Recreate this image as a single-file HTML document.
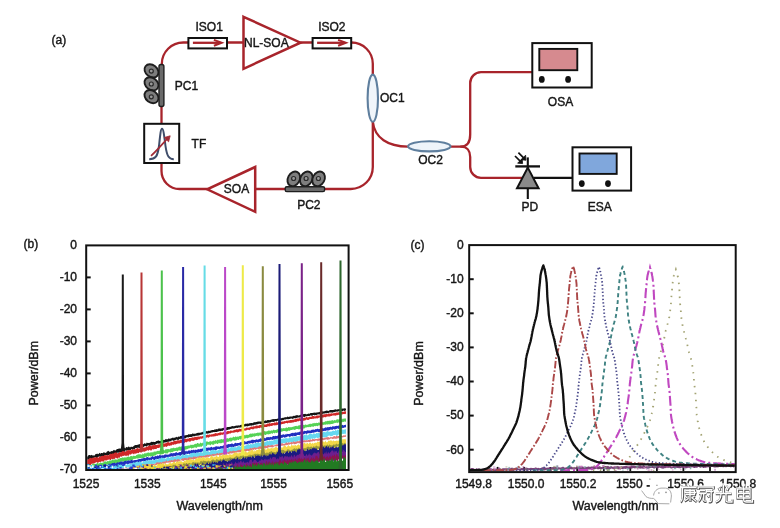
<!DOCTYPE html>
<html><head><meta charset="utf-8"><style>
html,body{margin:0;padding:0;background:#fff;width:780px;height:528px;overflow:hidden}
svg{display:block;will-change:transform}
text{font-family:"Liberation Sans",sans-serif}
</style></head><body>
<svg width="780" height="528" viewBox="0 0 780 528">
<rect width="780" height="528" fill="#fff"/>
<g fill="none" stroke="#a8242b" stroke-width="2.3" stroke-linecap="round">
<path d="M161.8,66 L161.8,64 A21.5,21.5 0 0 1 183.3,42.5 L189,42.5"/>
<path d="M227,42.5 L244,42.5"/>
<path d="M301,42.5 L313,42.5"/>
<path d="M351.5,42.5 A21.3,21.3 0 0 1 372.8,63.8 L372.8,75"/>
<path d="M372.8,121.5 L372.8,167 A22,22 0 0 1 350.8,189 L325,189"/>
<path d="M284.6,189 L255.4,189"/>
<path d="M207,189 L179.5,189 A18,18 0 0 1 161.5,171 L161.5,163"/>
<path d="M161.5,123.6 L161.5,106"/>
<path d="M372.8,121.5 C374.5,138 388,146.6 408,146.6"/>
<path d="M450.6,146.6 L461,146.6 C467,146.6 470.2,142 470.2,134.6 L470.2,83 A10.8,10.8 0 0 1 481,72.2 L531.4,72.2"/>
<path d="M461,146.6 C467,146.6 470.2,151 470.2,157 L470.2,167 A10.8,10.8 0 0 0 481,177.8 L522,177.8"/>
</g>
<rect x="188.4" y="38" width="38.6" height="10.4" fill="#fff" stroke="#111" stroke-width="2"/>
<path d="M192.9,42.8 L220.4,42.8" stroke="#a8242b" stroke-width="2.3"/>
<path d="M213.9,39.9 L221.7,42.8 L213.9,45.7" fill="none" stroke="#a8242b" stroke-width="2" stroke-linejoin="miter"/>
<rect x="312.6" y="38" width="38.6" height="10.4" fill="#fff" stroke="#111" stroke-width="2"/>
<path d="M317.1,42.8 L344.6,42.8" stroke="#a8242b" stroke-width="2.3"/>
<path d="M338.1,39.9 L345.9,42.8 L338.1,45.7" fill="none" stroke="#a8242b" stroke-width="2" stroke-linejoin="miter"/>
<text x="195.5" y="30.8" font-size="12" text-anchor="start" fill="#161616" stroke="#161616" stroke-width="0.4" >ISO1</text>
<text x="318.2" y="30.8" font-size="12" text-anchor="start" fill="#161616" stroke="#161616" stroke-width="0.4" >ISO2</text>
<path d="M243.5,16.8 L300.5,42.7 L243.5,68.8 Z" fill="#fff" stroke="#a8242b" stroke-width="2.5" stroke-linejoin="miter"/>
<text x="244" y="46.8" font-size="12" text-anchor="start" fill="#161616" stroke="#161616" stroke-width="0.4" >NL-SOA</text>
<path d="M255.2,167 L207.2,189.3 L255.2,211.8 Z" fill="#fff" stroke="#a8242b" stroke-width="2.5"/>
<text x="223.8" y="192.8" font-size="12" text-anchor="start" fill="#161616" stroke="#161616" stroke-width="0.4" >SOA</text>
<ellipse cx="151.5" cy="70.9" rx="7.6" ry="5.9" transform="rotate(38 151.5 70.9)" fill="#7e7e7e" stroke="#1e1e1e" stroke-width="1.9"/>
<circle cx="151.3" cy="71.1" r="2.0" fill="#9a9a9a" stroke="#2a2a2a" stroke-width="1.2"/>
<ellipse cx="151.5" cy="83.8" rx="7.6" ry="5.9" transform="rotate(38 151.5 83.8)" fill="#7e7e7e" stroke="#1e1e1e" stroke-width="1.9"/>
<circle cx="151.3" cy="84" r="2.0" fill="#9a9a9a" stroke="#2a2a2a" stroke-width="1.2"/>
<ellipse cx="151.5" cy="96.6" rx="7.6" ry="5.9" transform="rotate(38 151.5 96.6)" fill="#7e7e7e" stroke="#1e1e1e" stroke-width="1.9"/>
<circle cx="151.3" cy="96.8" r="2.0" fill="#9a9a9a" stroke="#2a2a2a" stroke-width="1.2"/>
<rect x="159" y="64.5" width="4.9" height="42" rx="2" fill="#6a6a6a" stroke="#1e1e1e" stroke-width="1.4"/>
<text x="174.8" y="90.4" font-size="12" text-anchor="start" fill="#161616" stroke="#161616" stroke-width="0.4" >PC1</text>
<ellipse cx="293.8" cy="178.9" rx="7.7" ry="5.9" transform="rotate(-62 293.8 178.9)" fill="#7e7e7e" stroke="#1e1e1e" stroke-width="1.9"/>
<circle cx="293.6" cy="178.5" r="2.0" fill="#9a9a9a" stroke="#2a2a2a" stroke-width="1.2"/>
<ellipse cx="306.3" cy="178.9" rx="7.7" ry="5.9" transform="rotate(-62 306.3 178.9)" fill="#7e7e7e" stroke="#1e1e1e" stroke-width="1.9"/>
<circle cx="306.1" cy="178.5" r="2.0" fill="#9a9a9a" stroke="#2a2a2a" stroke-width="1.2"/>
<ellipse cx="318.6" cy="178.9" rx="7.7" ry="5.9" transform="rotate(-62 318.6 178.9)" fill="#7e7e7e" stroke="#1e1e1e" stroke-width="1.9"/>
<circle cx="318.4" cy="178.5" r="2.0" fill="#9a9a9a" stroke="#2a2a2a" stroke-width="1.2"/>
<rect x="285.2" y="186.7" width="39.4" height="4.9" rx="1.6" fill="#6a6a6a" stroke="#1e1e1e" stroke-width="1.4"/>
<text x="297.2" y="208.6" font-size="12" text-anchor="start" fill="#161616" stroke="#161616" stroke-width="0.4" >PC2</text>
<rect x="144.2" y="123.8" width="35" height="39.2" fill="#fff" stroke="#111" stroke-width="2"/>
<path d="M149.2,159.2 C155.5,159.2 157.5,157 159,146 C160.3,134 160.8,128.8 162,128.8 C163.3,128.8 164,134 165.5,146 C167,156.5 169,159.2 173.8,159.2" fill="none" stroke="#3f4d6a" stroke-width="2"/>
<path d="M151,155.8 C156,151.5 161,145.5 167.5,138.5" fill="none" stroke="#a02a35" stroke-width="1.7"/>
<path d="M164.2,137.6 L170.2,135.8 L168.6,141.8 Z" fill="#a02a35" stroke="#a02a35" stroke-width="0.8"/>
<text x="191.6" y="147.6" font-size="12" text-anchor="start" fill="#161616" stroke="#161616" stroke-width="0.4" >TF</text>
<ellipse cx="372.8" cy="98.2" rx="5.2" ry="23.6" fill="#f0f5fa" stroke="#5f7f9e" stroke-width="2.1"/>
<text x="380" y="102.2" font-size="12" text-anchor="start" fill="#161616" stroke="#161616" stroke-width="0.4" >OC1</text>
<ellipse cx="429.3" cy="146.3" rx="21.2" ry="5.1" fill="#eef4fa" stroke="#5f7f9e" stroke-width="2.1"/>
<text x="418.2" y="164.2" font-size="12" text-anchor="start" fill="#161616" stroke="#161616" stroke-width="0.4" >OC2</text>
<rect x="532.3" y="43.1" width="59.4" height="44.4" fill="#fff" stroke="#111" stroke-width="2"/>
<rect x="539.3" y="48.9" width="38" height="21.3" fill="#d68a8f" stroke="#111" stroke-width="1.9"/>
<ellipse cx="541.8" cy="79.4" rx="2.9" ry="3.4" fill="#111"/>
<ellipse cx="568.1" cy="79.4" rx="2.9" ry="3.4" fill="#111"/>
<text x="547.8" y="105.6" font-size="12" text-anchor="start" fill="#161616" stroke="#161616" stroke-width="0.4" >OSA</text>
<rect x="572.5" y="147.3" width="58.6" height="43.3" fill="#fff" stroke="#111" stroke-width="2"/>
<rect x="579.5" y="153.5" width="37.2" height="20.4" fill="#80a7dc" stroke="#111" stroke-width="1.9"/>
<ellipse cx="581.8" cy="183.6" rx="2.9" ry="3.4" fill="#111"/>
<ellipse cx="608" cy="183.6" rx="2.9" ry="3.4" fill="#111"/>
<text x="587.8" y="210.8" font-size="12" text-anchor="start" fill="#161616" stroke="#161616" stroke-width="0.4" >ESA</text>
<path d="M534,177.9 L572.5,177.9" stroke="#111" stroke-width="2.1"/>
<path d="M527.8,157.4 L527.8,199" stroke="#111" stroke-width="2.1"/>
<path d="M515.3,166.4 L540,166.4" stroke="#111" stroke-width="2.3"/>
<path d="M527.8,167.6 L538.6,188.3 L517,188.3 Z" fill="#8a8a8a" stroke="#111" stroke-width="2" stroke-linejoin="miter"/>
<path d="M515.0,156.0 L521.2,162.2 M518.4,152.6 L524.6,158.8" stroke="#111" stroke-width="1.7"/>
<path d="M517.6,163.2 L522.6,163.6 L522.2,158.6 Z M521.0,159.8 L526.0,160.2 L525.6,155.2 Z" fill="#111" stroke="#111" stroke-width="0.8" stroke-linejoin="miter"/>
<text x="521.6" y="210.8" font-size="12" text-anchor="start" fill="#161616" stroke="#161616" stroke-width="0.4" >PD</text>
<text x="51.6" y="44.2" font-size="12" text-anchor="start" fill="#161616" stroke="#161616" stroke-width="0.4" >(a)</text>
<defs><clipPath id="cb"><rect x="87.2" y="246.4" width="260.4" height="222.6"/></clipPath><clipPath id="cc"><rect x="470" y="246" width="264.7" height="225"/></clipPath></defs>
<g clip-path="url(#cb)">
<path d="M86,456.4 L86.8,456.8 L87.6,456.4 L88.4,455.3 L89.2,455.1 L90,455 L90.8,455.4 L91.6,454.7 L92.4,455.4 L93.2,455.2 L94,455.7 L94.8,455.3 L95.6,453.9 L96.4,454 L97.2,453.6 L98,454.2 L98.8,453.8 L99.6,452.8 L100.4,453.7 L101.2,452.9 L102,452.9 L102.8,453.3 L103.6,452.2 L104.4,452.5 L105.2,452.7 L106,452.9 L106.8,451.8 L107.6,451.2 L108.4,450.8 L109.2,451.8 L110,451.8 L110.8,451.4 L111.6,451 L112.4,451.2 L113.2,450.5 L114,449.7 L114.8,450.4 L115.6,450.5 L116.4,449.6 L117.2,448.9 L118,448.9 L118.8,448.6 L119.6,448.5 L120.4,448.8 L121.2,448.1 L122,448.6 L122.8,448.9 L123.6,447.9 L124.4,447.8 L125.2,448.5 L126,447.2 L126.8,447.1 L127.6,447.5 L128.4,446.5 L129.2,446.8 L130,447.5 L130.8,446.7 L131.6,446.7 L132.4,446.9 L133.2,446.6 L134,445.8 L134.8,445.3 L135.6,445 L136.4,445.1 L137.2,445.1 L138,444.4 L138.8,444.4 L139.6,444.1 L140.4,444.7 L141.2,444.1 L142,444.1 L142.8,444.5 L143.6,443.9 L144.4,443.2 L145.2,443.4 L146,443.8 L146.8,442.6 L147.6,443.1 L148.4,442.9 L149.2,442.8 L150,443 L150.8,442.1 L151.6,441.8 L152.4,442.1 L153.2,441.7 L154,442.1 L154.8,442 L155.6,441.8 L156.4,440.9 L157.2,440.9 L158,440.4 L158.8,440.5 L159.6,441.1 L160.4,440.9 L161.2,440.7 L162,439.8 L162.8,439.6 L163.6,439.9 L164.4,439.9 L165.2,439.6 L166,438.8 L166.8,439.5 L167.6,439.2 L168.4,438.4 L169.2,438.4 L170,438.9 L170.8,438.2 L171.6,438.3 L172.4,437.6 L173.2,438.2 L174,437.3 L174.8,437.9 L175.6,437.2 L176.4,436.8 L177.2,437.4 L178,436.8 L178.8,436.6 L179.6,436.8 L180.4,436.1 L181.2,435.9 L182,435.8 L182.8,435.5 L183.6,435.6 L184.4,435.6 L185.2,435.3 L186,435.2 L186.8,435.1 L187.6,434.9 L188.4,434.3 L189.2,434.3 L190,434.6 L190.8,434.1 L191.6,434.2 L192.4,433.6 L193.2,433.6 L194,433.9 L194.8,433.6 L195.6,433.7 L196.4,433.3 L197.2,433 L198,432.8 L198.8,432.7 L199.6,432.7 L200.4,432.8 L201.2,432.3 L202,432.4 L202.8,431.7 L203.6,431.5 L204.4,431.4 L205.2,431.7 L206,431.1 L206.8,431.3 L207.6,431.3 L208.4,430.7 L209.2,430.7 L210,430.9 L210.8,430.2 L211.6,430.3 L212.4,429.9 L213.2,430.1 L214,429.9 L214.8,429.3 L215.6,429.6 L216.4,429.1 L217.2,429.4 L218,428.8 L218.8,428.6 L219.6,428.6 L220.4,428.6 L221.2,428.7 L222,428.1 L222.8,428.2 L223.6,427.8 L224.4,428 L225.2,427.5 L226,427.7 L226.8,427.2 L227.6,427 L228.4,427.1 L229.2,427.1 L230,426.7 L230.8,426.7 L231.6,426.3 L232.4,426.1 L233.2,426.2 L234,426.3 L234.8,426 L235.6,425.8 L236.4,425.5 L237.2,425.7 L238,425.2 L238.8,425.6 L239.6,425.4 L240.4,425 L241.2,424.8 L242,424.8 L242.8,424.5 L243.6,424.6 L244.4,424.2 L245.2,423.8 L246,423.7 L246.8,423.7 L247.6,423.4 L248.4,423.8 L249.2,423.3 L250,423.2 L250.8,422.9 L251.6,422.9 L252.4,423.2 L253.2,422.6 L254,422.5 L254.8,422.1 L255.6,422.3 L256.4,422 L257.2,421.7 L258,421.6 L258.8,421.4 L259.6,421.5 L260.4,421.6 L261.2,421.5 L262,421.4 L262.8,421 L263.6,421.3 L264.4,421 L265.2,420.3 L266,420.8 L266.8,420.6 L267.6,420 L268.4,420.1 L269.2,420.2 L270,419.9 L270.8,419.8 L271.6,419.4 L272.4,419.2 L273.2,419 L274,419.2 L274.8,419.1 L275.6,418.9 L276.4,419 L277.2,418.7 L278,418.6 L278.8,418.6 L279.6,418 L280.4,418.3 L281.2,418.2 L282,417.9 L282.8,417.7 L283.6,417.8 L284.4,417.6 L285.2,417.1 L286,417.4 L286.8,417.1 L287.6,416.6 L288.4,416.9 L289.2,416.8 L290,416.6 L290.8,416.4 L291.6,416.6 L292.4,416.5 L293.2,415.7 L294,416.1 L294.8,415.7 L295.6,415.4 L296.4,415.3 L297.2,415.1 L298,415.6 L298.8,415.4 L299.6,415.3 L300.4,414.7 L301.2,414.8 L302,414.3 L302.8,414.5 L303.6,414.1 L304.4,414.1 L305.2,413.8 L306,414.2 L306.8,414.2 L307.6,414 L308.4,413.5 L309.2,413.9 L310,413.3 L310.8,413.1 L311.6,412.9 L312.4,412.9 L313.2,412.7 L314,412.8 L314.8,412.6 L315.6,412.8 L316.4,412.5 L317.2,412.6 L318,412.3 L318.8,412.2 L319.6,412.1 L320.4,411.6 L321.2,412 L322,411.5 L322.8,411.3 L323.6,411.6 L324.4,411.3 L325.2,411.1 L326,410.7 L326.8,410.6 L327.6,410.7 L328.4,410.9 L329.2,410.4 L330,410.1 L330.8,410.1 L331.6,409.9 L332.4,410.1 L333.2,410.1 L334,409.7 L334.8,409.6 L335.6,409.2 L336.4,409.7 L337.2,409.3 L338,409.4 L338.8,408.9 L339.6,408.9 L340.4,409.2 L341.2,409 L342,408.3 L342.8,408.8 L343.6,408.4 L344.4,408.2 L345.2,408.4 L346,408.4 L346,410.3 L345.2,410.8 L344.4,411 L343.6,410.4 L342.8,410.9 L342,411.2 L341.2,410.8 L340.4,411.5 L339.6,411.3 L338.8,411.3 L338,411.4 L337.2,411.8 L336.4,411.6 L335.6,411.8 L334.8,411.9 L334,412.2 L333.2,412.2 L332.4,412.7 L331.6,412.4 L330.8,412.4 L330,412.5 L329.2,412.6 L328.4,413.3 L327.6,412.9 L326.8,413.5 L326,413.1 L325.2,413.4 L324.4,413.5 L323.6,413.5 L322.8,414 L322,413.8 L321.2,413.8 L320.4,413.9 L319.6,414.4 L318.8,414.4 L318,414.2 L317.2,414.7 L316.4,415.1 L315.6,415.1 L314.8,415.4 L314,415 L313.2,415.1 L312.4,415.7 L311.6,415.8 L310.8,415.3 L310,415.7 L309.2,416 L308.4,416 L307.6,416 L306.8,416.4 L306,416.1 L305.2,416.7 L304.4,416.9 L303.6,416.7 L302.8,416.8 L302,417 L301.2,416.8 L300.4,417.6 L299.6,417.6 L298.8,417.5 L298,417.4 L297.2,417.8 L296.4,418 L295.6,418.4 L294.8,418 L294,418.6 L293.2,418.4 L292.4,418.9 L291.6,418.5 L290.8,418.6 L290,418.9 L289.2,418.9 L288.4,419.3 L287.6,419.2 L286.8,419.1 L286,419.5 L285.2,419.6 L284.4,419.6 L283.6,420.1 L282.8,420.3 L282,420.2 L281.2,420.7 L280.4,420.3 L279.6,420.5 L278.8,420.6 L278,420.6 L277.2,421.1 L276.4,421.4 L275.6,421 L274.8,421.6 L274,421.7 L273.2,422 L272.4,421.8 L271.6,421.7 L270.8,422.3 L270,422.5 L269.2,422.6 L268.4,422.8 L267.6,422.7 L266.8,423 L266,423 L265.2,423.3 L264.4,423.3 L263.6,423.1 L262.8,423.4 L262,423.9 L261.2,423.9 L260.4,423.9 L259.6,423.8 L258.8,423.8 L258,424.2 L257.2,424.3 L256.4,424.6 L255.6,424.7 L254.8,424.8 L254,424.9 L253.2,425.5 L252.4,425.3 L251.6,425.7 L250.8,425.5 L250,425.7 L249.2,425.7 L248.4,426.1 L247.6,426.4 L246.8,426 L246,426.6 L245.2,426.3 L244.4,426.6 L243.6,426.9 L242.8,427.2 L242,427.4 L241.2,427.3 L240.4,427.6 L239.6,427.5 L238.8,427.4 L238,427.8 L237.2,428 L236.4,427.8 L235.6,427.9 L234.8,428.2 L234,428.4 L233.2,428.6 L232.4,428.6 L231.6,428.7 L230.8,428.9 L230,429 L229.2,429.7 L228.4,429.5 L227.6,430 L226.8,430.1 L226,430.2 L225.2,430.5 L224.4,430.2 L223.6,430.1 L222.8,430.7 L222,431 L221.2,430.7 L220.4,431.3 L219.6,430.9 L218.8,431.5 L218,431.3 L217.2,432 L216.4,432.1 L215.6,431.9 L214.8,432 L214,432.2 L213.2,432.1 L212.4,432.4 L211.6,432.6 L210.8,432.8 L210,433.2 L209.2,433.1 L208.4,433.6 L207.6,433.8 L206.8,433.3 L206,433.9 L205.2,434.2 L204.4,434.2 L203.6,434 L202.8,434.4 L202,434.3 L201.2,435 L200.4,434.7 L199.6,435.3 L198.8,435.5 L198,435.4 L197.2,435.7 L196.4,435.7 L195.6,435.8 L194.8,436.2 L194,436.2 L193.2,436.2 L192.4,436.6 L191.6,436.9 L190.8,436.9 L190,437.1 L189.2,437.1 L188.4,437.6 L187.6,437.2 L186.8,437.2 L186,437.9 L185.2,438.4 L184.4,438.5 L183.6,438.3 L182.8,438.9 L182,438.6 L181.2,438.9 L180.4,438.8 L179.6,438.9 L178.8,439.7 L178,439.9 L177.2,439.8 L176.4,439.4 L175.6,440.1 L174.8,440.3 L174,440.7 L173.2,440.8 L172.4,440.3 L171.6,440.5 L170.8,441.5 L170,441.1 L169.2,441.7 L168.4,441.8 L167.6,441.7 L166.8,442.2 L166,442.2 L165.2,442.5 L164.4,442.4 L163.6,443 L162.8,442.4 L162,442.6 L161.2,442.9 L160.4,443.8 L159.6,443.4 L158.8,443.8 L158,443.5 L157.2,443.4 L156.4,444.1 L155.6,444.6 L154.8,444.8 L154,445.2 L153.2,444.5 L152.4,445.3 L151.6,445.5 L150.8,445.2 L150,445.8 L149.2,446.3 L148.4,445.3 L147.6,445.6 L146.8,446.8 L146,446 L145.2,446.3 L144.4,446.3 L143.6,446.9 L142.8,447.7 L142,446.8 L141.2,447.3 L140.4,447.2 L139.6,448.3 L138.8,447.8 L138,447.7 L137.2,447.8 L136.4,448.1 L135.6,448.1 L134.8,449.1 L134,448.9 L133.2,449.7 L132.4,449.8 L131.6,449 L130.8,450 L130,450.3 L129.2,450.3 L128.4,450.2 L127.6,450.2 L126.8,450.7 L126,450.5 L125.2,450.6 L124.4,451.8 L123.6,451.3 L122.8,452.2 L122,452.4 L121.2,451.9 L120.4,452.7 L119.6,452 L118.8,452.9 L118,452.2 L117.2,452.9 L116.4,453.4 L115.6,453 L114.8,454.2 L114,454 L113.2,454.1 L112.4,454.7 L111.6,454.1 L110.8,454.5 L110,454.3 L109.2,454.9 L108.4,455.2 L107.6,455.1 L106.8,455.7 L106,454.9 L105.2,455.4 L104.4,456.5 L103.6,456.2 L102.8,456.6 L102,456.1 L101.2,456.8 L100.4,456.7 L99.6,456.5 L98.8,456.5 L98,457.2 L97.2,457.7 L96.4,458.3 L95.6,457.3 L94.8,457.8 L94,457.6 L93.2,458.4 L92.4,459.5 L91.6,458.5 L90.8,459.7 L90,458.6 L89.2,459.4 L88.4,459.7 L87.6,459.7 L86.8,459.3 L86,459.7Z" fill="#141414"/>
<path d="M120.6,451.5 L121.5,443 L121.8,274.4 L123.8,274.4 L124.1,443 L125,451.5 Z" fill="#1a1a1a"/>
<path d="M86,458.8 L86.8,459.4 L87.6,460.1 L88.4,459.3 L89.2,458.8 L90,457.8 L90.8,458 L91.6,458.6 L92.4,457.4 L93.2,458.2 L94,457.1 L94.8,457.7 L95.6,457.2 L96.4,457.5 L97.2,456.7 L98,457.8 L98.8,457.5 L99.6,456.1 L100.4,457.2 L101.2,455.9 L102,456 L102.8,455.7 L103.6,456 L104.4,455 L105.2,455.1 L106,455.5 L106.8,455.5 L107.6,454.8 L108.4,455.5 L109.2,455 L110,453.8 L110.8,453.8 L111.6,454 L112.4,453.3 L113.2,453.9 L114,452.8 L114.8,452.8 L115.6,452.5 L116.4,452.2 L117.2,453.4 L118,453 L118.8,453.1 L119.6,451.7 L120.4,452.5 L121.2,452.2 L122,451.5 L122.8,451 L123.6,451.1 L124.4,452 L125.2,451.8 L126,450.7 L126.8,451.3 L127.6,449.9 L128.4,450.2 L129.2,449.8 L130,450.7 L130.8,449.8 L131.6,450.1 L132.4,448.9 L133.2,450 L134,449.6 L134.8,448.8 L135.6,449.6 L136.4,448.4 L137.2,448.3 L138,447.7 L138.8,448.9 L139.6,448.7 L140.4,447.5 L141.2,448.4 L142,447.4 L142.8,447.3 L143.6,447.9 L144.4,447.5 L145.2,447.4 L146,446.9 L146.8,446.4 L147.6,446.8 L148.4,445.9 L149.2,445.8 L150,445.3 L150.8,445.6 L151.6,446.2 L152.4,445.2 L153.2,444.8 L154,445.4 L154.8,444.7 L155.6,445 L156.4,445 L157.2,444.7 L158,444.8 L158.8,444.3 L159.6,444.4 L160.4,443.6 L161.2,443.3 L162,443.7 L162.8,443.3 L163.6,443.3 L164.4,443.5 L165.2,443.5 L166,442.8 L166.8,443 L167.6,441.9 L168.4,441.9 L169.2,442.7 L170,442.5 L170.8,442.3 L171.6,441.4 L172.4,442 L173.2,441.5 L174,440.9 L174.8,440.7 L175.6,440.7 L176.4,440.9 L177.2,440.1 L178,440.7 L178.8,440.1 L179.6,440.5 L180.4,439.5 L181.2,439.7 L182,439.8 L182.8,439.2 L183.6,439.3 L184.4,439 L185.2,438.9 L186,438.8 L186.8,439.1 L187.6,438.5 L188.4,438.7 L189.2,437.9 L190,438.1 L190.8,437.9 L191.6,437.8 L192.4,437.3 L193.2,437.7 L194,437.1 L194.8,437.2 L195.6,436.8 L196.4,437 L197.2,436.5 L198,437 L198.8,436.3 L199.6,436.8 L200.4,436.2 L201.2,436.5 L202,436.3 L202.8,436.1 L203.6,435.9 L204.4,435.4 L205.2,435.6 L206,435 L206.8,435.1 L207.6,434.6 L208.4,435 L209.2,434.3 L210,434.7 L210.8,434.6 L211.6,434.3 L212.4,434.2 L213.2,433.9 L214,433.7 L214.8,433.6 L215.6,433.1 L216.4,433.3 L217.2,433.4 L218,433 L218.8,432.9 L219.6,432.5 L220.4,432.3 L221.2,432.5 L222,432.5 L222.8,432.4 L223.6,432 L224.4,431.9 L225.2,432.1 L226,431.9 L226.8,431.6 L227.6,431 L228.4,431.1 L229.2,431.3 L230,431.1 L230.8,430.3 L231.6,430.7 L232.4,430.7 L233.2,430.5 L234,430.1 L234.8,429.7 L235.6,429.8 L236.4,429.2 L237.2,429.2 L238,429.5 L238.8,428.9 L239.6,428.7 L240.4,429 L241.2,429 L242,428.6 L242.8,428.1 L243.6,428.4 L244.4,428.4 L245.2,428.4 L246,427.7 L246.8,427.6 L247.6,427.7 L248.4,427.7 L249.2,427.4 L250,427.2 L250.8,426.8 L251.6,426.4 L252.4,426.8 L253.2,426.5 L254,426.1 L254.8,426.4 L255.6,425.7 L256.4,425.6 L257.2,425.6 L258,425.7 L258.8,425.6 L259.6,425.1 L260.4,425 L261.2,424.8 L262,425.2 L262.8,424.7 L263.6,424.3 L264.4,424.6 L265.2,424.5 L266,424.6 L266.8,423.9 L267.6,423.6 L268.4,423.7 L269.2,423.3 L270,423.1 L270.8,423.7 L271.6,423 L272.4,423.1 L273.2,423.2 L274,422.7 L274.8,422.3 L275.6,422.8 L276.4,422 L277.2,422.5 L278,422.3 L278.8,421.8 L279.6,421.7 L280.4,421.6 L281.2,421.7 L282,421.6 L282.8,421.4 L283.6,421.4 L284.4,420.9 L285.2,421.3 L286,421.1 L286.8,420.4 L287.6,420.7 L288.4,420.6 L289.2,420.5 L290,419.9 L290.8,420.1 L291.6,420 L292.4,419.7 L293.2,419.7 L294,419.4 L294.8,419.3 L295.6,418.9 L296.4,418.7 L297.2,418.6 L298,418.4 L298.8,418.5 L299.6,418.1 L300.4,418.5 L301.2,418.4 L302,417.8 L302.8,417.9 L303.6,418.1 L304.4,417.4 L305.2,417.9 L306,417.1 L306.8,417 L307.6,417.5 L308.4,417.2 L309.2,417 L310,416.5 L310.8,416.9 L311.6,416.4 L312.4,416 L313.2,416.1 L314,416 L314.8,416.4 L315.6,416.2 L316.4,415.4 L317.2,415.6 L318,415.4 L318.8,415.4 L319.6,415.5 L320.4,415.4 L321.2,414.6 L322,415.1 L322.8,414.4 L323.6,414.6 L324.4,414.3 L325.2,414.3 L326,414.1 L326.8,414 L327.6,414.2 L328.4,413.6 L329.2,413.4 L330,413.8 L330.8,413.6 L331.6,413.3 L332.4,413.6 L333.2,413.4 L334,412.8 L334.8,413.2 L335.6,412.7 L336.4,412.4 L337.2,412.6 L338,412.6 L338.8,412.2 L339.6,411.9 L340.4,412.2 L341.2,411.7 L342,412 L342.8,411.4 L343.6,411.9 L344.4,411.2 L345.2,411.5 L346,411 L346,413.6 L345.2,414.2 L344.4,413.9 L343.6,414 L342.8,414.3 L342,414.5 L341.2,414.5 L340.4,414.8 L339.6,415 L338.8,414.7 L338,415.1 L337.2,415.3 L336.4,415.2 L335.6,415.7 L334.8,415.5 L334,415.4 L333.2,415.4 L332.4,415.5 L331.6,415.9 L330.8,416 L330,416.5 L329.2,416.6 L328.4,416.6 L327.6,416.6 L326.8,416.5 L326,417.2 L325.2,417.2 L324.4,417.1 L323.6,417.5 L322.8,417.3 L322,417.9 L321.2,417.4 L320.4,417.5 L319.6,417.5 L318.8,417.8 L318,418.3 L317.2,418.5 L316.4,418.3 L315.6,418.6 L314.8,418.6 L314,418.6 L313.2,419.1 L312.4,418.8 L311.6,419.1 L310.8,419 L310,419.1 L309.2,419.4 L308.4,419.9 L307.6,420 L306.8,419.5 L306,419.8 L305.2,420.5 L304.4,420.6 L303.6,420.7 L302.8,420.8 L302,420.8 L301.2,421 L300.4,421.1 L299.6,420.7 L298.8,420.9 L298,421.7 L297.2,421.1 L296.4,422 L295.6,421.9 L294.8,421.7 L294,422.2 L293.2,422.4 L292.4,422.6 L291.6,422.8 L290.8,422.7 L290,423 L289.2,422.7 L288.4,422.8 L287.6,423.5 L286.8,423 L286,423 L285.2,423.3 L284.4,423.8 L283.6,423.8 L282.8,423.9 L282,423.9 L281.2,424.5 L280.4,424.5 L279.6,424.1 L278.8,424.3 L278,424.7 L277.2,424.9 L276.4,425.3 L275.6,425.3 L274.8,425.6 L274,425.3 L273.2,425.3 L272.4,425.8 L271.6,425.9 L270.8,425.7 L270,426.2 L269.2,426.5 L268.4,426.2 L267.6,426.6 L266.8,427 L266,427 L265.2,426.9 L264.4,427 L263.6,427.4 L262.8,427.2 L262,427.8 L261.2,427.8 L260.4,427.6 L259.6,428.3 L258.8,428.1 L258,428 L257.2,428.5 L256.4,428.4 L255.6,428.6 L254.8,428.5 L254,428.8 L253.2,429.4 L252.4,429.2 L251.6,429.1 L250.8,429.2 L250,429.8 L249.2,430.2 L248.4,429.8 L247.6,429.8 L246.8,430 L246,430.7 L245.2,430.6 L244.4,430.5 L243.6,430.8 L242.8,431.4 L242,431.5 L241.2,431.4 L240.4,431.4 L239.6,431.6 L238.8,432 L238,432.2 L237.2,432.4 L236.4,432 L235.6,432.2 L234.8,432.3 L234,433 L233.2,432.5 L232.4,432.8 L231.6,432.8 L230.8,433.2 L230,433.8 L229.2,433.3 L228.4,434.1 L227.6,434.3 L226.8,434.3 L226,434.6 L225.2,434 L224.4,434.4 L223.6,434.3 L222.8,435 L222,434.6 L221.2,434.7 L220.4,435.2 L219.6,435.3 L218.8,435.2 L218,435.4 L217.2,436 L216.4,435.7 L215.6,436.2 L214.8,436.2 L214,436.5 L213.2,436.6 L212.4,436.5 L211.6,436.8 L210.8,436.6 L210,436.7 L209.2,437.3 L208.4,437.7 L207.6,437.3 L206.8,437.6 L206,437.7 L205.2,437.7 L204.4,438.4 L203.6,438.1 L202.8,438.2 L202,438.8 L201.2,438.7 L200.4,438.6 L199.6,439.6 L198.8,439 L198,439.9 L197.2,439.7 L196.4,440.2 L195.6,439.8 L194.8,440.2 L194,440.5 L193.2,440.9 L192.4,440.8 L191.6,440.6 L190.8,441.4 L190,441.5 L189.2,441.8 L188.4,441.3 L187.6,441.5 L186.8,442.4 L186,442 L185.2,442.3 L184.4,442.9 L183.6,442.4 L182.8,443 L182,442.5 L181.2,443.2 L180.4,442.9 L179.6,443.6 L178.8,443.4 L178,443.5 L177.2,443.8 L176.4,443.9 L175.6,444.5 L174.8,444.2 L174,444.6 L173.2,445 L172.4,444.6 L171.6,445.6 L170.8,445.4 L170,445.5 L169.2,445.9 L168.4,445.6 L167.6,445.9 L166.8,446.8 L166,446.9 L165.2,446.2 L164.4,447.1 L163.6,446.7 L162.8,447.8 L162,447.2 L161.2,448.1 L160.4,447.5 L159.6,447.6 L158.8,448 L158,448.1 L157.2,448 L156.4,449.1 L155.6,449.1 L154.8,448.9 L154,449.2 L153.2,449.4 L152.4,449.1 L151.6,450.4 L150.8,450.6 L150,450.2 L149.2,449.7 L148.4,450.9 L147.6,450.1 L146.8,450.7 L146,450.8 L145.2,451.6 L144.4,451.8 L143.6,451.2 L142.8,451.8 L142,451.6 L141.2,452.9 L140.4,452.3 L139.6,451.9 L138.8,453 L138,453.3 L137.2,452.8 L136.4,453.6 L135.6,453.7 L134.8,453.3 L134,454.5 L133.2,453.7 L132.4,453.6 L131.6,453.7 L130.8,455.1 L130,454.1 L129.2,454.8 L128.4,455.9 L127.6,455.4 L126.8,455.5 L126,456.3 L125.2,455.5 L124.4,455.5 L123.6,456.1 L122.8,455.7 L122,456.5 L121.2,456.7 L120.4,456.3 L119.6,458 L118.8,457.2 L118,458.5 L117.2,458.5 L116.4,457.9 L115.6,457.5 L114.8,459.3 L114,458.5 L113.2,459.6 L112.4,458.9 L111.6,458.7 L110.8,460.2 L110,460.1 L109.2,459.3 L108.4,459.7 L107.6,459.7 L106.8,460.8 L106,460.1 L105.2,460.7 L104.4,460.2 L103.6,462 L102.8,460.9 L102,461.9 L101.2,460.9 L100.4,462.4 L99.6,461.7 L98.8,462.3 L98,462.8 L97.2,462.7 L96.4,462 L95.6,462.6 L94.8,463.5 L94,462.7 L93.2,464.2 L92.4,463.5 L91.6,463.8 L90.8,465.2 L90,465.1 L89.2,464.9 L88.4,465.5 L87.6,465.6 L86.8,465.7 L86,464.9Z" fill="#d02828"/>
<path d="M139.3,451.4 L140.2,442.9 L140.5,272.6 L142.5,272.6 L142.8,442.9 L143.7,451.4 Z" fill="#b83636"/>
<path d="M86,465.3 L86.8,465.7 L87.6,465.1 L88.4,466.1 L89.2,464.4 L90,464.2 L90.8,465.6 L91.6,465 L92.4,463.9 L93.2,463.5 L94,463.9 L94.8,463.7 L95.6,464.1 L96.4,463.8 L97.2,462.7 L98,463 L98.8,463.7 L99.6,463 L100.4,462.6 L101.2,462.9 L102,462.8 L102.8,462.8 L103.6,462.3 L104.4,461.5 L105.2,461 L106,462 L106.8,461.6 L107.6,461 L108.4,461.2 L109.2,461.1 L110,460.1 L110.8,461 L111.6,460.3 L112.4,459.4 L113.2,459.4 L114,460.6 L114.8,459 L115.6,459.6 L116.4,459.4 L117.2,459.7 L118,458.9 L118.8,458.4 L119.6,458.5 L120.4,457.9 L121.2,458.1 L122,457.8 L122.8,457.2 L123.6,457.7 L124.4,457.4 L125.2,457.1 L126,458.1 L126.8,456.7 L127.6,456.9 L128.4,456.3 L129.2,457.2 L130,456.5 L130.8,455.9 L131.6,456 L132.4,456.6 L133.2,455.8 L134,455.8 L134.8,456.1 L135.6,456 L136.4,455.1 L137.2,455 L138,454.1 L138.8,454.4 L139.6,454.3 L140.4,454.3 L141.2,454.5 L142,454.8 L142.8,453.3 L143.6,454.5 L144.4,453.1 L145.2,453.7 L146,452.6 L146.8,453.4 L147.6,452.4 L148.4,452.5 L149.2,452.5 L150,453.2 L150.8,451.9 L151.6,452.4 L152.4,452.3 L153.2,452.4 L154,451.3 L154.8,451.7 L155.6,451.4 L156.4,451.4 L157.2,450.8 L158,451 L158.8,450.8 L159.6,450.7 L160.4,450.6 L161.2,449.6 L162,450.2 L162.8,450.3 L163.6,449.7 L164.4,450.5 L165.2,449.8 L166,448.8 L166.8,449.6 L167.6,448.9 L168.4,449 L169.2,449.4 L170,449 L170.8,448.3 L171.6,448.2 L172.4,448.3 L173.2,447.7 L174,447.8 L174.8,448.3 L175.6,448.1 L176.4,447.5 L177.2,447.4 L178,447.4 L178.8,446.8 L179.6,446.6 L180.4,447 L181.2,446 L182,447 L182.8,445.7 L183.6,445.5 L184.4,446.6 L185.2,446.1 L186,446.3 L186.8,445.7 L187.6,445.7 L188.4,445.5 L189.2,445.4 L190,445.4 L190.8,444.4 L191.6,445.1 L192.4,444.8 L193.2,444.9 L194,444.4 L194.8,443.9 L195.6,443.7 L196.4,444 L197.2,443.1 L198,442.9 L198.8,443.8 L199.6,443.8 L200.4,442.5 L201.2,443.1 L202,443.5 L202.8,442.6 L203.6,442.7 L204.4,441.9 L205.2,441.6 L206,441.6 L206.8,441.4 L207.6,441.4 L208.4,442 L209.2,441.9 L210,440.8 L210.8,441.6 L211.6,441.4 L212.4,441.2 L213.2,440.8 L214,440.4 L214.8,440.9 L215.6,439.8 L216.4,440.7 L217.2,439.9 L218,439.6 L218.8,439.9 L219.6,439.6 L220.4,439.5 L221.2,439 L222,439.2 L222.8,439.4 L223.6,438.9 L224.4,439.4 L225.2,438.8 L226,438 L226.8,438.7 L227.6,438.1 L228.4,438.7 L229.2,438.1 L230,437.7 L230.8,437.5 L231.6,437.7 L232.4,437.8 L233.2,436.6 L234,437 L234.8,437.3 L235.6,436.2 L236.4,437 L237.2,436.6 L238,436.8 L238.8,436.4 L239.6,435.9 L240.4,436 L241.2,435.4 L242,436.1 L242.8,435.6 L243.6,435.3 L244.4,434.9 L245.2,435.4 L246,434.4 L246.8,435 L247.6,434.7 L248.4,434.9 L249.2,434.3 L250,433.8 L250.8,433.6 L251.6,433.7 L252.4,433.6 L253.2,433.2 L254,434 L254.8,432.8 L255.6,433.5 L256.4,433.1 L257.2,432.9 L258,432.2 L258.8,433 L259.6,432.5 L260.4,432.6 L261.2,432.6 L262,432.4 L262.8,431.6 L263.6,431.4 L264.4,431.1 L265.2,431.5 L266,431.3 L266.8,431.6 L267.6,431.1 L268.4,430.5 L269.2,430.5 L270,430.8 L270.8,430.7 L271.6,430.3 L272.4,430.7 L273.2,429.8 L274,429.7 L274.8,430.2 L275.6,430 L276.4,429.8 L277.2,429.5 L278,428.8 L278.8,429.4 L279.6,429.1 L280.4,428.9 L281.2,428.3 L282,428.3 L282.8,428.4 L283.6,428 L284.4,428.3 L285.2,428.2 L286,427.4 L286.8,427.5 L287.6,428 L288.4,427.1 L289.2,426.9 L290,427.6 L290.8,427 L291.6,427.3 L292.4,426.9 L293.2,426.4 L294,426.8 L294.8,426.1 L295.6,426 L296.4,425.8 L297.2,426.4 L298,425.6 L298.8,425.6 L299.6,425.2 L300.4,425.1 L301.2,425.5 L302,425.2 L302.8,424.9 L303.6,424.8 L304.4,425.3 L305.2,424.3 L306,425 L306.8,424.7 L307.6,424.8 L308.4,424.5 L309.2,423.7 L310,424.3 L310.8,423.5 L311.6,424.1 L312.4,423.6 L313.2,423.1 L314,423.5 L314.8,422.8 L315.6,423.2 L316.4,422.7 L317.2,422.9 L318,423 L318.8,422.3 L319.6,422.7 L320.4,422.5 L321.2,422.5 L322,422.4 L322.8,421.9 L323.6,422.2 L324.4,422 L325.2,421.2 L326,421.3 L326.8,421.2 L327.6,420.7 L328.4,421 L329.2,420.6 L330,421.1 L330.8,420.5 L331.6,420.4 L332.4,420 L333.2,420.8 L334,420.2 L334.8,420.1 L335.6,420.4 L336.4,419.5 L337.2,419.5 L338,419.1 L338.8,419.7 L339.6,418.9 L340.4,419.3 L341.2,419.3 L342,419.4 L342.8,418.4 L343.6,418.8 L344.4,418.4 L345.2,418.5 L346,418.5 L346,422 L345.2,421.4 L344.4,421.5 L343.6,422 L342.8,421.7 L342,422.4 L341.2,421.9 L340.4,422.5 L339.6,422.7 L338.8,422.4 L338,422.4 L337.2,423.2 L336.4,422.6 L335.6,422.9 L334.8,422.8 L334,423.4 L333.2,423.5 L332.4,424 L331.6,424 L330.8,424.1 L330,424.4 L329.2,424.3 L328.4,424.3 L327.6,424.4 L326.8,424.6 L326,424.3 L325.2,425.1 L324.4,424.6 L323.6,425 L322.8,424.6 L322,425.6 L321.2,425.2 L320.4,425.1 L319.6,425.5 L318.8,425.3 L318,426 L317.2,426.2 L316.4,425.8 L315.6,426.2 L314.8,426 L314,426.2 L313.2,426.9 L312.4,426.4 L311.6,426.6 L310.8,426.9 L310,427.2 L309.2,426.8 L308.4,427.2 L307.6,427 L306.8,427.4 L306,427.3 L305.2,427.7 L304.4,428.5 L303.6,428.7 L302.8,428 L302,428.2 L301.2,428.3 L300.4,429.1 L299.6,429.3 L298.8,429.4 L298,429.1 L297.2,429.1 L296.4,429.1 L295.6,429.4 L294.8,430 L294,429.8 L293.2,429.4 L292.4,429.7 L291.6,430.1 L290.8,430.1 L290,430.5 L289.2,431 L288.4,430.6 L287.6,431.2 L286.8,431.4 L286,431.5 L285.2,430.9 L284.4,430.9 L283.6,431.1 L282.8,431.3 L282,431.4 L281.2,431.7 L280.4,432.3 L279.6,432 L278.8,432.8 L278,432.1 L277.2,433.1 L276.4,433 L275.6,432.4 L274.8,433.4 L274,433 L273.2,432.8 L272.4,434 L271.6,433.2 L270.8,433.6 L270,434.3 L269.2,434.1 L268.4,434.6 L267.6,434.2 L266.8,434 L266,435.1 L265.2,435.1 L264.4,434.4 L263.6,434.7 L262.8,434.6 L262,435.8 L261.2,435.7 L260.4,435.5 L259.6,435.5 L258.8,435.8 L258,436.6 L257.2,435.6 L256.4,436.1 L255.6,436.1 L254.8,436.7 L254,436.6 L253.2,436.4 L252.4,437 L251.6,437.2 L250.8,437.5 L250,437.1 L249.2,437.7 L248.4,437.8 L247.6,438.4 L246.8,437.7 L246,438.6 L245.2,438.3 L244.4,438.8 L243.6,438.3 L242.8,439 L242,438.6 L241.2,439.4 L240.4,439.6 L239.6,438.9 L238.8,440 L238,440.1 L237.2,439.6 L236.4,440.4 L235.6,440.5 L234.8,440.8 L234,440.5 L233.2,440.3 L232.4,440.5 L231.6,441.4 L230.8,441.3 L230,441.7 L229.2,441.1 L228.4,441.9 L227.6,441.8 L226.8,442.2 L226,442.6 L225.2,441.9 L224.4,442.6 L223.6,442.8 L222.8,442.5 L222,442.9 L221.2,443.3 L220.4,443.2 L219.6,443.3 L218.8,442.7 L218,443.9 L217.2,443.9 L216.4,443.2 L215.6,444.1 L214.8,443.4 L214,444.7 L213.2,444.8 L212.4,444.7 L211.6,444 L210.8,445.2 L210,445.2 L209.2,444.6 L208.4,444.8 L207.6,444.6 L206.8,445.9 L206,446.2 L205.2,446 L204.4,445.2 L203.6,445.6 L202.8,445.6 L202,446.3 L201.2,447 L200.4,446.4 L199.6,446.7 L198.8,447 L198,446.5 L197.2,447.3 L196.4,447.9 L195.6,447.4 L194.8,447.5 L194,447.4 L193.2,448.3 L192.4,447.9 L191.6,448.8 L190.8,447.7 L190,447.9 L189.2,448.6 L188.4,448.4 L187.6,449.1 L186.8,449.3 L186,449.4 L185.2,449.8 L184.4,449.7 L183.6,449.2 L182.8,449.5 L182,450 L181.2,450.4 L180.4,450.7 L179.6,450.6 L178.8,450.3 L178,451.1 L177.2,451.6 L176.4,450.7 L175.6,451 L174.8,451 L174,451.6 L173.2,451.5 L172.4,452.2 L171.6,451.9 L170.8,452.6 L170,452.4 L169.2,451.7 L168.4,452.5 L167.6,453.4 L166.8,453.5 L166,453.2 L165.2,453.4 L164.4,452.7 L163.6,453.4 L162.8,454.2 L162,453.9 L161.2,454.5 L160.4,454.7 L159.6,454.3 L158.8,453.9 L158,453.9 L157.2,454.2 L156.4,454.5 L155.6,455.6 L154.8,455.6 L154,455.7 L153.2,456 L152.4,456.3 L151.6,456.3 L150.8,456.6 L150,456.6 L149.2,455.8 L148.4,456.9 L147.6,456.1 L146.8,456.4 L146,457.7 L145.2,456.4 L144.4,457.8 L143.6,457.9 L142.8,458.1 L142,458.3 L141.2,457.7 L140.4,458.3 L139.6,458.2 L138.8,458 L138,458.9 L137.2,458.2 L136.4,458.5 L135.6,458.7 L134.8,459 L134,458.8 L133.2,459.2 L132.4,460.2 L131.6,460.1 L130.8,460.8 L130,460.3 L129.2,460.6 L128.4,461 L127.6,460.2 L126.8,461.4 L126,461.1 L125.2,461.6 L124.4,461 L123.6,461.9 L122.8,461.6 L122,461.7 L121.2,461.3 L120.4,463 L119.6,462.8 L118.8,462.8 L118,463.5 L117.2,462.9 L116.4,463.3 L115.6,463.6 L114.8,463.5 L114,463.6 L113.2,464.2 L112.4,464 L111.6,464.9 L110.8,464 L110,464.7 L109.2,465.3 L108.4,464.6 L107.6,464.8 L106.8,464.6 L106,465.6 L105.2,465.3 L104.4,465.8 L103.6,465.7 L102.8,466.2 L102,466.5 L101.2,466.9 L100.4,466 L99.6,467.1 L98.8,466.7 L98,467.4 L97.2,467.3 L96.4,467.3 L95.6,467.5 L94.8,468.2 L94,467 L93.2,467.5 L92.4,468.4 L91.6,468.2 L90.8,469.1 L90,468.5 L89.2,469.7 L88.4,469.5 L87.6,468.7 L86.8,468.8 L86,469.3Z" fill="#55d255"/>
<path d="M159.6,453.6 L160.5,445.1 L160.8,270.4 L162.8,270.4 L163.2,445.1 L164,453.6 Z" fill="#4cc24c"/>
<path d="M86,467.9 L86.8,468.8 L87.6,468.8 L88.4,467.9 L89.2,468.5 L90,467.6 L90.8,468.1 L91.6,467 L92.4,467.2 L93.2,467.7 L94,467.6 L94.8,466.1 L95.6,467.5 L96.4,466.1 L97.2,466.6 L98,466.3 L98.8,466 L99.6,465.1 L100.4,466.6 L101.2,466.4 L102,466 L102.8,466 L103.6,465.5 L104.4,465.4 L105.2,465 L106,465 L106.8,464.7 L107.6,465.3 L108.4,464 L109.2,463.5 L110,464.8 L110.8,463.5 L111.6,463.8 L112.4,463 L113.2,463.1 L114,463 L114.8,462.5 L115.6,463.6 L116.4,463 L117.2,462.2 L118,462.5 L118.8,462.6 L119.6,462 L120.4,461.7 L121.2,461.8 L122,461.1 L122.8,462.3 L123.6,461.7 L124.4,461.1 L125.2,461 L126,460.6 L126.8,461.6 L127.6,460.2 L128.4,460.7 L129.2,460 L130,461.2 L130.8,459.8 L131.6,460 L132.4,460.2 L133.2,460.4 L134,460.2 L134.8,460.1 L135.6,460 L136.4,460 L137.2,459.8 L138,459.5 L138.8,459 L139.6,458.9 L140.4,459.1 L141.2,458.7 L142,458.3 L142.8,458.6 L143.6,458 L144.4,457.8 L145.2,458.3 L146,457.7 L146.8,457.1 L147.6,456.9 L148.4,457.4 L149.2,457.8 L150,457.6 L150.8,457.6 L151.6,456.7 L152.4,455.9 L153.2,456.6 L154,457 L154.8,456.3 L155.6,456.1 L156.4,456.3 L157.2,455.6 L158,455.5 L158.8,455.9 L159.6,454.8 L160.4,455.2 L161.2,455.3 L162,455.8 L162.8,454.8 L163.6,455.5 L164.4,454.7 L165.2,454 L166,455.1 L166.8,454.3 L167.6,454.7 L168.4,454.5 L169.2,454.5 L170,453.3 L170.8,453.6 L171.6,453 L172.4,453.6 L173.2,453 L174,453.3 L174.8,452.9 L175.6,452.6 L176.4,452 L177.2,453.1 L178,452.7 L178.8,452.4 L179.6,451.9 L180.4,452.1 L181.2,452.1 L182,451.3 L182.8,452.1 L183.6,451 L184.4,451.5 L185.2,451.5 L186,450.6 L186.8,451.5 L187.6,451.3 L188.4,450.4 L189.2,450.2 L190,450.7 L190.8,450.4 L191.6,449.7 L192.4,450.3 L193.2,450 L194,449.6 L194.8,450.5 L195.6,449.5 L196.4,450.1 L197.2,449.6 L198,449.4 L198.8,448.9 L199.6,449.4 L200.4,448.8 L201.2,448.9 L202,448.4 L202.8,448.5 L203.6,449.2 L204.4,448.5 L205.2,448.3 L206,448.1 L206.8,447.6 L207.6,447.7 L208.4,447.4 L209.2,447.4 L210,447.8 L210.8,447 L211.6,446.8 L212.4,447.7 L213.2,447 L214,447.4 L214.8,446.7 L215.6,446.6 L216.4,446.3 L217.2,446.5 L218,446.4 L218.8,446.6 L219.6,446.7 L220.4,445.9 L221.2,446.1 L222,446.3 L222.8,445.7 L223.6,445.2 L224.4,445.2 L225.2,445.3 L226,444.9 L226.8,444.5 L227.6,444.6 L228.4,444.1 L229.2,444.3 L230,444.1 L230.8,443.9 L231.6,443.6 L232.4,443.6 L233.2,444.2 L234,444 L234.8,443 L235.6,442.7 L236.4,443.3 L237.2,442.9 L238,443 L238.8,443.1 L239.6,442.7 L240.4,441.9 L241.2,442.5 L242,441.5 L242.8,441.5 L243.6,441.5 L244.4,441.1 L245.2,441.6 L246,441.7 L246.8,441.4 L247.6,441 L248.4,440.7 L249.2,441.1 L250,440.3 L250.8,440.8 L251.6,439.8 L252.4,439.7 L253.2,439.7 L254,440.1 L254.8,439.9 L255.6,439.8 L256.4,439.2 L257.2,439.8 L258,439.6 L258.8,439.3 L259.6,439 L260.4,438.2 L261.2,438.5 L262,438.9 L262.8,438.6 L263.6,438.3 L264.4,437.7 L265.2,438.4 L266,437.7 L266.8,437.1 L267.6,437.3 L268.4,437.1 L269.2,437.4 L270,436.7 L270.8,436.9 L271.6,437.2 L272.4,436.4 L273.2,436.1 L274,436.1 L274.8,436.2 L275.6,435.7 L276.4,436 L277.2,436 L278,435.2 L278.8,435.3 L279.6,434.9 L280.4,434.9 L281.2,435 L282,434.7 L282.8,434.6 L283.6,434.2 L284.4,435 L285.2,433.9 L286,434.7 L286.8,433.7 L287.6,433.9 L288.4,433.9 L289.2,434.1 L290,433.7 L290.8,433.6 L291.6,433 L292.4,432.7 L293.2,433.3 L294,432.5 L294.8,433.1 L295.6,432.3 L296.4,432.8 L297.2,432.2 L298,432.5 L298.8,431.9 L299.6,431.8 L300.4,431.5 L301.2,431.7 L302,431.9 L302.8,431.8 L303.6,431.3 L304.4,430.8 L305.2,431.1 L306,431.1 L306.8,430.7 L307.6,430.2 L308.4,430.4 L309.2,430.6 L310,430.6 L310.8,430.4 L311.6,429.7 L312.4,429.8 L313.2,429.5 L314,429.7 L314.8,429.8 L315.6,429.1 L316.4,429.3 L317.2,428.8 L318,428.8 L318.8,429.3 L319.6,429 L320.4,429 L321.2,428.7 L322,428.5 L322.8,428 L323.6,428.5 L324.4,428.1 L325.2,427.6 L326,427.2 L326.8,427.7 L327.6,427 L328.4,427.2 L329.2,427.1 L330,427.1 L330.8,426.5 L331.6,427.2 L332.4,426.3 L333.2,426.3 L334,426.5 L334.8,426.3 L335.6,425.9 L336.4,425.7 L337.2,426 L338,425.7 L338.8,425.6 L339.6,425.6 L340.4,425.7 L341.2,425.8 L342,424.8 L342.8,425 L343.6,425.4 L344.4,425.1 L345.2,425 L346,424.4 L346,427.5 L345.2,427.3 L344.4,427.5 L343.6,428 L342.8,427.8 L342,428.5 L341.2,428.5 L340.4,428.1 L339.6,428.8 L338.8,429 L338,428.4 L337.2,428.5 L336.4,429.1 L335.6,429.2 L334.8,429.4 L334,429.2 L333.2,429.1 L332.4,430 L331.6,429.8 L330.8,429.6 L330,429.9 L329.2,430.2 L328.4,430.4 L327.6,430.6 L326.8,430.5 L326,430.4 L325.2,431.2 L324.4,430.7 L323.6,431 L322.8,431.2 L322,431.4 L321.2,431 L320.4,431.7 L319.6,432.2 L318.8,432.2 L318,431.9 L317.2,431.6 L316.4,432 L315.6,432.3 L314.8,432.1 L314,432.9 L313.2,432.6 L312.4,432.8 L311.6,433.1 L310.8,433 L310,433.6 L309.2,432.9 L308.4,433.2 L307.6,433.2 L306.8,434.2 L306,433.5 L305.2,433.6 L304.4,433.9 L303.6,434.3 L302.8,434.8 L302,434.7 L301.2,434.8 L300.4,434.3 L299.6,435.3 L298.8,435.1 L298,435 L297.2,435 L296.4,435.7 L295.6,435.9 L294.8,436.2 L294,436 L293.2,435.8 L292.4,436.4 L291.6,435.9 L290.8,436.2 L290,437 L289.2,436.8 L288.4,436.3 L287.6,436.6 L286.8,437.1 L286,437.3 L285.2,437.6 L284.4,437.7 L283.6,437.1 L282.8,437.4 L282,437.9 L281.2,437.7 L280.4,438.4 L279.6,438.1 L278.8,438.2 L278,438.4 L277.2,439.1 L276.4,438.8 L275.6,439.2 L274.8,439.4 L274,439.6 L273.2,439.5 L272.4,440 L271.6,439.6 L270.8,439.8 L270,439.7 L269.2,440.3 L268.4,439.9 L267.6,440.1 L266.8,440.4 L266,440.4 L265.2,441 L264.4,441.1 L263.6,441.5 L262.8,440.8 L262,441 L261.2,441.6 L260.4,441.9 L259.6,441.8 L258.8,442.4 L258,442.4 L257.2,442.2 L256.4,442 L255.6,443 L254.8,442.6 L254,442.4 L253.2,443.5 L252.4,443.5 L251.6,443 L250.8,443.6 L250,443.1 L249.2,444.1 L248.4,443.3 L247.6,444.3 L246.8,443.9 L246,444.4 L245.2,444.1 L244.4,444.4 L243.6,444.7 L242.8,444.6 L242,444.6 L241.2,445.5 L240.4,445.9 L239.6,445.2 L238.8,445.5 L238,445.6 L237.2,446.2 L236.4,446 L235.6,446.5 L234.8,446.2 L234,447 L233.2,447.1 L232.4,446.8 L231.6,447.3 L230.8,446.9 L230,446.8 L229.2,447.5 L228.4,447.8 L227.6,448 L226.8,448.4 L226,447.6 L225.2,448.1 L224.4,448.6 L223.6,448.9 L222.8,448.8 L222,448.4 L221.2,448.7 L220.4,448.8 L219.6,449.4 L218.8,449.1 L218,449 L217.2,449.3 L216.4,450.3 L215.6,450.4 L214.8,450.2 L214,449.6 L213.2,450.6 L212.4,449.8 L211.6,450.1 L210.8,450.8 L210,450.5 L209.2,450.2 L208.4,450.6 L207.6,450.7 L206.8,451.6 L206,450.7 L205.2,451.2 L204.4,451 L203.6,451.3 L202.8,451.3 L202,451.4 L201.2,452.4 L200.4,452.6 L199.6,451.9 L198.8,452.2 L198,453.1 L197.2,453.2 L196.4,452.4 L195.6,453.4 L194.8,453.4 L194,452.5 L193.2,453.4 L192.4,454 L191.6,454 L190.8,453.4 L190,453.5 L189.2,454.4 L188.4,453.6 L187.6,453.9 L186.8,454 L186,453.6 L185.2,454.9 L184.4,455 L183.6,454.2 L182.8,454.3 L182,454.5 L181.2,455 L180.4,455.9 L179.6,455.5 L178.8,455.5 L178,455.2 L177.2,455.8 L176.4,455.6 L175.6,456.2 L174.8,456.5 L174,455.6 L173.2,457.1 L172.4,456.6 L171.6,456.2 L170.8,456.8 L170,456.6 L169.2,456.9 L168.4,457.9 L167.6,457.5 L166.8,456.8 L166,458 L165.2,457.4 L164.4,458.3 L163.6,457.7 L162.8,458.2 L162,458.2 L161.2,458.9 L160.4,458.5 L159.6,458.4 L158.8,458.8 L158,459.5 L157.2,459.1 L156.4,458.9 L155.6,459.3 L154.8,460.1 L154,459.9 L153.2,459.6 L152.4,459.1 L151.6,460.5 L150.8,459.6 L150,460.7 L149.2,460 L148.4,459.8 L147.6,460.7 L146.8,460.4 L146,460.8 L145.2,461.5 L144.4,460.9 L143.6,461.4 L142.8,461.1 L142,461.5 L141.2,461.5 L140.4,462.4 L139.6,461.8 L138.8,462.8 L138,462.4 L137.2,461.6 L136.4,461.9 L135.6,463 L134.8,462.8 L134,463.3 L133.2,463.1 L132.4,463.8 L131.6,463.6 L130.8,463.2 L130,464 L129.2,463.3 L128.4,464.3 L127.6,463.9 L126.8,464.1 L126,463.6 L125.2,464.9 L124.4,465.4 L123.6,464.8 L122.8,464.5 L122,464.8 L121.2,465.3 L120.4,465.4 L119.6,465.1 L118.8,465.6 L118,465.9 L117.2,466.3 L116.4,466.3 L115.6,466.4 L114.8,466.4 L114,466.1 L113.2,466.5 L112.4,466.2 L111.6,466.3 L110.8,467 L110,467.2 L109.2,467.5 L108.4,467.8 L107.6,467.3 L106.8,467.7 L106,467.5 L105.2,468.8 L104.4,467.9 L103.6,468 L102.8,467.7 L102,469.4 L101.2,469.1 L100.4,469.5 L99.6,468.5 L98.8,469.3 L98,468.7 L97.2,469.3 L96.4,469.6 L95.6,470.7 L94.8,470.1 L94,470.8 L93.2,471.1 L92.4,471.3 L91.6,470.3 L90.8,470.5 L90,471.7 L89.2,471.1 L88.4,471.1 L87.6,472.2 L86.8,470.9 L86,471.8Z" fill="#2030c0"/>
<path d="M180.9,454.7 L181.8,446.2 L182.1,266.9 L184.1,266.9 L184.4,446.2 L185.3,454.7 Z" fill="#2a2aa6"/>
<path d="M86,470.4 L86.8,470.7 L87.6,471.8 L88.4,472 L89.2,471.9 L90,471.8 L90.8,469.9 L91.6,470.1 L92.4,470.8 L93.2,469.3 L94,470.6 L94.8,470.5 L95.6,470 L96.4,469.8 L97.2,468.6 L98,469.8 L98.8,468.5 L99.6,469.8 L100.4,468 L101.2,467.8 L102,467.9 L102.8,468 L103.6,468 L104.4,469.1 L105.2,468.5 L106,468.9 L106.8,467.4 L107.6,467.6 L108.4,468.2 L109.2,466.6 L110,467.6 L110.8,467 L111.6,467.7 L112.4,467.6 L113.2,465.6 L114,465.8 L114.8,466.5 L115.6,465.4 L116.4,466 L117.2,465.6 L118,464.6 L118.8,465.2 L119.6,465.4 L120.4,464.3 L121.2,465.6 L122,464.5 L122.8,464.4 L123.6,464.8 L124.4,465.7 L125.2,464.6 L126,465.2 L126.8,464.5 L127.6,463.8 L128.4,464.6 L129.2,464.8 L130,463.2 L130.8,464.1 L131.6,463.7 L132.4,463.4 L133.2,462.2 L134,462.6 L134.8,462.8 L135.6,462.2 L136.4,462.3 L137.2,461.4 L138,462.2 L138.8,462.3 L139.6,461.3 L140.4,461.5 L141.2,462.3 L142,462.6 L142.8,462.4 L143.6,460.5 L144.4,461.4 L145.2,460.8 L146,460.8 L146.8,459.9 L147.6,461.6 L148.4,460.1 L149.2,459.7 L150,460.8 L150.8,460 L151.6,460.3 L152.4,460.2 L153.2,460.3 L154,459.9 L154.8,460.2 L155.6,459.1 L156.4,458.6 L157.2,459.9 L158,459.9 L158.8,458.5 L159.6,459.1 L160.4,459 L161.2,457.6 L162,457.4 L162.8,457.9 L163.6,458.3 L164.4,457.9 L165.2,458.7 L166,458.7 L166.8,457.8 L167.6,457.1 L168.4,456.6 L169.2,457.8 L170,457.7 L170.8,457 L171.6,456.9 L172.4,456.9 L173.2,457.1 L174,456.9 L174.8,456.9 L175.6,456.8 L176.4,456 L177.2,456 L178,455.1 L178.8,455.7 L179.6,456.1 L180.4,456.5 L181.2,455.9 L182,454.3 L182.8,454.2 L183.6,455.1 L184.4,455.7 L185.2,454 L186,455.1 L186.8,453.8 L187.6,454.9 L188.4,455.2 L189.2,454.4 L190,454.6 L190.8,453.5 L191.6,453 L192.4,452.8 L193.2,453.3 L194,452.5 L194.8,453.1 L195.6,454 L196.4,452.5 L197.2,452.5 L198,452.3 L198.8,453.2 L199.6,452.2 L200.4,451.9 L201.2,451.7 L202,452.9 L202.8,452.6 L203.6,451.6 L204.4,451.8 L205.2,451.1 L206,451.8 L206.8,451.7 L207.6,450.8 L208.4,451 L209.2,451.9 L210,451.7 L210.8,450.5 L211.6,450.1 L212.4,449.8 L213.2,449.9 L214,449.7 L214.8,450.7 L215.6,449.9 L216.4,450.5 L217.2,450.9 L218,449.4 L218.8,450.1 L219.6,449.7 L220.4,449.4 L221.2,448.6 L222,449 L222.8,448.5 L223.6,448.4 L224.4,448.3 L225.2,448.1 L226,448.6 L226.8,448.2 L227.6,449.1 L228.4,447.6 L229.2,448.7 L230,447.4 L230.8,447.3 L231.6,446.7 L232.4,447.3 L233.2,447 L234,447.5 L234.8,447.1 L235.6,447.2 L236.4,447.4 L237.2,446.4 L238,446.3 L238.8,446.1 L239.6,445.9 L240.4,446.9 L241.2,446 L242,445.2 L242.8,445.3 L243.6,444.9 L244.4,445.9 L245.2,445.8 L246,445.3 L246.8,445.1 L247.6,444.4 L248.4,443.7 L249.2,445 L250,444.4 L250.8,443.6 L251.6,444.4 L252.4,444.2 L253.2,443.7 L254,443.8 L254.8,443.6 L255.6,442.8 L256.4,442.7 L257.2,442.9 L258,442.9 L258.8,442.2 L259.6,443.3 L260.4,442.5 L261.2,442.8 L262,441.6 L262.8,441.9 L263.6,442.4 L264.4,442.4 L265.2,441.4 L266,442 L266.8,440.7 L267.6,440.5 L268.4,441.6 L269.2,440.8 L270,440.6 L270.8,441 L271.6,440.5 L272.4,440.8 L273.2,440.5 L274,440.1 L274.8,439.7 L275.6,439.6 L276.4,439.2 L277.2,438.8 L278,439.8 L278.8,439 L279.6,439.7 L280.4,439.2 L281.2,438.4 L282,439.2 L282.8,438.4 L283.6,438.4 L284.4,438.7 L285.2,438.1 L286,438.6 L286.8,437.8 L287.6,438.5 L288.4,438.5 L289.2,437.4 L290,437.2 L290.8,437.7 L291.6,437.2 L292.4,437.7 L293.2,436.2 L294,436.7 L294.8,437.2 L295.6,436.5 L296.4,436.3 L297.2,436.3 L298,436.4 L298.8,435.9 L299.6,436.2 L300.4,436.2 L301.2,435 L302,434.8 L302.8,434.7 L303.6,435.7 L304.4,434.4 L305.2,435.3 L306,434.2 L306.8,434.6 L307.6,435.4 L308.4,435.1 L309.2,434.1 L310,433.4 L310.8,433.8 L311.6,433.7 L312.4,434.4 L313.2,433.8 L314,432.9 L314.8,434.1 L315.6,433.9 L316.4,432.8 L317.2,433.2 L318,432.9 L318.8,433 L319.6,433.2 L320.4,433.3 L321.2,431.8 L322,432.4 L322.8,432.4 L323.6,431.8 L324.4,431.7 L325.2,432.4 L326,431.7 L326.8,431.6 L327.6,430.8 L328.4,431.6 L329.2,431.9 L330,431.3 L330.8,431.7 L331.6,431.4 L332.4,431.1 L333.2,430.4 L334,431.1 L334.8,431.1 L335.6,429.7 L336.4,430.7 L337.2,430 L338,429.6 L338.8,430.2 L339.6,429 L340.4,428.9 L341.2,429.2 L342,429.5 L342.8,429.4 L343.6,429.8 L344.4,429.6 L345.2,429.4 L346,428.7 L346,433.1 L345.2,434.7 L344.4,433.5 L343.6,433.9 L342.8,433.7 L342,434.1 L341.2,434.1 L340.4,435.2 L339.6,435.1 L338.8,434.3 L338,435.6 L337.2,435.4 L336.4,435.9 L335.6,434.7 L334.8,435 L334,435 L333.2,435.2 L332.4,436.1 L331.6,435.9 L330.8,436.2 L330,435.7 L329.2,435.6 L328.4,435.7 L327.6,436.4 L326.8,437.3 L326,437.5 L325.2,437 L324.4,437.4 L323.6,437.6 L322.8,437 L322,437.2 L321.2,437.2 L320.4,437.7 L319.6,437.3 L318.8,437.7 L318,438 L317.2,437.9 L316.4,437.5 L315.6,438 L314.8,439 L314,438.3 L313.2,438.6 L312.4,439 L311.6,438.6 L310.8,438.7 L310,440 L309.2,439.4 L308.4,438.9 L307.6,440.1 L306.8,439.9 L306,440.2 L305.2,440 L304.4,440.4 L303.6,440.4 L302.8,439.7 L302,441 L301.2,440.2 L300.4,441.2 L299.6,441 L298.8,440.3 L298,441.5 L297.2,441.8 L296.4,441.4 L295.6,442.2 L294.8,441.5 L294,441.7 L293.2,442.1 L292.4,442.5 L291.6,442.2 L290.8,442.1 L290,441.8 L289.2,442.8 L288.4,443 L287.6,442.3 L286.8,443.1 L286,442.9 L285.2,443.5 L284.4,443 L283.6,443.3 L282.8,442.9 L282,443.9 L281.2,443.7 L280.4,444.6 L279.6,443.5 L278.8,443.8 L278,444 L277.2,444 L276.4,444.8 L275.6,444 L274.8,444.7 L274,444.6 L273.2,445 L272.4,444.7 L271.6,445.9 L270.8,445.5 L270,446.5 L269.2,445.2 L268.4,446 L267.6,445.9 L266.8,445.8 L266,445.7 L265.2,447.1 L264.4,445.9 L263.6,447.4 L262.8,447.2 L262,447.6 L261.2,446.7 L260.4,447.4 L259.6,447.5 L258.8,447 L258,447.7 L257.2,448.2 L256.4,448.7 L255.6,448.3 L254.8,448.4 L254,448.1 L253.2,448.7 L252.4,448.5 L251.6,448.6 L250.8,449.2 L250,450 L249.2,449.3 L248.4,449.8 L247.6,450.3 L246.8,449.7 L246,449.5 L245.2,449.1 L244.4,450.6 L243.6,449.5 L242.8,449.9 L242,450.7 L241.2,451.4 L240.4,449.9 L239.6,450.3 L238.8,450.9 L238,452.1 L237.2,451 L236.4,451.9 L235.6,452.5 L234.8,451.9 L234,452.2 L233.2,451.2 L232.4,452.3 L231.6,452.4 L230.8,451.7 L230,452 L229.2,453.2 L228.4,453.8 L227.6,452.8 L226.8,453.2 L226,452.6 L225.2,453.9 L224.4,454 L223.6,453.7 L222.8,453.9 L222,454.8 L221.2,455.1 L220.4,453.6 L219.6,453.9 L218.8,453.7 L218,455.2 L217.2,453.9 L216.4,455.6 L215.6,455.8 L214.8,454.3 L214,454.6 L213.2,455.7 L212.4,456.2 L211.6,456.4 L210.8,454.7 L210,456.7 L209.2,455.3 L208.4,456.5 L207.6,456.8 L206.8,456.9 L206,456.2 L205.2,456.8 L204.4,457.3 L203.6,456.3 L202.8,457.4 L202,456.4 L201.2,457.7 L200.4,457.2 L199.6,458.2 L198.8,457.6 L198,456.9 L197.2,457.4 L196.4,457.2 L195.6,458 L194.8,458.7 L194,458.2 L193.2,458.9 L192.4,458.6 L191.6,458.8 L190.8,459.3 L190,458.5 L189.2,458.4 L188.4,458.8 L187.6,458.5 L186.8,458.1 L186,460 L185.2,458.7 L184.4,459.2 L183.6,458.9 L182.8,459.7 L182,459.1 L181.2,459.1 L180.4,459.5 L179.6,459.9 L178.8,460.6 L178,459.4 L177.2,461.4 L176.4,460.2 L175.6,461.7 L174.8,460.5 L174,461.6 L173.2,460.6 L172.4,460.9 L171.6,461.7 L170.8,461.7 L170,461.5 L169.2,460.9 L168.4,461.1 L167.6,461.2 L166.8,462.6 L166,461.3 L165.2,462.5 L164.4,461.5 L163.6,462.1 L162.8,462.7 L162,463.1 L161.2,462.8 L160.4,462.8 L159.6,463 L158.8,463.9 L158,462.9 L157.2,463.9 L156.4,463.8 L155.6,463.1 L154.8,464.8 L154,463.2 L153.2,465.2 L152.4,463.7 L151.6,465.3 L150.8,464 L150,464.2 L149.2,464.4 L148.4,464 L147.6,464.7 L146.8,465.3 L146,466.2 L145.2,466.1 L144.4,466.7 L143.6,465.1 L142.8,466.1 L142,465.7 L141.2,466.3 L140.4,465.9 L139.6,465.5 L138.8,466.2 L138,466.6 L137.2,467.7 L136.4,466.2 L135.6,466.5 L134.8,467 L134,468.5 L133.2,467.2 L132.4,467.4 L131.6,467.5 L130.8,467.9 L130,468.6 L129.2,468.6 L128.4,469.2 L127.6,468 L126.8,468.9 L126,469.3 L125.2,469.5 L124.4,468 L123.6,470.2 L122.8,469.4 L122,469.4 L121.2,469 L120.4,468.9 L119.6,470.9 L118.8,468.9 L118,470.3 L117.2,469.9 L116.4,470.5 L115.6,470.2 L114.8,469.6 L114,471.7 L113.2,470.5 L112.4,471.3 L111.6,470.9 L110.8,470.5 L110,471.2 L109.2,472.3 L108.4,470.7 L107.6,472.8 L106.8,471.2 L106,471 L105.2,473 L104.4,472.5 L103.6,471.8 L102.8,473.2 L102,473 L101.2,473.7 L100.4,472 L99.6,473.5 L98.8,473.3 L98,473 L97.2,474.7 L96.4,474.6 L95.6,473.1 L94.8,473.1 L94,475.4 L93.2,474.2 L92.4,475.4 L91.6,475.4 L90.8,475.5 L90,475.9 L89.2,475.3 L88.4,475.6 L87.6,475.3 L86.8,475.1 L86,476Z" fill="#66d8f0"/>
<path d="M202.4,455.7 L203.2,447.2 L203.6,265.5 L205.6,265.5 L205.9,447.2 L206.8,455.7 Z" fill="#66dce6"/>
<path d="M86,474.8 L86.8,474.4 L87.6,474 L88.4,475 L89.2,474.8 L90,474.9 L90.8,474.9 L91.6,474.8 L92.4,473.5 L93.2,474.2 L94,474.3 L94.8,473.4 L95.6,473.5 L96.4,472.4 L97.2,472.6 L98,473.4 L98.8,473.4 L99.6,472.7 L100.4,472.1 L101.2,472.5 L102,471.8 L102.8,471.5 L103.6,471.3 L104.4,471.3 L105.2,471.6 L106,471.5 L106.8,471.4 L107.6,470.3 L108.4,470.3 L109.2,470.2 L110,470.4 L110.8,470.8 L111.6,469.8 L112.4,470 L113.2,470.7 L114,469.4 L114.8,470.5 L115.6,469.7 L116.4,468.9 L117.2,468.8 L118,469.3 L118.8,468.6 L119.6,468.5 L120.4,468.4 L121.2,468.7 L122,467.8 L122.8,468.4 L123.6,468.4 L124.4,467.7 L125.2,467.4 L126,467.1 L126.8,467.8 L127.6,468.2 L128.4,467.6 L129.2,467.5 L130,467.5 L130.8,466.6 L131.6,467.7 L132.4,467 L133.2,467.1 L134,467 L134.8,467 L135.6,466.9 L136.4,465.9 L137.2,465.5 L138,466.1 L138.8,465.4 L139.6,465.1 L140.4,465.1 L141.2,466.1 L142,465.1 L142.8,465.4 L143.6,465.3 L144.4,464.3 L145.2,465.1 L146,463.8 L146.8,464.1 L147.6,464.9 L148.4,464.5 L149.2,464.5 L150,464.4 L150.8,464.2 L151.6,463.7 L152.4,463.9 L153.2,463.9 L154,463.9 L154.8,463.7 L155.6,463.6 L156.4,462.4 L157.2,462.2 L158,462.4 L158.8,462.4 L159.6,462.5 L160.4,462 L161.2,462.4 L162,462.5 L162.8,461.6 L163.6,461.8 L164.4,461.2 L165.2,461.8 L166,460.5 L166.8,460.4 L167.6,461.4 L168.4,461 L169.2,460.5 L170,460.4 L170.8,460.6 L171.6,459.7 L172.4,460.5 L173.2,460.3 L174,459.4 L174.8,459.2 L175.6,459.3 L176.4,460.2 L177.2,459.1 L178,459.5 L178.8,459.1 L179.6,459.7 L180.4,459.7 L181.2,459.3 L182,458.8 L182.8,458.1 L183.6,458.4 L184.4,458 L185.2,457.7 L186,458.6 L186.8,457.8 L187.6,458.4 L188.4,457.2 L189.2,457.5 L190,457.3 L190.8,457.6 L191.6,457.3 L192.4,457.7 L193.2,456.8 L194,456.3 L194.8,457 L195.6,456.6 L196.4,457.1 L197.2,456.8 L198,456.1 L198.8,456.8 L199.6,455.6 L200.4,456.1 L201.2,455.7 L202,455.9 L202.8,455.9 L203.6,455.5 L204.4,456 L205.2,455.6 L206,455 L206.8,455.3 L207.6,454.6 L208.4,454.9 L209.2,455 L210,454.1 L210.8,454.9 L211.6,454.6 L212.4,454 L213.2,453.8 L214,454.6 L214.8,453.5 L215.6,454.3 L216.4,453.4 L217.2,453 L218,453.3 L218.8,453.9 L219.6,452.8 L220.4,453 L221.2,453.1 L222,452.6 L222.8,453 L223.6,452.7 L224.4,452.8 L225.2,452.2 L226,452.2 L226.8,452.2 L227.6,452.3 L228.4,452.2 L229.2,451.5 L230,451.3 L230.8,450.9 L231.6,451.6 L232.4,451.1 L233.2,450.6 L234,451.1 L234.8,450.9 L235.6,451 L236.4,451 L237.2,450.2 L238,450.6 L238.8,449.8 L239.6,450 L240.4,450.1 L241.2,449.3 L242,449.1 L242.8,449.5 L243.6,449.6 L244.4,449.1 L245.2,448.9 L246,449.3 L246.8,448.5 L247.6,449 L248.4,449.1 L249.2,448.8 L250,448.6 L250.8,447.8 L251.6,448.4 L252.4,447.8 L253.2,448 L254,447.5 L254.8,447.3 L255.6,447.7 L256.4,447.7 L257.2,447.5 L258,447.5 L258.8,446.5 L259.6,446.5 L260.4,446.3 L261.2,446.7 L262,446.1 L262.8,446 L263.6,446.5 L264.4,446 L265.2,445.8 L266,445.6 L266.8,446.2 L267.6,445.2 L268.4,445.1 L269.2,445.4 L270,445.5 L270.8,445.3 L271.6,445.1 L272.4,444.7 L273.2,445.4 L274,445.3 L274.8,445.2 L275.6,444.5 L276.4,444.4 L277.2,444.5 L278,444 L278.8,444 L279.6,443.6 L280.4,443.9 L281.2,443.4 L282,443.3 L282.8,443.6 L283.6,443.9 L284.4,443.7 L285.2,443.4 L286,442.6 L286.8,442.4 L287.6,443 L288.4,442.5 L289.2,442.3 L290,443 L290.8,441.9 L291.6,442.1 L292.4,442.4 L293.2,441.6 L294,441.6 L294.8,441.8 L295.6,442.1 L296.4,441.6 L297.2,441.1 L298,441.4 L298.8,441 L299.6,440.7 L300.4,441.2 L301.2,441.4 L302,441 L302.8,441 L303.6,440.2 L304.4,440.2 L305.2,440.3 L306,440.6 L306.8,440.1 L307.6,440.4 L308.4,439.5 L309.2,440 L310,439.7 L310.8,439.3 L311.6,439.9 L312.4,439 L313.2,438.9 L314,439.2 L314.8,439.2 L315.6,438.9 L316.4,439.1 L317.2,438.8 L318,438.8 L318.8,438.3 L319.6,438.7 L320.4,438 L321.2,438.4 L322,437.9 L322.8,437.8 L323.6,438.2 L324.4,438 L325.2,437.3 L326,438.1 L326.8,437.1 L327.6,437.2 L328.4,437 L329.2,437.7 L330,437.5 L330.8,436.7 L331.6,437.2 L332.4,437.3 L333.2,436.4 L334,436.3 L334.8,436.1 L335.6,436.8 L336.4,435.8 L337.2,436.3 L338,436.1 L338.8,436.1 L339.6,435.5 L340.4,435.9 L341.2,435.6 L342,435.9 L342.8,435.8 L343.6,435.3 L344.4,435.4 L345.2,435.1 L346,435.5 L346,437.1 L345.2,436.8 L344.4,437 L343.6,437 L342.8,437.8 L342,437.1 L341.2,437.2 L340.4,437.6 L339.6,437.5 L338.8,438.3 L338,438.2 L337.2,438.5 L336.4,438.7 L335.6,438.8 L334.8,438.8 L334,438.6 L333.2,439 L332.4,439 L331.6,438.5 L330.8,438.5 L330,438.9 L329.2,439.4 L328.4,439.5 L327.6,439.9 L326.8,439.1 L326,439.9 L325.2,439.3 L324.4,440.1 L323.6,440.3 L322.8,439.9 L322,440.6 L321.2,439.8 L320.4,440.8 L319.6,440.4 L318.8,440.7 L318,440.9 L317.2,440.7 L316.4,440.4 L315.6,440.6 L314.8,441.3 L314,441.3 L313.2,441 L312.4,441.5 L311.6,441.4 L310.8,441.4 L310,441.9 L309.2,442.2 L308.4,441.8 L307.6,442.1 L306.8,441.7 L306,442.6 L305.2,441.9 L304.4,442.6 L303.6,442.1 L302.8,443 L302,442.7 L301.2,442.9 L300.4,443.5 L299.6,443.6 L298.8,443 L298,443.4 L297.2,443.1 L296.4,443.9 L295.6,444 L294.8,444.3 L294,444.2 L293.2,443.6 L292.4,444.1 L291.6,444.7 L290.8,444 L290,444.3 L289.2,444.7 L288.4,444.6 L287.6,444.9 L286.8,445.3 L286,444.8 L285.2,445.4 L284.4,445.7 L283.6,445.6 L282.8,445.7 L282,445.4 L281.2,445.9 L280.4,445.8 L279.6,446.2 L278.8,445.9 L278,445.9 L277.2,446.3 L276.4,446.6 L275.6,446.2 L274.8,446.2 L274,446.6 L273.2,447.2 L272.4,447.4 L271.6,447.2 L270.8,447.1 L270,447.6 L269.2,447 L268.4,447.6 L267.6,448 L266.8,447.9 L266,448.3 L265.2,448.4 L264.4,448.3 L263.6,448.1 L262.8,448.1 L262,448.9 L261.2,449 L260.4,448.7 L259.6,448.7 L258.8,449.2 L258,449 L257.2,448.8 L256.4,449.2 L255.6,450.1 L254.8,449.2 L254,449.4 L253.2,450.3 L252.4,449.5 L251.6,450.3 L250.8,450.5 L250,450.8 L249.2,450.9 L248.4,451.1 L247.6,450.8 L246.8,451.1 L246,451.4 L245.2,451.5 L244.4,451.3 L243.6,451.5 L242.8,451.9 L242,451.5 L241.2,451.6 L240.4,452.4 L239.6,452 L238.8,452.6 L238,452.1 L237.2,452.3 L236.4,452.8 L235.6,452.5 L234.8,453 L234,453.5 L233.2,452.8 L232.4,453.5 L231.6,453.5 L230.8,453.5 L230,453.2 L229.2,454.2 L228.4,453.9 L227.6,453.4 L226.8,453.8 L226,453.9 L225.2,454.8 L224.4,454.2 L223.6,454.8 L222.8,454.7 L222,454.4 L221.2,455.3 L220.4,455.5 L219.6,455.7 L218.8,455 L218,455.3 L217.2,455.2 L216.4,455.6 L215.6,455.4 L214.8,455.6 L214,456.6 L213.2,455.9 L212.4,455.6 L211.6,455.9 L210.8,456 L210,456.6 L209.2,456.5 L208.4,457.2 L207.6,456.5 L206.8,457.3 L206,457.7 L205.2,457.5 L204.4,457.6 L203.6,457.4 L202.8,457.3 L202,457.4 L201.2,458.2 L200.4,457.3 L199.6,458.2 L198.8,458.7 L198,457.8 L197.2,457.8 L196.4,458.9 L195.6,459 L194.8,458.9 L194,459.4 L193.2,459.7 L192.4,459.1 L191.6,459.5 L190.8,459.2 L190,459.7 L189.2,460.3 L188.4,459.9 L187.6,460.1 L186.8,460.6 L186,460.1 L185.2,460.3 L184.4,460.1 L183.6,460.9 L182.8,461.2 L182,460 L181.2,460.4 L180.4,460.5 L179.6,461.1 L178.8,461.2 L178,461.9 L177.2,462 L176.4,461.4 L175.6,461.4 L174.8,462.3 L174,462.2 L173.2,462.5 L172.4,462.1 L171.6,462 L170.8,462.2 L170,463.1 L169.2,462.3 L168.4,462.8 L167.6,462.8 L166.8,462.5 L166,463.2 L165.2,463.8 L164.4,463.6 L163.6,464.1 L162.8,463.1 L162,464.3 L161.2,464.3 L160.4,464.5 L159.6,464.6 L158.8,465 L158,464.1 L157.2,464.2 L156.4,465.3 L155.6,465.3 L154.8,464.4 L154,465.2 L153.2,465 L152.4,465.9 L151.6,465.5 L150.8,466.1 L150,466.2 L149.2,466.6 L148.4,465.5 L147.6,466.5 L146.8,465.8 L146,466.8 L145.2,467.1 L144.4,466.9 L143.6,467.1 L142.8,467.7 L142,467.1 L141.2,467.7 L140.4,468.2 L139.6,467.1 L138.8,467.1 L138,467.3 L137.2,468.3 L136.4,467.4 L135.6,468.1 L134.8,467.6 L134,468.4 L133.2,468.4 L132.4,469.1 L131.6,468.2 L130.8,469.2 L130,468.5 L129.2,469.8 L128.4,469 L127.6,468.9 L126.8,469.4 L126,469.7 L125.2,469.6 L124.4,470.6 L123.6,470.6 L122.8,470.9 L122,471.3 L121.2,471.3 L120.4,471.5 L119.6,470.4 L118.8,471 L118,471 L117.2,471.5 L116.4,471.5 L115.6,471.7 L114.8,471.2 L114,471.3 L113.2,472.1 L112.4,472.8 L111.6,473.1 L110.8,472 L110,472.5 L109.2,473 L108.4,473.2 L107.6,473.1 L106.8,473.2 L106,473.9 L105.2,472.8 L104.4,472.9 L103.6,474.3 L102.8,474.4 L102,474 L101.2,473.5 L100.4,475.2 L99.6,475.4 L98.8,473.9 L98,474.4 L97.2,475.7 L96.4,474.5 L95.6,475.4 L94.8,476.1 L94,474.9 L93.2,475.7 L92.4,475.6 L91.6,476.1 L90.8,477.1 L90,475.6 L89.2,475.8 L88.4,476.5 L87.6,476.7 L86.8,477 L86,477.3Z" fill="#e07878"/>
<path d="M222.9,454.8 L223.8,446.3 L224.1,266.9 L226.1,266.9 L226.4,446.3 L227.3,454.8 Z" fill="#bb48c8"/>
<path d="M86,476.6 L86.8,477.5 L87.6,477.7 L88.4,476.2 L89.2,477.2 L90,476.6 L90.8,476.9 L91.6,474.8 L92.4,476.4 L93.2,475.8 L94,475.3 L94.8,475.8 L95.6,475.9 L96.4,476.3 L97.2,475.6 L98,475.3 L98.8,474.5 L99.6,473.7 L100.4,474.2 L101.2,473.6 L102,473.7 L102.8,472.9 L103.6,475.2 L104.4,474.9 L105.2,474.5 L106,474.1 L106.8,472.6 L107.6,471.8 L108.4,474.1 L109.2,472.4 L110,473.5 L110.8,473.4 L111.6,471.4 L112.4,471.8 L113.2,471.8 L114,473.3 L114.8,472 L115.6,471.9 L116.4,471.4 L117.2,472 L118,470.2 L118.8,470.6 L119.6,469.7 L120.4,471.5 L121.2,469.9 L122,471.2 L122.8,471.2 L123.6,469.7 L124.4,469 L125.2,469.3 L126,471.2 L126.8,470.1 L127.6,470 L128.4,469 L129.2,468.3 L130,468.9 L130.8,468.1 L131.6,470.3 L132.4,468.3 L133.2,467.9 L134,468.1 L134.8,469 L135.6,469 L136.4,469.4 L137.2,469 L138,468.9 L138.8,468.8 L139.6,468.2 L140.4,466.3 L141.2,468.5 L142,467.7 L142.8,467.6 L143.6,466.1 L144.4,468.2 L145.2,467.2 L146,465.9 L146.8,465.2 L147.6,465.4 L148.4,465.9 L149.2,465.2 L150,465.4 L150.8,466 L151.6,465.1 L152.4,465.1 L153.2,466.2 L154,464.6 L154.8,464.9 L155.6,465.5 L156.4,466 L157.2,465.3 L158,464 L158.8,464.5 L159.6,464.4 L160.4,463.3 L161.2,464.2 L162,463.4 L162.8,463 L163.6,463.5 L164.4,464.9 L165.2,462.5 L166,464.1 L166.8,464.3 L167.6,464.2 L168.4,464.3 L169.2,462.3 L170,463.8 L170.8,461.7 L171.6,463.7 L172.4,463.1 L173.2,462.3 L174,461.5 L174.8,461.8 L175.6,463.3 L176.4,461.1 L177.2,462.2 L178,460.4 L178.8,462.2 L179.6,460.7 L180.4,461.6 L181.2,460.2 L182,462.2 L182.8,461.9 L183.6,461.9 L184.4,460 L185.2,461.6 L186,459.7 L186.8,460.2 L187.6,459.4 L188.4,460.3 L189.2,459.7 L190,458.6 L190.8,459.1 L191.6,459.7 L192.4,459.5 L193.2,459.7 L194,460.1 L194.8,460.5 L195.6,458.3 L196.4,458.5 L197.2,458.4 L198,457.5 L198.8,457.7 L199.6,457.2 L200.4,457.7 L201.2,458.4 L202,457.2 L202.8,457 L203.6,457 L204.4,457.8 L205.2,458.7 L206,456.9 L206.8,457.7 L207.6,457.1 L208.4,457.6 L209.2,458.3 L210,458.1 L210.8,455.7 L211.6,455.8 L212.4,456.1 L213.2,457.7 L214,456.2 L214.8,457.2 L215.6,456.6 L216.4,455.1 L217.2,456.4 L218,456.7 L218.8,457 L219.6,454.6 L220.4,455.7 L221.2,455.9 L222,454.7 L222.8,455.3 L223.6,454 L224.4,455.3 L225.2,455.3 L226,453.5 L226.8,455.1 L227.6,454.9 L228.4,455.5 L229.2,453.6 L230,455.3 L230.8,453.8 L231.6,454.9 L232.4,454.4 L233.2,454.1 L234,452.6 L234.8,452.7 L235.6,452.2 L236.4,453 L237.2,452 L238,454.1 L238.8,452.5 L239.6,452.6 L240.4,452.6 L241.2,452.9 L242,452.1 L242.8,452.9 L243.6,452.5 L244.4,452.5 L245.2,451.2 L246,451.3 L246.8,452.5 L247.6,452.4 L248.4,451.7 L249.2,450.2 L250,451.8 L250.8,450.1 L251.6,450.2 L252.4,449.7 L253.2,450.2 L254,451.9 L254.8,449.6 L255.6,451.6 L256.4,449.9 L257.2,449.8 L258,450.1 L258.8,448.9 L259.6,449.1 L260.4,450.1 L261.2,449.1 L262,450.1 L262.8,449.4 L263.6,450.4 L264.4,448.1 L265.2,449.6 L266,449.5 L266.8,449.6 L267.6,447.8 L268.4,447.9 L269.2,449.3 L270,447.8 L270.8,448.8 L271.6,447.4 L272.4,448.3 L273.2,448.4 L274,447.3 L274.8,447.9 L275.6,446.6 L276.4,446.9 L277.2,447.8 L278,447.7 L278.8,446.6 L279.6,447.6 L280.4,446.3 L281.2,447.6 L282,447.4 L282.8,447.5 L283.6,446.2 L284.4,445.5 L285.2,445.5 L286,446.4 L286.8,447.3 L287.6,446.1 L288.4,445.1 L289.2,446 L290,446.4 L290.8,446.4 L291.6,444.6 L292.4,445.5 L293.2,445.8 L294,444.9 L294.8,445.7 L295.6,444.8 L296.4,446.1 L297.2,445.2 L298,444.7 L298.8,444.2 L299.6,445.8 L300.4,443.6 L301.2,444.7 L302,443.3 L302.8,444.9 L303.6,443.1 L304.4,443.1 L305.2,442.9 L306,444.5 L306.8,442.8 L307.6,442.8 L308.4,444.3 L309.2,442.7 L310,443.2 L310.8,442.3 L311.6,444.3 L312.4,442.5 L313.2,443.9 L314,442.8 L314.8,443 L315.6,442.6 L316.4,443.1 L317.2,441.7 L318,441.4 L318.8,441.9 L319.6,441.6 L320.4,443.3 L321.2,442.9 L322,441.1 L322.8,441.4 L323.6,441.5 L324.4,442.5 L325.2,440.4 L326,441.7 L326.8,442.4 L327.6,442.1 L328.4,440.6 L329.2,440.8 L330,440.7 L330.8,440.2 L331.6,440.6 L332.4,441.6 L333.2,440 L334,441.3 L334.8,441 L335.6,441.1 L336.4,440.6 L337.2,441 L338,440.2 L338.8,440.8 L339.6,440.7 L340.4,440.7 L341.2,440.8 L342,440 L342.8,438.4 L343.6,439.5 L344.4,438.9 L345.2,439.8 L346,438.3 L346,445.6 L345.2,447 L344.4,446.9 L343.6,446.3 L342.8,447.4 L342,447 L341.2,447.3 L340.4,445.9 L339.6,447.7 L338.8,446.6 L338,446.7 L337.2,446.3 L336.4,447 L335.6,446.8 L334.8,448.1 L334,448.7 L333.2,448.6 L332.4,448.3 L331.6,448.1 L330.8,448.9 L330,447.1 L329.2,447.7 L328.4,447.8 L327.6,449 L326.8,447.9 L326,449.4 L325.2,449.2 L324.4,448.8 L323.6,449.5 L322.8,448.1 L322,449.5 L321.2,448.6 L320.4,448.3 L319.6,449.1 L318.8,448.7 L318,450.1 L317.2,450.6 L316.4,448.7 L315.6,450.2 L314.8,449.3 L314,451 L313.2,450.9 L312.4,450.6 L311.6,449.2 L310.8,449.6 L310,450 L309.2,451.1 L308.4,449.7 L307.6,450.7 L306.8,449.7 L306,450 L305.2,450.4 L304.4,452.1 L303.6,450.9 L302.8,451.1 L302,451.9 L301.2,450.9 L300.4,451.4 L299.6,452.6 L298.8,450.6 L298,452.2 L297.2,451 L296.4,453.1 L295.6,452 L294.8,452.9 L294,452.3 L293.2,451.8 L292.4,451.9 L291.6,452.4 L290.8,451.8 L290,452.9 L289.2,452.6 L288.4,453.1 L287.6,452.4 L286.8,454.2 L286,452.5 L285.2,452.4 L284.4,453.8 L283.6,454.2 L282.8,453.3 L282,454.9 L281.2,454.7 L280.4,453.4 L279.6,453.5 L278.8,453.8 L278,455.3 L277.2,454.9 L276.4,454 L275.6,455.2 L274.8,455.3 L274,454.6 L273.2,454.3 L272.4,454.1 L271.6,454.4 L270.8,455.4 L270,454.3 L269.2,456.1 L268.4,456 L267.6,455.8 L266.8,456.4 L266,455.2 L265.2,455.6 L264.4,455.2 L263.6,456.3 L262.8,455.5 L262,455.9 L261.2,457.1 L260.4,457 L259.6,455.6 L258.8,455.7 L258,456.2 L257.2,456.7 L256.4,457.1 L255.6,456.3 L254.8,458.3 L254,456.2 L253.2,458 L252.4,456.9 L251.6,458.2 L250.8,456.5 L250,457.3 L249.2,458.1 L248.4,457.3 L247.6,459.1 L246.8,458.6 L246,457.8 L245.2,459.2 L244.4,459.8 L243.6,459.1 L242.8,459.7 L242,460.1 L241.2,458.2 L240.4,458 L239.6,458.5 L238.8,459.9 L238,459.7 L237.2,459.8 L236.4,459.5 L235.6,458.9 L234.8,459.3 L234,459.3 L233.2,460.8 L232.4,459.9 L231.6,459.7 L230.8,461.6 L230,459.8 L229.2,460.5 L228.4,461.5 L227.6,460.1 L226.8,461.6 L226,461.1 L225.2,462 L224.4,461.3 L223.6,462.1 L222.8,462 L222,461.4 L221.2,461.2 L220.4,461.1 L219.6,463 L218.8,461.3 L218,463.2 L217.2,462.5 L216.4,461.8 L215.6,462.5 L214.8,463.4 L214,462.8 L213.2,463.8 L212.4,462.4 L211.6,461.8 L210.8,464.2 L210,463 L209.2,462.8 L208.4,464.4 L207.6,464.5 L206.8,463.5 L206,462.9 L205.2,462.7 L204.4,464.2 L203.6,463.1 L202.8,465.4 L202,463.6 L201.2,464.9 L200.4,464.4 L199.6,464.9 L198.8,465.6 L198,464.5 L197.2,465.4 L196.4,464.8 L195.6,466.3 L194.8,465.1 L194,464.6 L193.2,464.7 L192.4,466.9 L191.6,466.9 L190.8,465.7 L190,467.1 L189.2,466.5 L188.4,467.3 L187.6,466.9 L186.8,465.4 L186,465.3 L185.2,465.5 L184.4,466.9 L183.6,466 L182.8,466.6 L182,467.6 L181.2,467.9 L180.4,467.6 L179.6,467.3 L178.8,467.6 L178,467.5 L177.2,467.7 L176.4,466.5 L175.6,467.9 L174.8,467 L174,468.6 L173.2,467.8 L172.4,467.3 L171.6,468.4 L170.8,468 L170,468 L169.2,468 L168.4,469 L167.6,468 L166.8,470.4 L166,469.5 L165.2,468.7 L164.4,469.7 L163.6,469.6 L162.8,468.6 L162,469.7 L161.2,469.1 L160.4,469.1 L159.6,470.8 L158.8,469.3 L158,469.2 L157.2,471.5 L156.4,469.5 L155.6,470.7 L154.8,470.6 L154,470.3 L153.2,470.4 L152.4,471 L151.6,472.2 L150.8,470.5 L150,471.3 L149.2,472.5 L148.4,472.5 L147.6,473.3 L146.8,473.1 L146,471.1 L145.2,472.6 L144.4,472.2 L143.6,471.5 L142.8,471.9 L142,473.1 L141.2,472.1 L140.4,472.3 L139.6,472.6 L138.8,474.2 L138,472.8 L137.2,472.3 L136.4,473.3 L135.6,472.8 L134.8,473.8 L134,473.9 L133.2,473.2 L132.4,475.1 L131.6,475 L130.8,474.6 L130,473.8 L129.2,473.5 L128.4,473.8 L127.6,475.6 L126.8,475.7 L126,475.8 L125.2,474.8 L124.4,476.1 L123.6,475.1 L122.8,476.6 L122,476.5 L121.2,476 L120.4,477.6 L119.6,475.7 L118.8,477.6 L118,475.9 L117.2,478.1 L116.4,478 L115.6,478.2 L114.8,477.6 L114,476.4 L113.2,477.5 L112.4,477.9 L111.6,478.6 L110.8,477.9 L110,479 L109.2,478.8 L108.4,479.4 L107.6,477.6 L106.8,478.2 L106,478 L105.2,480.1 L104.4,479.6 L103.6,479.4 L102.8,479 L102,478.8 L101.2,478.9 L100.4,480.1 L99.6,480.9 L98.8,480.9 L98,480.9 L97.2,478.8 L96.4,481.2 L95.6,481.2 L94.8,481.7 L94,480.9 L93.2,480.6 L92.4,481.2 L91.6,480 L90.8,479.8 L90,482.7 L89.2,480.5 L88.4,481 L87.6,480.6 L86.8,482.8 L86,480.9Z" fill="#f2d848"/>
<path d="M240.6,457.1 L241.5,448.6 L241.8,265.3 L243.8,265.3 L244.2,448.6 L245,457.1 Z" fill="#eeea48"/>
<path d="M86,479.4 L86.8,479.5 L87.6,480.3 L88.4,478.7 L89.2,479.9 L90,479.2 L90.8,479.7 L91.6,478.6 L92.4,479.6 L93.2,479.5 L94,478.2 L94.8,478.5 L95.6,478.4 L96.4,478.1 L97.2,477.8 L98,478.2 L98.8,477.4 L99.6,478.5 L100.4,476.7 L101.2,476.3 L102,477 L102.8,476.9 L103.6,476.9 L104.4,477.3 L105.2,476 L106,477 L106.8,477.1 L107.6,476 L108.4,476.5 L109.2,475.3 L110,475.4 L110.8,475 L111.6,475.5 L112.4,474.6 L113.2,476.2 L114,475.7 L114.8,475.8 L115.6,475.3 L116.4,474.4 L117.2,474 L118,474.4 L118.8,475.1 L119.6,474.2 L120.4,474.1 L121.2,474.1 L122,473.6 L122.8,473.1 L123.6,473.3 L124.4,473.3 L125.2,472.2 L126,473.5 L126.8,472.4 L127.6,472.8 L128.4,472.9 L129.2,472 L130,472.9 L130.8,472.7 L131.6,471.7 L132.4,472.9 L133.2,472.8 L134,470.9 L134.8,472.2 L135.6,470.8 L136.4,471.7 L137.2,470.9 L138,470.6 L138.8,470.3 L139.6,471.1 L140.4,470.1 L141.2,469.8 L142,470.1 L142.8,469.7 L143.6,470.1 L144.4,470.1 L145.2,469.9 L146,470 L146.8,469.1 L147.6,470 L148.4,469.3 L149.2,469.2 L150,469.6 L150.8,468.4 L151.6,469.1 L152.4,469.5 L153.2,468.4 L154,469.4 L154.8,468.3 L155.6,468.5 L156.4,468.7 L157.2,467.4 L158,468.7 L158.8,468 L159.6,467.4 L160.4,467.7 L161.2,466.9 L162,468.2 L162.8,466.3 L163.6,467.1 L164.4,466.7 L165.2,466.6 L166,467.6 L166.8,466.6 L167.6,466.3 L168.4,467 L169.2,466 L170,465.9 L170.8,466.1 L171.6,465.6 L172.4,465.1 L173.2,464.7 L174,464.7 L174.8,464.7 L175.6,464.4 L176.4,465.7 L177.2,465.9 L178,465.1 L178.8,464 L179.6,464.6 L180.4,465.1 L181.2,464.3 L182,465.1 L182.8,464.5 L183.6,463.2 L184.4,463.3 L185.2,464.3 L186,463 L186.8,463.1 L187.6,463.9 L188.4,463.2 L189.2,463.2 L190,462.7 L190.8,464.1 L191.6,463.4 L192.4,462.3 L193.2,462.5 L194,461.8 L194.8,462.9 L195.6,462.3 L196.4,462.5 L197.2,463 L198,461.8 L198.8,462.9 L199.6,462.7 L200.4,461.1 L201.2,461.4 L202,460.6 L202.8,462 L203.6,460.3 L204.4,461 L205.2,461.2 L206,460.8 L206.8,461.8 L207.6,461 L208.4,460.4 L209.2,461.4 L210,461 L210.8,461.3 L211.6,459.9 L212.4,459.7 L213.2,459.3 L214,459.9 L214.8,460.6 L215.6,460.6 L216.4,458.9 L217.2,459.6 L218,459.5 L218.8,460.1 L219.6,459.7 L220.4,458.6 L221.2,459.7 L222,459.3 L222.8,459.2 L223.6,457.8 L224.4,458.9 L225.2,458.7 L226,458 L226.8,459 L227.6,457.9 L228.4,458.5 L229.2,457.7 L230,457.5 L230.8,457.5 L231.6,457.9 L232.4,457.7 L233.2,458.2 L234,457.6 L234.8,457.3 L235.6,456.4 L236.4,455.8 L237.2,455.8 L238,457.3 L238.8,456.3 L239.6,456.7 L240.4,455.9 L241.2,455.5 L242,456.6 L242.8,455.2 L243.6,455.4 L244.4,456.5 L245.2,456.1 L246,456.2 L246.8,456.1 L247.6,456.1 L248.4,455.3 L249.2,455.7 L250,454.1 L250.8,455.4 L251.6,455.1 L252.4,454.5 L253.2,455.3 L254,453.6 L254.8,454.3 L255.6,453.4 L256.4,453.9 L257.2,453.4 L258,453.9 L258.8,453.8 L259.6,454.3 L260.4,454.4 L261.2,452.6 L262,454.2 L262.8,453.2 L263.6,452.1 L264.4,452.2 L265.2,453.1 L266,453.6 L266.8,452.3 L267.6,452.8 L268.4,453.1 L269.2,452 L270,451.8 L270.8,451.6 L271.6,451.1 L272.4,452 L273.2,451.8 L274,452.3 L274.8,451.9 L275.6,452.4 L276.4,451.8 L277.2,450.3 L278,452.1 L278.8,451.2 L279.6,450.8 L280.4,451 L281.2,449.8 L282,450 L282.8,449.7 L283.6,450 L284.4,450.4 L285.2,451.2 L286,450.5 L286.8,450.7 L287.6,449.1 L288.4,449.4 L289.2,449.5 L290,450.5 L290.8,450.5 L291.6,449.7 L292.4,449.8 L293.2,448.9 L294,448.6 L294.8,448.3 L295.6,449.1 L296.4,448.2 L297.2,448.9 L298,448.5 L298.8,447.6 L299.6,448.3 L300.4,448.9 L301.2,448.9 L302,447.3 L302.8,447.8 L303.6,448.5 L304.4,448.2 L305.2,447.7 L306,448.5 L306.8,447 L307.6,446.7 L308.4,446.6 L309.2,447.2 L310,447.2 L310.8,446.6 L311.6,446.6 L312.4,447.8 L313.2,446.7 L314,445.8 L314.8,447.4 L315.6,445.9 L316.4,445.6 L317.2,446.1 L318,446.8 L318.8,446.2 L319.6,446.4 L320.4,446.3 L321.2,446.7 L322,445.3 L322.8,445.1 L323.6,446 L324.4,445.2 L325.2,445.8 L326,445.2 L326.8,445.2 L327.6,444.3 L328.4,446.1 L329.2,444.2 L330,444.9 L330.8,445.2 L331.6,445.4 L332.4,445.5 L333.2,444.5 L334,444.5 L334.8,444.8 L335.6,444.5 L336.4,443.3 L337.2,444.8 L338,443.7 L338.8,444.2 L339.6,443.6 L340.4,443.5 L341.2,443.3 L342,443.5 L342.8,442.7 L343.6,444.1 L344.4,442.6 L345.2,443.6 L346,442.8 L346,446.4 L345.2,445.4 L344.4,447 L343.6,446.6 L342.8,446.9 L342,445.6 L341.2,447.7 L340.4,447.2 L339.6,447.3 L338.8,447.4 L338,446.2 L337.2,446.4 L336.4,447.7 L335.6,448.3 L334.8,447.8 L334,446.8 L333.2,446.9 L332.4,448.3 L331.6,447.3 L330.8,447.8 L330,447.3 L329.2,448 L328.4,449 L327.6,448.3 L326.8,447.6 L326,448.8 L325.2,447.9 L324.4,448.1 L323.6,449.6 L322.8,447.9 L322,448.6 L321.2,447.9 L320.4,448.2 L319.6,449 L318.8,448.5 L318,449.7 L317.2,448.6 L316.4,449.5 L315.6,449.8 L314.8,450 L314,449 L313.2,449.2 L312.4,450.3 L311.6,449.7 L310.8,449.4 L310,451.1 L309.2,449.9 L308.4,450.7 L307.6,450.2 L306.8,449.7 L306,450.9 L305.2,450.8 L304.4,451.5 L303.6,450.4 L302.8,450.7 L302,451.1 L301.2,450.7 L300.4,450.8 L299.6,450.9 L298.8,450.7 L298,451.7 L297.2,451.9 L296.4,451.8 L295.6,452.5 L294.8,451.3 L294,451.4 L293.2,453 L292.4,452.4 L291.6,451.7 L290.8,452.8 L290,453.6 L289.2,453 L288.4,452.1 L287.6,453.4 L286.8,454 L286,452.3 L285.2,453 L284.4,453 L283.6,454.2 L282.8,454.4 L282,454.3 L281.2,453.1 L280.4,454.5 L279.6,454.7 L278.8,453.1 L278,453.8 L277.2,454.1 L276.4,453.3 L275.6,454.8 L274.8,455.4 L274,455 L273.2,454 L272.4,454.3 L271.6,454 L270.8,456 L270,456.1 L269.2,455.5 L268.4,455.7 L267.6,455.6 L266.8,456.5 L266,456.1 L265.2,455.9 L264.4,455.5 L263.6,455.4 L262.8,455.7 L262,456 L261.2,456.5 L260.4,457.4 L259.6,456.3 L258.8,456 L258,457.3 L257.2,456.6 L256.4,457 L255.6,456.4 L254.8,457 L254,457.7 L253.2,458.3 L252.4,458.2 L251.6,457.1 L250.8,458.1 L250,458.7 L249.2,457.9 L248.4,458.1 L247.6,458.7 L246.8,458.5 L246,457.9 L245.2,458 L244.4,458.6 L243.6,458.1 L242.8,458.9 L242,458.2 L241.2,458.4 L240.4,460.1 L239.6,459.8 L238.8,459.4 L238,458.6 L237.2,460.3 L236.4,459.7 L235.6,460.5 L234.8,459.7 L234,459.4 L233.2,460.3 L232.4,459.4 L231.6,459.7 L230.8,459.8 L230,461.6 L229.2,461.5 L228.4,461.4 L227.6,461.2 L226.8,462.1 L226,462.1 L225.2,460.9 L224.4,460.9 L223.6,461.6 L222.8,462 L222,461.4 L221.2,461.8 L220.4,461.3 L219.6,461.4 L218.8,461.4 L218,462.2 L217.2,463.3 L216.4,463.1 L215.6,463.2 L214.8,462 L214,462.5 L213.2,463.7 L212.4,463.3 L211.6,463.7 L210.8,463.7 L210,464.1 L209.2,464.1 L208.4,463.2 L207.6,463.4 L206.8,464.7 L206,464.9 L205.2,464.6 L204.4,464.6 L203.6,464.9 L202.8,464.5 L202,465.2 L201.2,465 L200.4,464.1 L199.6,465 L198.8,465.7 L198,464.9 L197.2,465.4 L196.4,465.2 L195.6,466 L194.8,464.6 L194,465.7 L193.2,466.3 L192.4,465.2 L191.6,465.4 L190.8,467.1 L190,465.7 L189.2,466.1 L188.4,467.4 L187.6,467.5 L186.8,466.9 L186,466.1 L185.2,467.2 L184.4,466.1 L183.6,466.3 L182.8,468.2 L182,467.9 L181.2,466.7 L180.4,468.3 L179.6,467.1 L178.8,468.7 L178,468.8 L177.2,469 L176.4,468.7 L175.6,467.9 L174.8,467.9 L174,469.2 L173.2,468.1 L172.4,469.2 L171.6,469.6 L170.8,468.6 L170,470 L169.2,469.1 L168.4,468.9 L167.6,469.7 L166.8,469.3 L166,470 L165.2,469.9 L164.4,470.8 L163.6,470.1 L162.8,469.9 L162,471 L161.2,469.7 L160.4,470.4 L159.6,471.6 L158.8,471.2 L158,471.6 L157.2,470.8 L156.4,472.1 L155.6,471.7 L154.8,471.1 L154,471.4 L153.2,472 L152.4,472.3 L151.6,471 L150.8,472.8 L150,472 L149.2,472.1 L148.4,472.2 L147.6,473.5 L146.8,471.9 L146,472.1 L145.2,472.4 L144.4,474 L143.6,474.2 L142.8,473.3 L142,473.5 L141.2,473 L140.4,473.2 L139.6,473.5 L138.8,473.8 L138,473.5 L137.2,474.8 L136.4,475.4 L135.6,474.4 L134.8,475 L134,473.9 L133.2,474.8 L132.4,474.1 L131.6,475.8 L130.8,475.7 L130,475.9 L129.2,475.7 L128.4,476.5 L127.6,475.2 L126.8,475.5 L126,476.6 L125.2,475.9 L124.4,475.5 L123.6,476.5 L122.8,476.2 L122,476.9 L121.2,477.5 L120.4,476.3 L119.6,478 L118.8,478.2 L118,478.2 L117.2,476.6 L116.4,478.5 L115.6,478.5 L114.8,478 L114,477.4 L113.2,478.3 L112.4,479.3 L111.6,478.8 L110.8,478.7 L110,479.2 L109.2,478.5 L108.4,479.9 L107.6,478.9 L106.8,480.3 L106,478.9 L105.2,480.1 L104.4,479.4 L103.6,480.5 L102.8,479.2 L102,480.6 L101.2,480.5 L100.4,481.2 L99.6,480.9 L98.8,480.4 L98,480.2 L97.2,481.7 L96.4,481.1 L95.6,481.9 L94.8,480.6 L94,482.3 L93.2,482.1 L92.4,481.7 L91.6,482.2 L90.8,483 L90,482 L89.2,481.8 L88.4,481.7 L87.6,482.1 L86.8,481.9 L86,482.1Z" fill="#9a9a3a"/>
<path d="M260.6,456.1 L261.4,447.6 L261.8,266.2 L263.8,266.2 L264.2,447.6 L265,456.1 Z" fill="#8a8a40"/>
<path d="M86,480.3 L86.8,481.3 L87.6,483.2 L88.4,482.8 L89.2,482.5 L90,482.7 L90.8,482.5 L91.6,479.9 L92.4,480.7 L93.2,480.2 L94,480.8 L94.8,479.7 L95.6,480.2 L96.4,480.6 L97.2,480.1 L98,480.7 L98.8,480.6 L99.6,478.7 L100.4,479.4 L101.2,478.6 L102,479.8 L102.8,478.9 L103.6,478 L104.4,478.3 L105.2,478.2 L106,479.2 L106.8,477.5 L107.6,478.7 L108.4,478.5 L109.2,477.2 L110,477.4 L110.8,479.1 L111.6,478.1 L112.4,478.4 L113.2,476.7 L114,478.1 L114.8,477 L115.6,476.1 L116.4,477.4 L117.2,477.7 L118,476.3 L118.8,475.8 L119.6,475.2 L120.4,475.4 L121.2,477.1 L122,477 L122.8,475.5 L123.6,476.4 L124.4,474.2 L125.2,475.1 L126,475.5 L126.8,473.5 L127.6,474.5 L128.4,474.4 L129.2,474.1 L130,474.9 L130.8,472.9 L131.6,474.6 L132.4,473.2 L133.2,475.3 L134,474.2 L134.8,473.2 L135.6,473.1 L136.4,473.9 L137.2,472.2 L138,472.7 L138.8,472.7 L139.6,471.8 L140.4,472.1 L141.2,472 L142,472.3 L142.8,473.5 L143.6,471.7 L144.4,472.2 L145.2,470.7 L146,471.2 L146.8,472.8 L147.6,472 L148.4,472.6 L149.2,470.8 L150,471.2 L150.8,470 L151.6,470.3 L152.4,469.8 L153.2,470.5 L154,470.8 L154.8,471.3 L155.6,472.1 L156.4,470.5 L157.2,469.9 L158,469.3 L158.8,469.6 L159.6,470.3 L160.4,469.2 L161.2,471.2 L162,468.4 L162.8,469.6 L163.6,468.8 L164.4,468.8 L165.2,470.6 L166,468.7 L166.8,469.4 L167.6,468.6 L168.4,467.8 L169.2,468.4 L170,468 L170.8,466.8 L171.6,469.7 L172.4,468.7 L173.2,467.9 L174,466.8 L174.8,468.4 L175.6,468.1 L176.4,467.9 L177.2,467.4 L178,467.5 L178.8,467.1 L179.6,465.9 L180.4,467.5 L181.2,467.2 L182,467 L182.8,466.4 L183.6,466.7 L184.4,466 L185.2,467.8 L186,466.7 L186.8,466.4 L187.6,467.3 L188.4,466.6 L189.2,466.8 L190,466.7 L190.8,463.9 L191.6,465.2 L192.4,465.9 L193.2,466.3 L194,466.3 L194.8,463.4 L195.6,463.4 L196.4,465.1 L197.2,463.5 L198,463.8 L198.8,465.7 L199.6,465.9 L200.4,465.1 L201.2,465.4 L202,464.7 L202.8,462.6 L203.6,463.9 L204.4,464.8 L205.2,464.2 L206,464.3 L206.8,462.4 L207.6,462.5 L208.4,464.2 L209.2,463.6 L210,462 L210.8,464.2 L211.6,462.7 L212.4,461.1 L213.2,463.3 L214,461.9 L214.8,461.8 L215.6,462.7 L216.4,462.1 L217.2,463.3 L218,461.9 L218.8,460.8 L219.6,461.2 L220.4,460.3 L221.2,461.9 L222,461 L222.8,460.3 L223.6,459.5 L224.4,460.2 L225.2,461 L226,461.1 L226.8,461.5 L227.6,461.7 L228.4,461 L229.2,460.1 L230,461.6 L230.8,458.7 L231.6,459.9 L232.4,458.9 L233.2,459.3 L234,458.5 L234.8,458.4 L235.6,459.4 L236.4,459.2 L237.2,457.5 L238,458 L238.8,459.7 L239.6,458.9 L240.4,459.5 L241.2,459.2 L242,458.6 L242.8,457.9 L243.6,456.8 L244.4,458.6 L245.2,458.1 L246,456.5 L246.8,458.9 L247.6,456.8 L248.4,456.7 L249.2,457.3 L250,456.6 L250.8,456.7 L251.6,457.7 L252.4,456 L253.2,456.2 L254,457.3 L254.8,458.1 L255.6,455 L256.4,456.1 L257.2,455.9 L258,454.7 L258.8,456 L259.6,455.7 L260.4,456.8 L261.2,454.6 L262,456.8 L262.8,456 L263.6,455.2 L264.4,454.4 L265.2,456.3 L266,454.6 L266.8,456.4 L267.6,455.2 L268.4,455.8 L269.2,453.4 L270,455.1 L270.8,453.4 L271.6,454.8 L272.4,452.6 L273.2,453.5 L274,453.4 L274.8,454.4 L275.6,454.6 L276.4,453.8 L277.2,452.3 L278,452 L278.8,451.8 L279.6,452.8 L280.4,452.7 L281.2,452.7 L282,452.9 L282.8,454.3 L283.6,452.5 L284.4,454.1 L285.2,452.9 L286,452 L286.8,451.5 L287.6,450.7 L288.4,453.2 L289.2,451.8 L290,451.1 L290.8,451.8 L291.6,453 L292.4,450.7 L293.2,451.2 L294,451.2 L294.8,450.6 L295.6,451.8 L296.4,452.4 L297.2,450.3 L298,449.3 L298.8,449.5 L299.6,449.1 L300.4,449.6 L301.2,449.1 L302,450.4 L302.8,451.3 L303.6,449.3 L304.4,451.1 L305.2,450.7 L306,451.3 L306.8,450 L307.6,448.4 L308.4,450.2 L309.2,450.1 L310,449.3 L310.8,449 L311.6,449.4 L312.4,448.3 L313.2,447.6 L314,448.8 L314.8,447.5 L315.6,448.7 L316.4,448.2 L317.2,449.7 L318,449.9 L318.8,449.9 L319.6,447.4 L320.4,448.5 L321.2,449.6 L322,448.9 L322.8,446.5 L323.6,446.7 L324.4,448 L325.2,447.4 L326,446.2 L326.8,446.1 L327.6,447.7 L328.4,445.7 L329.2,448.6 L330,446.7 L330.8,447.5 L331.6,447.3 L332.4,446.9 L333.2,445.6 L334,448 L334.8,448 L335.6,447.4 L336.4,447 L337.2,447.6 L338,447.3 L338.8,446.9 L339.6,445.3 L340.4,446.8 L341.2,446.8 L342,444.6 L342.8,445.7 L343.6,444.9 L344.4,444.2 L345.2,444.3 L346,444.5 L346,454.1 L345.2,454.3 L344.4,454 L343.6,452.1 L342.8,452.6 L342,452.5 L341.2,454.3 L340.4,454.9 L339.6,453.5 L338.8,453.9 L338,453.3 L337.2,455.2 L336.4,454.9 L335.6,453.5 L334.8,454.3 L334,455.4 L333.2,456.1 L332.4,454.8 L331.6,454.5 L330.8,455.7 L330,454.6 L329.2,454.7 L328.4,454.2 L327.6,455.9 L326.8,455.3 L326,456 L325.2,456.2 L324.4,454.7 L323.6,455 L322.8,457 L322,456.1 L321.2,456.5 L320.4,455.2 L319.6,457.2 L318.8,457.7 L318,457.6 L317.2,455.8 L316.4,456.3 L315.6,457.4 L314.8,456.8 L314,456 L313.2,457.9 L312.4,457.5 L311.6,456.5 L310.8,456.5 L310,456.3 L309.2,456.7 L308.4,457.8 L307.6,456.2 L306.8,458.9 L306,457.5 L305.2,456.6 L304.4,456.6 L303.6,457.3 L302.8,458 L302,457.2 L301.2,457.4 L300.4,457.2 L299.6,457.5 L298.8,458.6 L298,458.4 L297.2,459.6 L296.4,457.8 L295.6,457.7 L294.8,459.5 L294,460.7 L293.2,457.9 L292.4,459.7 L291.6,460.9 L290.8,459.5 L290,458.7 L289.2,460.8 L288.4,459.1 L287.6,460 L286.8,459 L286,461.2 L285.2,461.5 L284.4,460 L283.6,459.8 L282.8,460.4 L282,460.2 L281.2,459.7 L280.4,461.1 L279.6,460.1 L278.8,462 L278,462.8 L277.2,462.2 L276.4,462.6 L275.6,461 L274.8,461.1 L274,460.7 L273.2,462.3 L272.4,461.9 L271.6,462.7 L270.8,462.7 L270,463.1 L269.2,461.9 L268.4,462.5 L267.6,463.1 L266.8,461.2 L266,464.1 L265.2,461.7 L264.4,463.3 L263.6,463.5 L262.8,463.5 L262,463.1 L261.2,463.2 L260.4,463.6 L259.6,464.6 L258.8,463.7 L258,465.4 L257.2,463.5 L256.4,465.6 L255.6,465.1 L254.8,463.5 L254,465.4 L253.2,463.4 L252.4,463.2 L251.6,463.6 L250.8,465.9 L250,464.9 L249.2,464.4 L248.4,464 L247.6,464.1 L246.8,464.1 L246,466.7 L245.2,466.5 L244.4,464.7 L243.6,466.4 L242.8,466 L242,466.6 L241.2,465.4 L240.4,465.8 L239.6,465.6 L238.8,466.8 L238,465.2 L237.2,468.2 L236.4,468 L235.6,466.9 L234.8,467.1 L234,467.5 L233.2,466.3 L232.4,468.7 L231.6,466.5 L230.8,467.5 L230,466.9 L229.2,468.5 L228.4,469.1 L227.6,469.1 L226.8,467.7 L226,467.2 L225.2,468.9 L224.4,469.7 L223.6,469.7 L222.8,468.7 L222,469.3 L221.2,469.1 L220.4,468.5 L219.6,470.3 L218.8,470.1 L218,470.4 L217.2,469.5 L216.4,468.6 L215.6,469.5 L214.8,470.7 L214,469.1 L213.2,471.3 L212.4,471 L211.6,470.3 L210.8,470 L210,469.6 L209.2,470.3 L208.4,469.9 L207.6,471.6 L206.8,472.4 L206,470.9 L205.2,471 L204.4,470.1 L203.6,471.7 L202.8,472.8 L202,470.7 L201.2,472.6 L200.4,471.1 L199.6,471.7 L198.8,473.1 L198,473.4 L197.2,471.5 L196.4,471.1 L195.6,471 L194.8,472 L194,472.1 L193.2,471.8 L192.4,472.9 L191.6,474 L190.8,474.3 L190,473.2 L189.2,472.2 L188.4,472.6 L187.6,475 L186.8,472.1 L186,472.4 L185.2,474.8 L184.4,473.7 L183.6,474.8 L182.8,475.2 L182,473.3 L181.2,475.2 L180.4,474.6 L179.6,473.9 L178.8,475 L178,473.6 L177.2,474.3 L176.4,473.9 L175.6,473.9 L174.8,474.4 L174,475.8 L173.2,474.5 L172.4,475.5 L171.6,476.2 L170.8,474.9 L170,476.6 L169.2,477 L168.4,477 L167.6,475.9 L166.8,476.8 L166,475.4 L165.2,476.1 L164.4,476.4 L163.6,477.9 L162.8,476.3 L162,477.5 L161.2,476.7 L160.4,475.9 L159.6,477.6 L158.8,476.9 L158,478.8 L157.2,478.9 L156.4,477.8 L155.6,476.9 L154.8,478.1 L154,477.5 L153.2,478.1 L152.4,477.1 L151.6,476.9 L150.8,478.5 L150,480.3 L149.2,479.7 L148.4,477.7 L147.6,478.7 L146.8,480.3 L146,479.7 L145.2,479.1 L144.4,481.1 L143.6,480.6 L142.8,480.8 L142,478.5 L141.2,480.3 L140.4,481.3 L139.6,481.9 L138.8,481.7 L138,480.3 L137.2,479.7 L136.4,480.8 L135.6,481.4 L134.8,479.5 L134,481.4 L133.2,480.4 L132.4,482.5 L131.6,480.9 L130.8,482.2 L130,480.8 L129.2,482.5 L128.4,482.8 L127.6,480.6 L126.8,481.9 L126,481.6 L125.2,482.2 L124.4,483.9 L123.6,482.4 L122.8,481.9 L122,484.3 L121.2,482.6 L120.4,484.6 L119.6,482.3 L118.8,485 L118,483.4 L117.2,484.9 L116.4,485.2 L115.6,484 L114.8,483.7 L114,485 L113.2,483.2 L112.4,483.7 L111.6,486.2 L110.8,484.9 L110,483.4 L109.2,483.6 L108.4,485.8 L107.6,485.9 L106.8,486.3 L106,484.6 L105.2,486.5 L104.4,485.2 L103.6,485.8 L102.8,486.8 L102,487.2 L101.2,486 L100.4,486.1 L99.6,488 L98.8,486.8 L98,487.5 L97.2,486.3 L96.4,486.1 L95.6,487 L94.8,487.4 L94,486.7 L93.2,487.7 L92.4,487.3 L91.6,488 L90.8,488.3 L90,488.7 L89.2,488.6 L88.4,489.4 L87.6,488 L86.8,490 L86,487.4Z" fill="#1a1a80"/>
<path d="M277.3,458.7 L278.1,450.2 L278.5,263.9 L280.5,263.9 L280.9,450.2 L281.7,458.7 Z" fill="#1c1c78"/>
<path d="M86,484.1 L86.8,484.3 L87.6,484.3 L88.4,482.7 L89.2,483.8 L90,485.8 L90.8,483.1 L91.6,482.4 L92.4,484 L93.2,482.7 L94,485.2 L94.8,485.1 L95.6,481.9 L96.4,481.4 L97.2,484.1 L98,483 L98.8,481.4 L99.6,481.7 L100.4,481.3 L101.2,482.5 L102,482.6 L102.8,483.5 L103.6,482.1 L104.4,483.3 L105.2,480.2 L106,482.2 L106.8,481.9 L107.6,482.8 L108.4,480.9 L109.2,481.9 L110,479.4 L110.8,481.8 L111.6,481.2 L112.4,479.1 L113.2,480.3 L114,481.8 L114.8,479.9 L115.6,480.4 L116.4,481.5 L117.2,478.2 L118,477.8 L118.8,479.1 L119.6,479 L120.4,480.2 L121.2,478.1 L122,478.9 L122.8,479.3 L123.6,478 L124.4,480.3 L125.2,477.8 L126,476.8 L126.8,477.9 L127.6,478.8 L128.4,479.1 L129.2,478.1 L130,477.2 L130.8,478 L131.6,477.6 L132.4,477.3 L133.2,475.7 L134,478.1 L134.8,475.5 L135.6,478.1 L136.4,477.6 L137.2,477.9 L138,475.6 L138.8,477.5 L139.6,475.3 L140.4,475.6 L141.2,476.9 L142,475.2 L142.8,477.3 L143.6,477.1 L144.4,477.2 L145.2,475.2 L146,476 L146.8,475.6 L147.6,475.5 L148.4,475.6 L149.2,473 L150,476 L150.8,475.6 L151.6,474.9 L152.4,473.3 L153.2,473.2 L154,474.1 L154.8,473.3 L155.6,475.4 L156.4,475.3 L157.2,473.6 L158,472.9 L158.8,472.2 L159.6,474.2 L160.4,471.4 L161.2,473 L162,471.7 L162.8,472.4 L163.6,474.2 L164.4,471.9 L165.2,471.1 L166,473 L166.8,470.8 L167.6,472.1 L168.4,473.1 L169.2,470.8 L170,472.9 L170.8,469.8 L171.6,472.7 L172.4,472.4 L173.2,471.8 L174,472.9 L174.8,472.3 L175.6,470.3 L176.4,471.5 L177.2,471 L178,469.7 L178.8,469.2 L179.6,471.8 L180.4,471 L181.2,468.8 L182,471 L182.8,468.5 L183.6,470.8 L184.4,470.9 L185.2,468.2 L186,470.9 L186.8,467.9 L187.6,467.8 L188.4,467.7 L189.2,469.7 L190,468.6 L190.8,467.2 L191.6,467.8 L192.4,469.4 L193.2,468.7 L194,467.1 L194.8,467.6 L195.6,469.1 L196.4,467.5 L197.2,469.3 L198,467.8 L198.8,469.3 L199.6,467.5 L200.4,468.9 L201.2,466.6 L202,467.4 L202.8,466 L203.6,468.9 L204.4,466.6 L205.2,468.4 L206,465.5 L206.8,467.6 L207.6,467.2 L208.4,466.6 L209.2,466.3 L210,467.8 L210.8,467.8 L211.6,467.8 L212.4,467.6 L213.2,467.3 L214,467.6 L214.8,467 L215.6,465.2 L216.4,464.5 L217.2,465.3 L218,464.2 L218.8,466.1 L219.6,466.9 L220.4,464.6 L221.2,465.2 L222,466.4 L222.8,464.3 L223.6,463.1 L224.4,464.8 L225.2,466.2 L226,463.8 L226.8,463 L227.6,464.4 L228.4,463.7 L229.2,463.2 L230,463.6 L230.8,463.9 L231.6,462 L232.4,462.9 L233.2,464.8 L234,464.3 L234.8,463.3 L235.6,461.4 L236.4,463.5 L237.2,462.4 L238,463.9 L238.8,461.1 L239.6,463.1 L240.4,460.8 L241.2,460.6 L242,462.7 L242.8,461.9 L243.6,460.9 L244.4,463.1 L245.2,462.6 L246,462.8 L246.8,462.2 L247.6,461.7 L248.4,463.1 L249.2,461.4 L250,459.8 L250.8,460.1 L251.6,459.3 L252.4,462.2 L253.2,461.6 L254,459.7 L254.8,459.9 L255.6,460 L256.4,460.7 L257.2,462.1 L258,462 L258.8,461.5 L259.6,460.2 L260.4,460.9 L261.2,458.8 L262,459.9 L262.8,459.6 L263.6,460.5 L264.4,459.3 L265.2,458.5 L266,460.2 L266.8,459 L267.6,459.7 L268.4,459.1 L269.2,459.7 L270,458.1 L270.8,457.2 L271.6,459.4 L272.4,457.3 L273.2,457 L274,457 L274.8,457.3 L275.6,457.3 L276.4,459.6 L277.2,458.8 L278,458.1 L278.8,459.4 L279.6,455.9 L280.4,456.9 L281.2,457.2 L282,455.7 L282.8,456.6 L283.6,458.6 L284.4,456.1 L285.2,456.5 L286,455.8 L286.8,457.1 L287.6,456 L288.4,457.6 L289.2,456 L290,457.5 L290.8,456.3 L291.6,455 L292.4,456.6 L293.2,457.7 L294,454.4 L294.8,455 L295.6,457.1 L296.4,455.8 L297.2,454.6 L298,455.3 L298.8,454.4 L299.6,453.8 L300.4,454 L301.2,455.4 L302,456.2 L302.8,455.5 L303.6,453.7 L304.4,455.9 L305.2,456.4 L306,454.4 L306.8,454.1 L307.6,456 L308.4,454.7 L309.2,453 L310,455.3 L310.8,454.6 L311.6,455.8 L312.4,455.1 L313.2,453.3 L314,453.6 L314.8,452.2 L315.6,453.3 L316.4,453.6 L317.2,452.9 L318,451.8 L318.8,451.9 L319.6,454 L320.4,455 L321.2,454.8 L322,453.8 L322.8,453.4 L323.6,454.5 L324.4,453.2 L325.2,452 L326,454.2 L326.8,451 L327.6,454.3 L328.4,451.4 L329.2,453.8 L330,452.6 L330.8,451.9 L331.6,450.4 L332.4,450.5 L333.2,450.6 L334,453.1 L334.8,450.2 L335.6,451.7 L336.4,450.4 L337.2,452.7 L338,452.9 L338.8,450.6 L339.6,451.2 L340.4,451.6 L341.2,451.3 L342,452.9 L342.8,449.3 L343.6,450.2 L344.4,450.5 L345.2,452.2 L346,451.9 L346,459.2 L345.2,458.6 L344.4,457.1 L343.6,457.5 L342.8,458.4 L342,458.1 L341.2,459.3 L340.4,460.7 L339.6,459.9 L338.8,458.5 L338,459.2 L337.2,458.3 L336.4,459.7 L335.6,459.7 L334.8,460.5 L334,460.7 L333.2,461.6 L332.4,461.9 L331.6,459.9 L330.8,461.8 L330,459 L329.2,461 L328.4,459.2 L327.6,461.4 L326.8,459.3 L326,459.9 L325.2,459.1 L324.4,462 L323.6,460.7 L322.8,459.3 L322,461.9 L321.2,459.7 L320.4,462.9 L319.6,461.1 L318.8,462.7 L318,461.5 L317.2,461.7 L316.4,462.8 L315.6,462.8 L314.8,463.4 L314,462.8 L313.2,462.7 L312.4,462.9 L311.6,460.7 L310.8,460.8 L310,463.2 L309.2,463.7 L308.4,464.1 L307.6,461.5 L306.8,464.3 L306,464.4 L305.2,462.2 L304.4,462.8 L303.6,462 L302.8,464.4 L302,461.7 L301.2,462.1 L300.4,462.1 L299.6,462.6 L298.8,464.3 L298,465.3 L297.2,464.1 L296.4,464.4 L295.6,463.3 L294.8,464.1 L294,464.8 L293.2,465.5 L292.4,462.8 L291.6,465.7 L290.8,463.8 L290,464.7 L289.2,466.1 L288.4,465.5 L287.6,464.8 L286.8,464.6 L286,464 L285.2,463.6 L284.4,463.7 L283.6,464.4 L282.8,463.5 L282,466.6 L281.2,466.9 L280.4,464.5 L279.6,465 L278.8,467.4 L278,465 L277.2,466.6 L276.4,465.2 L275.6,467.5 L274.8,466.3 L274,464.9 L273.2,467.3 L272.4,467.3 L271.6,466.9 L270.8,466.1 L270,466.2 L269.2,465.8 L268.4,467.3 L267.6,466 L266.8,468 L266,467.7 L265.2,467.9 L264.4,465.6 L263.6,466.5 L262.8,466 L262,468.7 L261.2,468.9 L260.4,467.3 L259.6,467.6 L258.8,466.4 L258,466.5 L257.2,467.9 L256.4,469.6 L255.6,469.5 L254.8,469.4 L254,469.4 L253.2,468.1 L252.4,469.9 L251.6,468.8 L250.8,470.3 L250,468.6 L249.2,469.8 L248.4,470 L247.6,468.4 L246.8,469.2 L246,470.1 L245.2,469.3 L244.4,469.7 L243.6,468.9 L242.8,469.2 L242,469.4 L241.2,471.2 L240.4,470.4 L239.6,469.5 L238.8,470.8 L238,470 L237.2,472.3 L236.4,471.6 L235.6,469.5 L234.8,471.3 L234,471 L233.2,470.4 L232.4,472.5 L231.6,470.3 L230.8,470.6 L230,473.5 L229.2,471.9 L228.4,471.1 L227.6,472.2 L226.8,473.8 L226,472 L225.2,472.1 L224.4,472.3 L223.6,472.7 L222.8,471.3 L222,473.3 L221.2,474.3 L220.4,472.7 L219.6,472.1 L218.8,471.8 L218,474.4 L217.2,473.1 L216.4,474.5 L215.6,474.8 L214.8,474.9 L214,472.1 L213.2,473.6 L212.4,474.6 L211.6,472.8 L210.8,474.2 L210,475.8 L209.2,474.3 L208.4,473.8 L207.6,474 L206.8,476.3 L206,475.4 L205.2,474.5 L204.4,476.3 L203.6,475.1 L202.8,475 L202,476.4 L201.2,474.1 L200.4,474.7 L199.6,475.9 L198.8,477.4 L198,475.5 L197.2,476.5 L196.4,475.3 L195.6,475.2 L194.8,475.5 L194,476 L193.2,477.3 L192.4,477.7 L191.6,477.8 L190.8,476.3 L190,476.8 L189.2,478.4 L188.4,476.3 L187.6,477.9 L186.8,478.3 L186,476.3 L185.2,477.1 L184.4,476.5 L183.6,477.7 L182.8,477.2 L182,477.4 L181.2,479.2 L180.4,478.9 L179.6,477.5 L178.8,479.8 L178,478.8 L177.2,477.9 L176.4,480.1 L175.6,479.6 L174.8,480.6 L174,478.6 L173.2,480.5 L172.4,480.4 L171.6,478.1 L170.8,480.9 L170,478.8 L169.2,481.4 L168.4,481.1 L167.6,478.8 L166.8,481.3 L166,480.6 L165.2,479.7 L164.4,479.3 L163.6,479.1 L162.8,480.9 L162,482.1 L161.2,482.6 L160.4,480.3 L159.6,482.8 L158.8,481.6 L158,482.6 L157.2,481.2 L156.4,480.8 L155.6,482.8 L154.8,482.2 L154,482.4 L153.2,482.9 L152.4,481.9 L151.6,483.5 L150.8,480.8 L150,481 L149.2,482.1 L148.4,484.5 L147.6,483.1 L146.8,483 L146,484.9 L145.2,483.5 L144.4,481.8 L143.6,483.8 L142.8,484 L142,484 L141.2,484.4 L140.4,483.3 L139.6,484.5 L138.8,485.7 L138,486 L137.2,485.2 L136.4,483 L135.6,486.6 L134.8,485.3 L134,485.4 L133.2,486 L132.4,485 L131.6,485 L130.8,484 L130,484.8 L129.2,484 L128.4,486.2 L127.6,487.7 L126.8,487.4 L126,484.7 L125.2,484.7 L124.4,485.5 L123.6,487.1 L122.8,486.8 L122,486.5 L121.2,486.3 L120.4,487.5 L119.6,488.6 L118.8,489.1 L118,487.5 L117.2,487.5 L116.4,486.6 L115.6,486.8 L114.8,489.1 L114,490 L113.2,487.7 L112.4,487.1 L111.6,490 L110.8,487.8 L110,489.3 L109.2,488.3 L108.4,489 L107.6,490.2 L106.8,489.9 L106,491 L105.2,489 L104.4,489.3 L103.6,489.3 L102.8,491.1 L102,490.5 L101.2,491.3 L100.4,491.2 L99.6,490.2 L98.8,490.8 L98,491.9 L97.2,491.6 L96.4,491.8 L95.6,492.5 L94.8,492.7 L94,491 L93.2,490.8 L92.4,491.8 L91.6,492.6 L90.8,490.3 L90,491.2 L89.2,490.5 L88.4,493.7 L87.6,492.1 L86.8,490.9 L86,492Z" fill="#6e1e8e"/>
<path d="M299.6,460.7 L300.4,452.2 L300.8,263.2 L302.8,263.2 L303.2,452.2 L304,460.7 Z" fill="#7a2288"/>
<path d="M86,488.7 L86.8,487 L87.6,486.5 L88.4,487.8 L89.2,486.1 L90,488.3 L90.8,488.7 L91.6,485.8 L92.4,487.6 L93.2,487.1 L94,486.5 L94.8,487.9 L95.6,486.8 L96.4,486.1 L97.2,486.2 L98,485.5 L98.8,485.4 L99.6,485 L100.4,485.1 L101.2,487 L102,483.4 L102.8,484.6 L103.6,485.2 L104.4,483.8 L105.2,486 L106,483.7 L106.8,483.7 L107.6,485.6 L108.4,483.2 L109.2,484.7 L110,483.7 L110.8,482.8 L111.6,484.9 L112.4,482.1 L113.2,485.1 L114,483 L114.8,481.5 L115.6,481.4 L116.4,483.4 L117.2,484.1 L118,483 L118.8,482.7 L119.6,481.4 L120.4,483 L121.2,481.1 L122,482.2 L122.8,481.6 L123.6,480.5 L124.4,480.9 L125.2,483 L126,481.7 L126.8,480.8 L127.6,481.5 L128.4,479.2 L129.2,481 L130,480 L130.8,482 L131.6,479.5 L132.4,479.5 L133.2,478.9 L134,479.8 L134.8,478.7 L135.6,478.5 L136.4,479.1 L137.2,480.5 L138,479.3 L138.8,480.3 L139.6,478.9 L140.4,478.2 L141.2,479 L142,478.4 L142.8,477.4 L143.6,478.1 L144.4,478.3 L145.2,477.3 L146,477.6 L146.8,478.3 L147.6,478.7 L148.4,476.3 L149.2,476.7 L150,477.8 L150.8,476.6 L151.6,476.6 L152.4,478.3 L153.2,477.9 L154,477.6 L154.8,475.3 L155.6,475.9 L156.4,477.9 L157.2,476.3 L158,478.2 L158.8,475.8 L159.6,478 L160.4,477.4 L161.2,476.5 L162,477.3 L162.8,474.3 L163.6,476.7 L164.4,476 L165.2,474.6 L166,473.8 L166.8,473.5 L167.6,474.5 L168.4,474.7 L169.2,473.9 L170,475.2 L170.8,474.7 L171.6,475.9 L172.4,473.2 L173.2,474.3 L174,474.4 L174.8,475.5 L175.6,472.3 L176.4,472.1 L177.2,472.4 L178,474.6 L178.8,472.8 L179.6,474.1 L180.4,474 L181.2,472.8 L182,473.6 L182.8,471.6 L183.6,472.5 L184.4,472.3 L185.2,472.8 L186,473.6 L186.8,471.8 L187.6,473.6 L188.4,473.1 L189.2,473.1 L190,470.6 L190.8,470.4 L191.6,471.1 L192.4,471.8 L193.2,472.3 L194,472.5 L194.8,470.7 L195.6,472.2 L196.4,470.7 L197.2,469.8 L198,470.8 L198.8,470.2 L199.6,470.7 L200.4,472 L201.2,471.2 L202,471.7 L202.8,470.5 L203.6,469.4 L204.4,471.2 L205.2,468.5 L206,471.5 L206.8,470.9 L207.6,469.9 L208.4,469.2 L209.2,468 L210,467.9 L210.8,469.9 L211.6,470.3 L212.4,470.6 L213.2,467.2 L214,469.8 L214.8,468.9 L215.6,467.4 L216.4,470 L217.2,468.1 L218,467.5 L218.8,469.3 L219.6,467.4 L220.4,468 L221.2,467.5 L222,468.5 L222.8,468 L223.6,467.7 L224.4,465.8 L225.2,468.2 L226,468.6 L226.8,466.7 L227.6,468.3 L228.4,468.8 L229.2,465.3 L230,465.3 L230.8,466.1 L231.6,466.5 L232.4,468 L233.2,466.7 L234,465.7 L234.8,465.7 L235.6,467.8 L236.4,467.2 L237.2,464.6 L238,464.5 L238.8,467.5 L239.6,467.3 L240.4,464.6 L241.2,464.7 L242,465.5 L242.8,465.9 L243.6,465.5 L244.4,465.9 L245.2,465.8 L246,464.8 L246.8,463.2 L247.6,465.1 L248.4,465.9 L249.2,465.8 L250,464.4 L250.8,463.5 L251.6,466 L252.4,462.4 L253.2,463.5 L254,462.6 L254.8,463.3 L255.6,463.2 L256.4,462.5 L257.2,463.9 L258,461.9 L258.8,464.3 L259.6,464.9 L260.4,462.8 L261.2,463.3 L262,462.2 L262.8,464.6 L263.6,463.1 L264.4,463.1 L265.2,464.3 L266,461.7 L266.8,460.8 L267.6,464 L268.4,461.9 L269.2,461.3 L270,462.7 L270.8,463.6 L271.6,462.7 L272.4,460.6 L273.2,463.6 L274,461.6 L274.8,463.3 L275.6,461.7 L276.4,461.6 L277.2,462.2 L278,462.5 L278.8,461.4 L279.6,460.1 L280.4,459.3 L281.2,461.2 L282,462.4 L282.8,459.7 L283.6,461 L284.4,458.8 L285.2,461.3 L286,459.6 L286.8,461.7 L287.6,459.1 L288.4,461.1 L289.2,459.6 L290,459.8 L290.8,460.3 L291.6,458.8 L292.4,460.5 L293.2,458.7 L294,461.4 L294.8,458.9 L295.6,458.3 L296.4,460.1 L297.2,460.4 L298,457.8 L298.8,459 L299.6,457.7 L300.4,459.6 L301.2,457.6 L302,459.8 L302.8,458.7 L303.6,459.1 L304.4,457.5 L305.2,458.7 L306,460.2 L306.8,457.8 L307.6,458.8 L308.4,457.3 L309.2,459.9 L310,459.6 L310.8,458.5 L311.6,456.8 L312.4,459.6 L313.2,457.1 L314,458.6 L314.8,459.2 L315.6,455.7 L316.4,455.8 L317.2,455.7 L318,457.8 L318.8,458.5 L319.6,458.8 L320.4,457.5 L321.2,456.2 L322,455.1 L322.8,456.2 L323.6,456.8 L324.4,456 L325.2,457.8 L326,457.6 L326.8,456.6 L327.6,456.2 L328.4,457.9 L329.2,457.1 L330,454.9 L330.8,457.3 L331.6,456.5 L332.4,455.2 L333.2,456 L334,455.3 L334.8,454.2 L335.6,457.2 L336.4,453.9 L337.2,454.2 L338,456.6 L338.8,456.5 L339.6,453.6 L340.4,456.5 L341.2,455.3 L342,456.4 L342.8,454.4 L343.6,456.6 L344.4,455.7 L345.2,454.9 L346,455.5 L346,461.1 L345.2,461.4 L344.4,460.8 L343.6,459.6 L342.8,458.2 L342,458.7 L341.2,459.3 L340.4,461.5 L339.6,458.9 L338.8,459.1 L338,461.5 L337.2,461.4 L336.4,460.3 L335.6,461.8 L334.8,462.5 L334,460.3 L333.2,459.2 L332.4,462.5 L331.6,460.4 L330.8,461.8 L330,459.5 L329.2,462 L328.4,462.9 L327.6,463.2 L326.8,461.2 L326,461.2 L325.2,460.2 L324.4,462.1 L323.6,460.1 L322.8,463.2 L322,461 L321.2,463 L320.4,462.2 L319.6,461.6 L318.8,461.9 L318,461.2 L317.2,462.5 L316.4,462.2 L315.6,461 L314.8,463.2 L314,463.2 L313.2,462.7 L312.4,461.3 L311.6,462.4 L310.8,464.3 L310,462.8 L309.2,462.7 L308.4,463.9 L307.6,464.2 L306.8,462.4 L306,463.7 L305.2,465 L304.4,463.5 L303.6,463.4 L302.8,464.4 L302,463.7 L301.2,464.3 L300.4,463.5 L299.6,465 L298.8,465.7 L298,464.7 L297.2,463.2 L296.4,463.8 L295.6,464.1 L294.8,464.5 L294,464 L293.2,464.5 L292.4,463.4 L291.6,463.4 L290.8,466.7 L290,464.1 L289.2,463.4 L288.4,465.6 L287.6,463.5 L286.8,466.8 L286,466.6 L285.2,464.2 L284.4,464.2 L283.6,465.5 L282.8,465.5 L282,465.7 L281.2,464.7 L280.4,466.2 L279.6,467.4 L278.8,467.5 L278,466 L277.2,467 L276.4,468.2 L275.6,465.8 L274.8,468.2 L274,467.8 L273.2,467.9 L272.4,465.4 L271.6,466.5 L270.8,465.5 L270,465.7 L269.2,468 L268.4,467.6 L267.6,466.6 L266.8,467.2 L266,468.8 L265.2,469.1 L264.4,469.4 L263.6,467.4 L262.8,467.1 L262,466.4 L261.2,469.8 L260.4,470 L259.6,466.9 L258.8,470.2 L258,468.7 L257.2,469.8 L256.4,470.4 L255.6,468.1 L254.8,470.4 L254,470.2 L253.2,469.4 L252.4,468.6 L251.6,467.9 L250.8,470.2 L250,468.3 L249.2,470.7 L248.4,471 L247.6,468.6 L246.8,469.7 L246,469.1 L245.2,469.9 L244.4,470.8 L243.6,469.5 L242.8,470.5 L242,469.7 L241.2,468.9 L240.4,468.9 L239.6,469.7 L238.8,472 L238,470.6 L237.2,470.4 L236.4,469.5 L235.6,472 L234.8,473 L234,471.7 L233.2,471.3 L232.4,472.8 L231.6,470.1 L230.8,470.9 L230,472.1 L229.2,470.6 L228.4,472.6 L227.6,471.7 L226.8,473 L226,471.1 L225.2,472.4 L224.4,474 L223.6,474.3 L222.8,473.8 L222,472.7 L221.2,474.3 L220.4,474.1 L219.6,474 L218.8,473.9 L218,475 L217.2,473.4 L216.4,474.4 L215.6,473.7 L214.8,474.7 L214,472.6 L213.2,473 L212.4,472.4 L211.6,474.8 L210.8,474.8 L210,473.1 L209.2,476 L208.4,474.8 L207.6,474.8 L206.8,474.9 L206,473.2 L205.2,473.9 L204.4,474.4 L203.6,476.6 L202.8,474.8 L202,476.3 L201.2,475.1 L200.4,475.1 L199.6,476.6 L198.8,475.2 L198,477 L197.2,477.2 L196.4,475.6 L195.6,476.9 L194.8,475.1 L194,477.8 L193.2,477.6 L192.4,475.2 L191.6,476.4 L190.8,478.2 L190,476.1 L189.2,477.3 L188.4,477.3 L187.6,478.8 L186.8,479 L186,476 L185.2,477.3 L184.4,477.9 L183.6,476.5 L182.8,476.7 L182,477.4 L181.2,476.9 L180.4,479.3 L179.6,477 L178.8,479.8 L178,477.3 L177.2,479.1 L176.4,478.2 L175.6,480.1 L174.8,478.9 L174,480 L173.2,479.2 L172.4,478.5 L171.6,478.1 L170.8,478.5 L170,480.3 L169.2,478.6 L168.4,481.5 L167.6,478.9 L166.8,480.6 L166,482.1 L165.2,479.6 L164.4,481.2 L163.6,482.4 L162.8,479.7 L162,480.1 L161.2,480.5 L160.4,479.7 L159.6,480.3 L158.8,479.7 L158,482.4 L157.2,480.6 L156.4,482 L155.6,481.9 L154.8,480.7 L154,480.7 L153.2,483.5 L152.4,483.3 L151.6,481.8 L150.8,481.8 L150,482 L149.2,483.9 L148.4,482 L147.6,482.8 L146.8,481.3 L146,483.9 L145.2,482.2 L144.4,483.6 L143.6,484.3 L142.8,485.1 L142,483 L141.2,484.6 L140.4,485.8 L139.6,485.7 L138.8,485.8 L138,484.1 L137.2,484.2 L136.4,484.3 L135.6,483.8 L134.8,483.8 L134,486.5 L133.2,484.3 L132.4,486.3 L131.6,485.7 L130.8,485.6 L130,486.1 L129.2,484.6 L128.4,484.6 L127.6,485.5 L126.8,486.6 L126,484.9 L125.2,485.8 L124.4,488.1 L123.6,487.5 L122.8,487.9 L122,486.3 L121.2,486.5 L120.4,485.8 L119.6,488.8 L118.8,487.1 L118,486.1 L117.2,489.2 L116.4,487.7 L115.6,489.1 L114.8,488.9 L114,486.9 L113.2,489.1 L112.4,488.8 L111.6,489.9 L110.8,489.8 L110,488.4 L109.2,490 L108.4,488.2 L107.6,490.4 L106.8,487.8 L106,489.4 L105.2,491.2 L104.4,488 L103.6,489.4 L102.8,489.8 L102,490.9 L101.2,488.8 L100.4,489.9 L99.6,490.2 L98.8,490.9 L98,490.5 L97.2,489.6 L96.4,492 L95.6,491.5 L94.8,491.9 L94,491.7 L93.2,492.6 L92.4,492.6 L91.6,490.5 L90.8,490.6 L90,493.2 L89.2,491.7 L88.4,493.4 L87.6,492.8 L86.8,493.5 L86,493.8Z" fill="#8a1450"/>
<path d="M319,461 L319.8,452.5 L320.2,262.2 L322.2,262.2 L322.6,452.5 L323.4,461 Z" fill="#6a2a2a"/>
<path d="M86,493.2 L86.8,492.1 L87.6,490 L88.4,492.8 L89.2,490.2 L90,492.5 L90.8,491.1 L91.6,491.2 L92.4,489.5 L93.2,490.6 L94,488.8 L94.8,490.5 L95.6,488.9 L96.4,487.3 L97.2,488.2 L98,486.9 L98.8,489.7 L99.6,487.3 L100.4,489.8 L101.2,487.1 L102,487.6 L102.8,486.4 L103.6,488.4 L104.4,486.2 L105.2,487.6 L106,486.5 L106.8,487.1 L107.6,487.4 L108.4,487.3 L109.2,486.2 L110,488.8 L110.8,484.8 L111.6,485.1 L112.4,484.6 L113.2,486 L114,484.8 L114.8,484.5 L115.6,484.6 L116.4,484.7 L117.2,484.7 L118,483.1 L118.8,486.1 L119.6,482.7 L120.4,486.5 L121.2,483.3 L122,486.2 L122.8,484.3 L123.6,482.5 L124.4,484.6 L125.2,484.5 L126,483.2 L126.8,481.5 L127.6,485.1 L128.4,481.5 L129.2,481.8 L130,481.7 L130.8,484.3 L131.6,482.3 L132.4,481.6 L133.2,483.3 L134,481.8 L134.8,483.5 L135.6,480.5 L136.4,482.6 L137.2,481.9 L138,482.8 L138.8,481.7 L139.6,480.2 L140.4,479.4 L141.2,482.8 L142,479.2 L142.8,481.2 L143.6,478.6 L144.4,480.9 L145.2,478.6 L146,479.1 L146.8,480.3 L147.6,482 L148.4,479.5 L149.2,481.2 L150,480.8 L150.8,480.4 L151.6,481.4 L152.4,480.3 L153.2,479.4 L154,477.8 L154.8,477.6 L155.6,478.6 L156.4,479.4 L157.2,480.6 L158,479.6 L158.8,478.9 L159.6,479.9 L160.4,477.2 L161.2,477.6 L162,476.8 L162.8,477.4 L163.6,475.9 L164.4,476.5 L165.2,477.2 L166,475.3 L166.8,477.1 L167.6,475.7 L168.4,475.8 L169.2,476.4 L170,474.1 L170.8,474.9 L171.6,475.6 L172.4,478 L173.2,476.1 L174,476.3 L174.8,477 L175.6,473.4 L176.4,475.4 L177.2,473.2 L178,474.5 L178.8,473.9 L179.6,474.2 L180.4,476.4 L181.2,473.5 L182,476.5 L182.8,473 L183.6,472.3 L184.4,475.3 L185.2,475.2 L186,475.5 L186.8,475 L187.6,475.2 L188.4,472.3 L189.2,473.2 L190,471.7 L190.8,473.3 L191.6,471.3 L192.4,472.6 L193.2,471.6 L194,473.5 L194.8,472.9 L195.6,474.3 L196.4,470.2 L197.2,470.5 L198,470.3 L198.8,472.1 L199.6,471.5 L200.4,472.5 L201.2,470.6 L202,473.2 L202.8,473.3 L203.6,470.6 L204.4,469.9 L205.2,472.6 L206,470.7 L206.8,472.3 L207.6,468.7 L208.4,470.4 L209.2,468.8 L210,472.2 L210.8,470.5 L211.6,471 L212.4,471.6 L213.2,471.3 L214,467.5 L214.8,467.5 L215.6,471.4 L216.4,470.1 L217.2,469.1 L218,467.2 L218.8,468.6 L219.6,470.1 L220.4,466.9 L221.2,466.5 L222,468.9 L222.8,470.3 L223.6,466.5 L224.4,469.3 L225.2,470.2 L226,466.3 L226.8,466.3 L227.6,468.4 L228.4,465.6 L229.2,469.7 L230,466.5 L230.8,465.8 L231.6,469.2 L232.4,467.8 L233.2,467.8 L234,468.4 L234.8,465.4 L235.6,467.7 L236.4,465.3 L237.2,468.2 L238,466.2 L238.8,467.1 L239.6,467 L240.4,466 L241.2,466.9 L242,467.1 L242.8,466.8 L243.6,466.2 L244.4,464.2 L245.2,465.4 L246,467.5 L246.8,466.6 L247.6,464.9 L248.4,466.1 L249.2,467 L250,465.1 L250.8,467.2 L251.6,467.6 L252.4,463.7 L253.2,463.4 L254,466.2 L254.8,465.1 L255.6,463.8 L256.4,466.5 L257.2,465.5 L258,463.8 L258.8,463 L259.6,465.3 L260.4,465.1 L261.2,464.7 L262,463.8 L262.8,466.6 L263.6,462.4 L264.4,463.2 L265.2,464.5 L266,466.3 L266.8,462.5 L267.6,465.2 L268.4,464.9 L269.2,462.1 L270,465.6 L270.8,462 L271.6,465.7 L272.4,462.4 L273.2,465.7 L274,464.4 L274.8,461.9 L275.6,465 L276.4,462 L277.2,464.4 L278,461.5 L278.8,465.4 L279.6,465 L280.4,463.6 L281.2,462.5 L282,463 L282.8,463.8 L283.6,464.8 L284.4,461.1 L285.2,463.1 L286,462.8 L286.8,463.7 L287.6,464.9 L288.4,464.4 L289.2,461.8 L290,463.5 L290.8,461.5 L291.6,463.4 L292.4,460.9 L293.2,463 L294,461.3 L294.8,461.2 L295.6,461.3 L296.4,462 L297.2,463.3 L298,462.9 L298.8,461.8 L299.6,462 L300.4,462.7 L301.2,460.9 L302,462 L302.8,462.6 L303.6,461.1 L304.4,459.4 L305.2,459.4 L306,463.2 L306.8,459.9 L307.6,460.4 L308.4,461.9 L309.2,462.3 L310,462.6 L310.8,462.2 L311.6,460 L312.4,460.4 L313.2,462.6 L314,460.8 L314.8,462.5 L315.6,460.2 L316.4,460.9 L317.2,459.6 L318,461.4 L318.8,462.5 L319.6,462.6 L320.4,460.5 L321.2,459.8 L322,460.4 L322.8,461.5 L323.6,459.3 L324.4,458.3 L325.2,461.7 L326,462.1 L326.8,459.6 L327.6,460.5 L328.4,461.6 L329.2,459.2 L330,461.1 L330.8,460.5 L331.6,457.9 L332.4,459.1 L333.2,461.8 L334,460.2 L334.8,459.9 L335.6,458 L336.4,461.6 L337.2,460.7 L338,460.4 L338.8,460.8 L339.6,459.9 L340.4,457.9 L341.2,458.5 L342,460.3 L342.8,461.2 L343.6,456.9 L344.4,456.9 L345.2,458 L346,460.1 L346,476.7 L345.2,476.2 L344.4,478.7 L343.6,476.1 L342.8,475.1 L342,476.2 L341.2,478.8 L340.4,476.6 L339.6,478.1 L338.8,478.7 L338,477.6 L337.2,479.4 L336.4,478.9 L335.6,478.7 L334.8,478.7 L334,475.7 L333.2,476.4 L332.4,477.6 L331.6,479.5 L330.8,476 L330,478.5 L329.2,475.8 L328.4,479.7 L327.6,478.1 L326.8,477.8 L326,478.8 L325.2,476.3 L324.4,479.7 L323.6,480.2 L322.8,477.7 L322,480.4 L321.2,476.6 L320.4,476.7 L319.6,477.5 L318.8,480.3 L318,477.9 L317.2,477.5 L316.4,478.7 L315.6,479.6 L314.8,476.9 L314,479.1 L313.2,479.8 L312.4,477.1 L311.6,478.7 L310.8,480.6 L310,479.3 L309.2,478.2 L308.4,479.7 L307.6,480.7 L306.8,480.9 L306,480.1 L305.2,481.7 L304.4,478.9 L303.6,479.8 L302.8,479.6 L302,479.7 L301.2,481.3 L300.4,478.2 L299.6,478.5 L298.8,480.6 L298,480.5 L297.2,478 L296.4,481.7 L295.6,478.3 L294.8,481.4 L294,482.3 L293.2,478.4 L292.4,480.3 L291.6,479.2 L290.8,480.1 L290,480.4 L289.2,481.3 L288.4,480.6 L287.6,480.9 L286.8,479.4 L286,479 L285.2,482.8 L284.4,482.6 L283.6,482.2 L282.8,481.7 L282,479.2 L281.2,479.7 L280.4,479.9 L279.6,479.6 L278.8,481.9 L278,481.7 L277.2,479.4 L276.4,483.2 L275.6,480.9 L274.8,481.5 L274,483.1 L273.2,483.4 L272.4,482.8 L271.6,482.2 L270.8,480.4 L270,482.5 L269.2,481.9 L268.4,482.2 L267.6,482.7 L266.8,480.3 L266,483.6 L265.2,482.4 L264.4,483.1 L263.6,482 L262.8,482.6 L262,482.6 L261.2,482.9 L260.4,484.7 L259.6,484.8 L258.8,483.6 L258,482 L257.2,481.4 L256.4,484 L255.6,482.7 L254.8,484.2 L254,482.7 L253.2,485.1 L252.4,484.1 L251.6,482.5 L250.8,485.5 L250,482.7 L249.2,483.8 L248.4,482.7 L247.6,484 L246.8,483.1 L246,484 L245.2,484.6 L244.4,484.3 L243.6,485.3 L242.8,483.6 L242,483.1 L241.2,486.7 L240.4,484.3 L239.6,486.3 L238.8,483.6 L238,486.9 L237.2,485.1 L236.4,483.9 L235.6,483.2 L234.8,483.9 L234,485.3 L233.2,485.8 L232.4,483.2 L231.6,485.7 L230.8,486.8 L230,487.2 L229.2,484.6 L228.4,483.6 L227.6,487.4 L226.8,486.4 L226,484.7 L225.2,486.5 L224.4,486 L223.6,487.5 L222.8,487.9 L222,488.4 L221.2,485.4 L220.4,484.8 L219.6,487.5 L218.8,486 L218,487.3 L217.2,487.2 L216.4,485.1 L215.6,486.6 L214.8,486.9 L214,485.7 L213.2,486.4 L212.4,486.5 L211.6,487.5 L210.8,486.2 L210,486 L209.2,487.2 L208.4,489.6 L207.6,488.3 L206.8,488.4 L206,490.8 L205.2,487.2 L204.4,490 L203.6,488.8 L202.8,487.3 L202,491.2 L201.2,490.9 L200.4,489.7 L199.6,488.1 L198.8,489.6 L198,490 L197.2,488.9 L196.4,491.8 L195.6,490.7 L194.8,492 L194,490.6 L193.2,492.5 L192.4,489 L191.6,490.8 L190.8,492.6 L190,492.8 L189.2,489.3 L188.4,489.8 L187.6,491.4 L186.8,491.5 L186,491.1 L185.2,490.2 L184.4,492.9 L183.6,491.8 L182.8,493.6 L182,490.7 L181.2,492.5 L180.4,491.4 L179.6,491.8 L178.8,494.7 L178,493.6 L177.2,494.2 L176.4,493.6 L175.6,495.4 L174.8,492.8 L174,494.1 L173.2,495.8 L172.4,493.6 L171.6,493.5 L170.8,493.6 L170,492.7 L169.2,495.7 L168.4,495.6 L167.6,494 L166.8,496.9 L166,492.8 L165.2,494.6 L164.4,495.2 L163.6,495.1 L162.8,493.6 L162,493.9 L161.2,495.9 L160.4,493.8 L159.6,495.8 L158.8,496.1 L158,495.2 L157.2,498.6 L156.4,497.5 L155.6,496.3 L154.8,497.7 L154,498.2 L153.2,496.8 L152.4,496 L151.6,499.4 L150.8,498.1 L150,497.8 L149.2,499.9 L148.4,498.1 L147.6,497.6 L146.8,497.4 L146,498.7 L145.2,499.6 L144.4,499 L143.6,496.9 L142.8,499 L142,497.7 L141.2,499.8 L140.4,498.6 L139.6,497.8 L138.8,498.1 L138,498.4 L137.2,501.4 L136.4,500.5 L135.6,499.1 L134.8,498.8 L134,498.6 L133.2,499.3 L132.4,501 L131.6,502.7 L130.8,502.4 L130,502.6 L129.2,500.5 L128.4,502.5 L127.6,503.3 L126.8,503.1 L126,499.9 L125.2,502.4 L124.4,502.8 L123.6,501.4 L122.8,502.6 L122,500.8 L121.2,504 L120.4,502.6 L119.6,501.7 L118.8,503 L118,504.7 L117.2,502.6 L116.4,503.1 L115.6,502.5 L114.8,501.6 L114,503.4 L113.2,501.9 L112.4,502.1 L111.6,505 L110.8,502.8 L110,505.9 L109.2,502.6 L108.4,506.2 L107.6,505.7 L106.8,507 L106,505.5 L105.2,503.6 L104.4,504.6 L103.6,507.7 L102.8,507.6 L102,505.1 L101.2,506.5 L100.4,506.9 L99.6,507.5 L98.8,507.2 L98,507.8 L97.2,505.3 L96.4,505.4 L95.6,507.6 L94.8,507.8 L94,509.1 L93.2,509.5 L92.4,509 L91.6,507.3 L90.8,508.3 L90,508.3 L89.2,506.9 L88.4,506.7 L87.6,508.1 L86.8,507.8 L86,507.3Z" fill="#227a22"/>
<path d="M338.3,469.8 L339.1,461.3 L339.5,260.6 L341.5,260.6 L341.9,461.3 L342.7,469.8 Z" fill="#2d662d"/>
<rect x="168.3" y="466.4" width="2.6" height="1.8" fill="#6e1e8e"/>
<rect x="172.3" y="467.8" width="1.4" height="1.8" fill="#40c8f0"/>
<rect x="92.1" y="466.2" width="1.1" height="2.4" fill="#2a3fd0"/>
<rect x="97.4" y="468.9" width="3" height="1.8" fill="#2a3fd0"/>
<rect x="208.3" y="466.8" width="2.5" height="1.7" fill="#e8d030"/>
<rect x="134.3" y="466.2" width="2.7" height="1.1" fill="#40c8f0"/>
<rect x="149.1" y="467.9" width="2.8" height="1.3" fill="#e8d030"/>
<rect x="123.9" y="465.9" width="1.4" height="2.4" fill="#ffffff"/>
<rect x="220.3" y="465.2" width="2.1" height="1.4" fill="#e8d030"/>
<rect x="175.1" y="466.3" width="1.6" height="1.7" fill="#1a1a80"/>
<rect x="156.1" y="468" width="1.8" height="1.4" fill="#6e1e8e"/>
<rect x="144" y="465.9" width="1.4" height="2" fill="#e8d030"/>
<rect x="123" y="469" width="2.6" height="2.3" fill="#40c8f0"/>
<rect x="141.2" y="467.9" width="2.5" height="1.1" fill="#e8d030"/>
<rect x="91" y="466.7" width="2.5" height="1.8" fill="#40c8f0"/>
<rect x="187.4" y="468.7" width="2.9" height="1.6" fill="#6e1e8e"/>
<rect x="169.8" y="464.5" width="2.7" height="1.6" fill="#e8d030"/>
<rect x="127.5" y="466.8" width="1" height="2.3" fill="#ffffff"/>
<rect x="90.3" y="468.9" width="2.9" height="2.4" fill="#40c8f0"/>
<rect x="211.9" y="469.2" width="1" height="1.2" fill="#6e1e8e"/>
<rect x="231.3" y="468.8" width="1.5" height="1.5" fill="#e8d030"/>
<rect x="97.4" y="467.2" width="2.1" height="1.4" fill="#1a1a80"/>
<rect x="95.7" y="468.8" width="2.2" height="2.2" fill="#40c8f0"/>
<rect x="203.2" y="467.6" width="2.7" height="1.3" fill="#e8d030"/>
<rect x="171.3" y="467.1" width="1.1" height="1.2" fill="#1a1a80"/>
<rect x="223.3" y="468.2" width="1.8" height="1.8" fill="#40c8f0"/>
<rect x="103.8" y="464.3" width="2.3" height="1" fill="#40c8f0"/>
<rect x="91.8" y="467.9" width="1.7" height="1.8" fill="#2a3fd0"/>
<rect x="120.1" y="469.4" width="2.1" height="1.6" fill="#1a1a80"/>
<rect x="147.8" y="464.2" width="2.8" height="1.1" fill="#e8d030"/>
<rect x="224.4" y="468.3" width="2.9" height="1.1" fill="#6e1e8e"/>
<rect x="174.6" y="467" width="2.5" height="1.2" fill="#40c8f0"/>
<rect x="157.4" y="464.1" width="2.7" height="1.3" fill="#e8d030"/>
<rect x="229.5" y="464.6" width="2.3" height="1.8" fill="#e8d030"/>
<rect x="86.5" y="469.3" width="2.7" height="2.5" fill="#2a3fd0"/>
<rect x="106.2" y="469.2" width="1.4" height="1.6" fill="#2a3fd0"/>
<rect x="91.2" y="467.2" width="1.1" height="1.7" fill="#40c8f0"/>
<rect x="130.2" y="466.6" width="2.4" height="2.4" fill="#2a3fd0"/>
<rect x="116.7" y="467.8" width="1.7" height="1.8" fill="#2a3fd0"/>
<rect x="161" y="467.1" width="1.5" height="2.4" fill="#40c8f0"/>
<rect x="229.9" y="469.2" width="2.1" height="1" fill="#1a1a80"/>
<rect x="144.7" y="467.4" width="1.9" height="1.6" fill="#e8d030"/>
<rect x="197.4" y="467.6" width="2.2" height="1.3" fill="#e8d030"/>
<rect x="231.6" y="465.3" width="1.2" height="2.3" fill="#e8d030"/>
<rect x="92.4" y="468.9" width="1.2" height="1.6" fill="#40c8f0"/>
<rect x="191.3" y="469.1" width="1.1" height="1.5" fill="#e8d030"/>
<rect x="186.3" y="464.6" width="1.9" height="1.6" fill="#6e1e8e"/>
<rect x="178.6" y="464.6" width="2.9" height="2.1" fill="#6e1e8e"/>
<rect x="153.8" y="465.9" width="2.2" height="1.8" fill="#e8d030"/>
<rect x="189.9" y="467.8" width="1.4" height="2.1" fill="#e8d030"/>
<rect x="199.5" y="466.6" width="1.4" height="1.5" fill="#6e1e8e"/>
<rect x="149.2" y="468" width="1.8" height="2.2" fill="#6e1e8e"/>
<rect x="146.6" y="464.1" width="1.4" height="1.7" fill="#6e1e8e"/>
<rect x="181.4" y="466" width="2.5" height="1.3" fill="#6e1e8e"/>
<rect x="124.1" y="468.3" width="2.9" height="1.3" fill="#ffffff"/>
<rect x="90.2" y="465.1" width="2.9" height="1.1" fill="#40c8f0"/>
<rect x="98" y="467.7" width="1.6" height="2" fill="#40c8f0"/>
<rect x="103.1" y="469.5" width="1.5" height="1.9" fill="#40c8f0"/>
<rect x="94.8" y="466.9" width="2.2" height="2.2" fill="#1a1a80"/>
<rect x="138.4" y="467" width="1.4" height="2.2" fill="#e8d030"/>
<rect x="151.4" y="466.3" width="2.4" height="2.2" fill="#e8d030"/>
<rect x="90.1" y="466.3" width="3" height="2.1" fill="#ffffff"/>
<rect x="148.7" y="468.9" width="2.5" height="1.4" fill="#e8d030"/>
<rect x="166.4" y="466.1" width="1.2" height="2.1" fill="#6e1e8e"/>
<rect x="98.9" y="466.6" width="1" height="2.1" fill="#40c8f0"/>
<rect x="184.3" y="467.5" width="1.1" height="2.4" fill="#e8d030"/>
<rect x="104.6" y="464.2" width="1.3" height="2.1" fill="#2a3fd0"/>
<rect x="86.2" y="464.7" width="1.6" height="1.8" fill="#ffffff"/>
<rect x="96.6" y="466.4" width="2" height="2.4" fill="#2a3fd0"/>
<rect x="206.2" y="464.9" width="2.8" height="1.8" fill="#e8d030"/>
<rect x="151.2" y="464.9" width="1.2" height="2.1" fill="#1a1a80"/>
<rect x="122.1" y="464.1" width="2.5" height="1.9" fill="#2a3fd0"/>
<rect x="203.2" y="464.5" width="2" height="1.9" fill="#1a1a80"/>
<rect x="109.3" y="467.8" width="2.2" height="2.4" fill="#2a3fd0"/>
<rect x="112.3" y="465.2" width="1.3" height="2.2" fill="#2a3fd0"/>
<rect x="112.9" y="464.5" width="2" height="1.7" fill="#2a3fd0"/>
<rect x="189.1" y="464.4" width="1.3" height="2.4" fill="#e8d030"/>
<rect x="180.3" y="466.7" width="1.5" height="2.3" fill="#40c8f0"/>
<rect x="126.3" y="468.8" width="2.9" height="1.4" fill="#1a1a80"/>
<rect x="189.8" y="469.3" width="2.4" height="2.4" fill="#e8d030"/>
<rect x="142.2" y="468.2" width="2.8" height="1.9" fill="#e8d030"/>
<rect x="91" y="468.5" width="1.6" height="2.1" fill="#40c8f0"/>
<rect x="209.3" y="468.9" width="2.6" height="1.4" fill="#e8d030"/>
<rect x="87.7" y="467" width="1.9" height="2.4" fill="#40c8f0"/>
<rect x="198.8" y="469.5" width="2.1" height="2.1" fill="#1a1a80"/>
<rect x="175.2" y="466.2" width="2" height="1.8" fill="#6e1e8e"/>
<rect x="226.8" y="466.7" width="2.7" height="2" fill="#40c8f0"/>
<rect x="178.3" y="466.8" width="1.4" height="1.8" fill="#e8d030"/>
<rect x="220" y="465.6" width="1.4" height="1.7" fill="#6e1e8e"/>
<rect x="91.4" y="465.4" width="1.1" height="2.2" fill="#40c8f0"/>
<rect x="197.9" y="468.8" width="2" height="1.7" fill="#1a1a80"/>
<rect x="151.7" y="467.7" width="1.7" height="1" fill="#e8d030"/>
<rect x="92.3" y="468" width="1.2" height="2.2" fill="#2a3fd0"/>
<rect x="110.7" y="469.3" width="2.6" height="2.1" fill="#1a1a80"/>
<rect x="182.3" y="468.6" width="2.5" height="1.1" fill="#e8d030"/>
<rect x="92.1" y="465.3" width="1.5" height="2.3" fill="#ffffff"/>
<rect x="199.1" y="466.4" width="1.3" height="1.4" fill="#40c8f0"/>
<rect x="143" y="464.1" width="1.2" height="2" fill="#e8d030"/>
<rect x="112.8" y="468.1" width="2.5" height="2.2" fill="#ffffff"/>
<rect x="119.5" y="467" width="2.2" height="1.6" fill="#2a3fd0"/>
<rect x="231.3" y="465.4" width="2.3" height="2.3" fill="#1a1a80"/>
<rect x="230.6" y="468.9" width="1.4" height="2.5" fill="#e8d030"/>
<rect x="184.4" y="466.8" width="1.6" height="1.6" fill="#e8d030"/>
<rect x="184.8" y="466" width="1.2" height="2.3" fill="#e8d030"/>
<rect x="158.6" y="469.3" width="1.9" height="1.8" fill="#1a1a80"/>
<rect x="161.3" y="468.9" width="1.6" height="2.3" fill="#1a1a80"/>
<rect x="169.4" y="467" width="2.8" height="1.2" fill="#e8d030"/>
<rect x="125.8" y="469" width="3" height="2.5" fill="#40c8f0"/>
<rect x="117.9" y="464.4" width="1.4" height="2.5" fill="#40c8f0"/>
<rect x="163.3" y="468.6" width="2.4" height="1.2" fill="#e8d030"/>
<rect x="95.9" y="465.8" width="1.3" height="2" fill="#2a3fd0"/>
<rect x="211.4" y="468.9" width="1.1" height="2.2" fill="#e8d030"/>
<rect x="206.2" y="467.6" width="1.2" height="1.6" fill="#1a1a80"/>
<rect x="142.5" y="464.7" width="1.4" height="2.4" fill="#1a1a80"/>
<rect x="189.9" y="464.3" width="1.8" height="2.2" fill="#e8d030"/>
<rect x="189.3" y="465.6" width="1.5" height="1.7" fill="#6e1e8e"/>
<rect x="106" y="468.8" width="2.3" height="2.2" fill="#1a1a80"/>
<rect x="101.3" y="465.8" width="2.6" height="1.8" fill="#40c8f0"/>
<rect x="161.6" y="466.7" width="2.1" height="1.4" fill="#e8d030"/>
<rect x="149.5" y="465.2" width="1.8" height="2" fill="#e8d030"/>
<rect x="201.8" y="464.8" width="2" height="1.9" fill="#e8d030"/>
<rect x="159.8" y="466.5" width="2.9" height="1.7" fill="#e8d030"/>
<rect x="86.2" y="464" width="2.4" height="1.2" fill="#2a3fd0"/>
<rect x="111.9" y="465.7" width="1.4" height="2.4" fill="#ffffff"/>
<rect x="141.3" y="465.3" width="1.7" height="2" fill="#1a1a80"/>
<rect x="221.5" y="464.9" width="2.9" height="1.6" fill="#1a1a80"/>
<rect x="212.5" y="468.4" width="2.4" height="1.7" fill="#1a1a80"/>
<rect x="163.3" y="466.4" width="1.9" height="2.1" fill="#1a1a80"/>
<rect x="215.7" y="469" width="1.4" height="1.6" fill="#1a1a80"/>
<rect x="86.2" y="465.1" width="2.8" height="2" fill="#ffffff"/>
<rect x="145.8" y="467.9" width="1.5" height="1.5" fill="#6e1e8e"/>
<rect x="86.2" y="465.5" width="2.5" height="2.3" fill="#40c8f0"/>
<rect x="116.5" y="465.5" width="1.8" height="1" fill="#1a1a80"/>
<rect x="214.4" y="464.1" width="1.1" height="1.4" fill="#40c8f0"/>
<rect x="135.1" y="469.4" width="2.2" height="2" fill="#40c8f0"/>
<rect x="192.9" y="465.3" width="1.4" height="1.4" fill="#40c8f0"/>
<rect x="88.2" y="467" width="1.4" height="2.3" fill="#2a3fd0"/>
<rect x="88.1" y="469.5" width="1.6" height="2.5" fill="#2a3fd0"/>
<rect x="99.8" y="464.8" width="2.2" height="1.5" fill="#2a3fd0"/>
<rect x="206.6" y="464" width="2.6" height="1.5" fill="#1a1a80"/>
<rect x="88.4" y="464.5" width="1.3" height="2.1" fill="#1a1a80"/>
<rect x="230.2" y="466.1" width="2.6" height="2.1" fill="#40c8f0"/>
<rect x="94.9" y="464.7" width="2.2" height="2.1" fill="#2a3fd0"/>
<rect x="99.7" y="467" width="1" height="1.4" fill="#1a1a80"/>
<rect x="142.9" y="466" width="1" height="2.3" fill="#6e1e8e"/>
<rect x="216.3" y="466" width="1.3" height="1.6" fill="#e8d030"/>
<rect x="232.2" y="468.1" width="2.5" height="1.7" fill="#6e1e8e"/>
<rect x="87.8" y="467" width="1.4" height="2.2" fill="#2a3fd0"/>
<rect x="87.5" y="468.7" width="1.4" height="2" fill="#1a1a80"/>
<rect x="107.5" y="466.8" width="2" height="2.1" fill="#2a3fd0"/>
<rect x="194.8" y="466.1" width="2.8" height="2.1" fill="#40c8f0"/>
<rect x="146.6" y="464.5" width="1.1" height="1.3" fill="#e8d030"/>
<rect x="206.7" y="465.7" width="2.5" height="1.9" fill="#40c8f0"/>
<rect x="189.7" y="464.7" width="2.2" height="1.9" fill="#40c8f0"/>
<rect x="103.3" y="464.5" width="2.6" height="2.2" fill="#1a1a80"/>
<rect x="163" y="469.1" width="2.3" height="2.4" fill="#1a1a80"/>
<rect x="92.5" y="468.3" width="2.9" height="1.5" fill="#2a3fd0"/>
<rect x="217.4" y="465.6" width="2.7" height="1.1" fill="#e8d030"/>
<rect x="148.5" y="468.4" width="2.3" height="2.1" fill="#e8d030"/>
<rect x="154.1" y="466.9" width="1.4" height="2.3" fill="#40c8f0"/>
<rect x="98" y="465.9" width="1.4" height="1.6" fill="#40c8f0"/>
<rect x="186.6" y="468.3" width="1.8" height="1" fill="#e8d030"/>
<rect x="96.8" y="468.4" width="3" height="1.9" fill="#2a3fd0"/>
<rect x="120.6" y="465.3" width="1.2" height="2" fill="#40c8f0"/>
<rect x="132.3" y="464.5" width="2.4" height="2.2" fill="#2a3fd0"/>
<rect x="197.2" y="467.3" width="1.1" height="1.8" fill="#e8d030"/>
<rect x="228.4" y="468.3" width="1.5" height="1.8" fill="#e8d030"/>
<rect x="223.1" y="465.4" width="2.2" height="1.4" fill="#e8d030"/>
<rect x="137.1" y="466.9" width="1.1" height="1.6" fill="#6e1e8e"/>
<rect x="203" y="464.7" width="1.8" height="1.8" fill="#e8d030"/>
<rect x="189.8" y="468.5" width="1.8" height="2.1" fill="#e8d030"/>
<rect x="104.5" y="467.4" width="2.1" height="2.4" fill="#2a3fd0"/>
<rect x="118.6" y="469.1" width="1" height="2.3" fill="#2a3fd0"/>
<rect x="92.7" y="469.2" width="2.9" height="1.1" fill="#40c8f0"/>
<rect x="164.1" y="468.6" width="1.1" height="2.2" fill="#e8d030"/>
<rect x="171.4" y="468.3" width="1" height="1" fill="#40c8f0"/>
<rect x="131.1" y="466.9" width="1.4" height="1.9" fill="#2a3fd0"/>
<rect x="229.9" y="465.4" width="2.9" height="2" fill="#1a1a80"/>
<rect x="137.6" y="466.3" width="2.2" height="1.4" fill="#6e1e8e"/>
<rect x="158.2" y="468.3" width="1.7" height="2.3" fill="#6e1e8e"/>
<rect x="157.1" y="468.9" width="2" height="1" fill="#6e1e8e"/>
<rect x="215.7" y="465.1" width="1.8" height="2.4" fill="#e8d030"/>
<rect x="112.3" y="468" width="3" height="2.5" fill="#40c8f0"/>
<rect x="125.3" y="469.3" width="2.1" height="1.8" fill="#40c8f0"/>
<rect x="104.2" y="468.3" width="1.7" height="2.1" fill="#2a3fd0"/>
<rect x="133.6" y="465.9" width="2.1" height="1.2" fill="#2a3fd0"/>
<rect x="140.5" y="464.3" width="2.9" height="2.4" fill="#40c8f0"/>
<rect x="182.9" y="468.7" width="1.1" height="1.9" fill="#1a1a80"/>
<rect x="108" y="465.2" width="1.6" height="2.2" fill="#1a1a80"/>
<rect x="154.2" y="468.4" width="2" height="1.6" fill="#e8d030"/>
<rect x="86.4" y="465.9" width="2" height="1.3" fill="#40c8f0"/>
<rect x="212.8" y="467.8" width="2.6" height="2.2" fill="#40c8f0"/>
<rect x="145.6" y="466.7" width="1.8" height="2.2" fill="#e8d030"/>
<rect x="176.8" y="464.6" width="2.9" height="1.6" fill="#e8d030"/>
<rect x="146.3" y="464.6" width="2" height="1.3" fill="#1a1a80"/>
<rect x="212.4" y="464.2" width="1.5" height="1.6" fill="#40c8f0"/>
<rect x="101.7" y="468.4" width="1.7" height="2.4" fill="#ffffff"/>
<rect x="86.9" y="465.3" width="2.4" height="1.5" fill="#ffffff"/>
<rect x="104" y="467.1" width="2.6" height="1.1" fill="#40c8f0"/>
<rect x="144.3" y="465.2" width="1.9" height="1.6" fill="#e8d030"/>
<rect x="207" y="467.2" width="1.6" height="1.1" fill="#e8d030"/>
<rect x="221.8" y="468.1" width="1" height="1.2" fill="#6e1e8e"/>
<rect x="138.8" y="467.8" width="1.6" height="1.7" fill="#40c8f0"/>
<rect x="225.5" y="468.7" width="2.1" height="1.5" fill="#40c8f0"/>
<rect x="174.9" y="469.2" width="2.8" height="1.2" fill="#e8d030"/>
<rect x="166.2" y="465" width="2.7" height="2" fill="#e8d030"/>
<rect x="228.1" y="467.2" width="2" height="2.5" fill="#e8d030"/>
<rect x="221" y="465.9" width="2.8" height="1.1" fill="#1a1a80"/>
<rect x="221.2" y="469.1" width="2.2" height="2.1" fill="#e8d030"/>
<rect x="162.5" y="465.2" width="2.1" height="1.4" fill="#e8d030"/>
<rect x="142.1" y="464.1" width="1.5" height="1.4" fill="#e8d030"/>
<rect x="212.3" y="467.4" width="1.9" height="1.7" fill="#e8d030"/>
<rect x="136.4" y="466" width="2.8" height="1.4" fill="#e8d030"/>
<rect x="182.3" y="465.2" width="1.3" height="1.4" fill="#e8d030"/>
<rect x="99.2" y="466.5" width="2.4" height="1.5" fill="#2a3fd0"/>
<rect x="191" y="468.6" width="2" height="1.2" fill="#40c8f0"/>
<rect x="231.8" y="467.6" width="1.3" height="1.8" fill="#e8d030"/>
<rect x="93.7" y="468.2" width="2.4" height="2" fill="#40c8f0"/>
<rect x="131.1" y="468.7" width="1.3" height="2.4" fill="#2a3fd0"/>
<rect x="110.7" y="465.5" width="1.5" height="1.8" fill="#40c8f0"/>
<rect x="86.1" y="464.2" width="2.8" height="1.1" fill="#40c8f0"/>
<rect x="172.7" y="466.8" width="1.5" height="2.2" fill="#e8d030"/>
<rect x="195.8" y="464.8" width="1.2" height="2.2" fill="#6e1e8e"/>
<rect x="120" y="469.1" width="2.5" height="1.6" fill="#1a1a80"/>
<rect x="150.7" y="468.3" width="1.6" height="2.1" fill="#e8d030"/>
<rect x="87.8" y="468.7" width="2.2" height="2.1" fill="#40c8f0"/>
<rect x="128.9" y="467.7" width="1.7" height="1.8" fill="#2a3fd0"/>
<rect x="144.4" y="468.6" width="2.5" height="1.6" fill="#1a1a80"/>
<rect x="166.1" y="466.6" width="3" height="1.8" fill="#1a1a80"/>
<rect x="185.7" y="466.3" width="1.5" height="2" fill="#e8d030"/>
<rect x="201.5" y="465.6" width="2.2" height="1.7" fill="#40c8f0"/>
<rect x="87.5" y="465.4" width="2.9" height="1.2" fill="#ffffff"/>
<rect x="107.9" y="464.7" width="1.6" height="1.5" fill="#40c8f0"/>
<rect x="97.7" y="465.5" width="1.2" height="2" fill="#1a1a80"/>
<rect x="144.4" y="468.2" width="1.7" height="2.3" fill="#6e1e8e"/>
<rect x="108.2" y="467.6" width="2" height="1.2" fill="#2a3fd0"/>
<rect x="161.1" y="468" width="1.2" height="1.7" fill="#1a1a80"/>
<rect x="106.1" y="465.8" width="1.5" height="2.4" fill="#ffffff"/>
<rect x="115.1" y="465.6" width="1.1" height="1.9" fill="#40c8f0"/>
<rect x="99.6" y="466.2" width="1.4" height="1.3" fill="#ffffff"/>
</g>
<rect x="86.2" y="245.4" width="262.4" height="224.6" fill="none" stroke="#111" stroke-width="2"/>
<path d="M86.2,277.4 L90.7,277.4" stroke="#111" stroke-width="2"/>
<path d="M86.2,309.4 L90.7,309.4" stroke="#111" stroke-width="2"/>
<path d="M86.2,341.4 L90.7,341.4" stroke="#111" stroke-width="2"/>
<path d="M86.2,373.4 L90.7,373.4" stroke="#111" stroke-width="2"/>
<path d="M86.2,405.4 L90.7,405.4" stroke="#111" stroke-width="2"/>
<path d="M86.2,437.4 L90.7,437.4" stroke="#111" stroke-width="2"/>
<text x="77" y="249.2" font-size="12" text-anchor="end" fill="#161616" stroke="#161616" stroke-width="0.4" >0</text>
<text x="77" y="281.2" font-size="12" text-anchor="end" fill="#161616" stroke="#161616" stroke-width="0.4" >-10</text>
<text x="77" y="313.2" font-size="12" text-anchor="end" fill="#161616" stroke="#161616" stroke-width="0.4" >-20</text>
<text x="77" y="345.2" font-size="12" text-anchor="end" fill="#161616" stroke="#161616" stroke-width="0.4" >-30</text>
<text x="77" y="377.2" font-size="12" text-anchor="end" fill="#161616" stroke="#161616" stroke-width="0.4" >-40</text>
<text x="77" y="409.2" font-size="12" text-anchor="end" fill="#161616" stroke="#161616" stroke-width="0.4" >-50</text>
<text x="77" y="441.2" font-size="12" text-anchor="end" fill="#161616" stroke="#161616" stroke-width="0.4" >-60</text>
<text x="77" y="473.2" font-size="12" text-anchor="end" fill="#161616" stroke="#161616" stroke-width="0.4" >-70</text>
<text x="86" y="488.2" font-size="12" text-anchor="middle" fill="#161616" stroke="#161616" stroke-width="0.4" >1525</text>
<text x="147.3" y="488.2" font-size="12" text-anchor="middle" fill="#161616" stroke="#161616" stroke-width="0.4" >1535</text>
<text x="213.3" y="488.2" font-size="12" text-anchor="middle" fill="#161616" stroke="#161616" stroke-width="0.4" >1545</text>
<text x="273.5" y="488.2" font-size="12" text-anchor="middle" fill="#161616" stroke="#161616" stroke-width="0.4" >1555</text>
<text x="339.8" y="488.2" font-size="12" text-anchor="middle" fill="#161616" stroke="#161616" stroke-width="0.4" >1565</text>
<text x="219.7" y="510.4" font-size="12.5" text-anchor="middle" fill="#161616" stroke="#161616" stroke-width="0.4" >Wavelength/nm</text>
<text x="0" y="0" font-size="12.5" fill="#161616" stroke="#161616" stroke-width="0.4" text-anchor="middle" transform="translate(38.3 373.2) rotate(-90)">Power/dBm</text>
<text x="23.6" y="248.4" font-size="12" text-anchor="start" fill="#161616" stroke="#161616" stroke-width="0.4" >(b)</text>
<g clip-path="url(#cc)">
<path d="M497.6,472.1 L497.6,466.9" stroke="#111" stroke-width="1.8"/>
<path d="M524.1,472.1 L524.1,466.9" stroke="#111" stroke-width="1.8"/>
<path d="M550.6,472.1 L550.6,466.9" stroke="#111" stroke-width="1.8"/>
<path d="M577.2,472.1 L577.2,466.9" stroke="#111" stroke-width="1.8"/>
<path d="M603.8,472.1 L603.8,466.9" stroke="#111" stroke-width="1.8"/>
<path d="M630.3,472.1 L630.3,466.9" stroke="#111" stroke-width="1.8"/>
<path d="M656.9,472.1 L656.9,466.9" stroke="#111" stroke-width="1.8"/>
<path d="M683.4,472.1 L683.4,466.9" stroke="#111" stroke-width="1.8"/>
<path d="M710,472.1 L710,466.9" stroke="#111" stroke-width="1.8"/>
<path d="M469,468.6 L470,468.9 L471,468.1 L472,468.1 L473,468.1 L474,468.4 L475,469.3 L476,468.5 L477,468.1 L478,469.1 L479,468 L480,469.1 L481,468.9 L482,468.7 L483,468.8 L484,468.2 L485,468.8 L486,468.6 L487,468.2 L488,469.1 L489,468 L490,468.3 L491,468.1 L492,469 L493,468.8 L494,468.2 L495,468.9 L496,468.6 L497,468.8 L498,468.3 L499,467.5 L500,468 L501,468.9 L502,468.8 L503,468 L504,468.4 L505,468.1 L506,468.6 L507,468.1 L508,468.5 L509,468 L510,468.4 L511,467.8 L512,467.8 L513,467.8 L514,468.6 L515,467.8 L516,467.8 L517,467.3 L518,468.5 L519,468.4 L520,468.6 L521,468.2 L522,467.7 L523,468.3 L524,468.1 L525,467.8 L526,467.6 L527,467.7 L528,467.9 L529,468.3 L530,468.1 L531,467.8 L532,468 L533,467.9 L534,468 L535,467.8 L536,467.3 L537,468.2 L538,467.8 L539,468.1 L540,468.2 L541,467.9 L542,467.3 L543,467.3 L544,467.4 L545,466.9 L546,467.9 L547,467.6 L548,467.8 L549,467.2 L550,467 L551,467.9 L552,467.3 L553,466.9 L554,467.1 L555,466.9 L556,467.1 L557,467.6 L558,467.6 L559,467.1 L560,467.7 L561,467.3 L562,467.3 L563,466.5 L564,467.3 L565,467.7 L566,467.3 L567,467.3 L568,467.2 L569,466.6 L570,466.8 L571,466.4 L572,466.7 L573,467.6 L574,466.7 L575,467.2 L576,467.2 L577,466.3 L578,467.3 L579,466.3 L580,466.3 L581,467.2 L582,466.8 L583,466.3 L584,467.4 L585,467.2 L586,466.9 L587,467 L588,466.6 L589,466.5 L590,467 L591,466.5 L592,466.6 L593,466.5 L594,466.2 L595,466.4 L596,467 L597,466.6 L598,466.8 L599,466.2 L600,466.3 L601,467.1 L602,467 L603,466.5 L604,466.5 L605,465.9 L606,466.1 L607,466.2 L608,465.8 L609,466.5 L610,466.7 L611,466.1 L612,466.5 L613,467 L614,466.4 L615,465.8 L616,466.7 L617,465.8 L618,466.3 L619,466.2 L620,466.8 L621,466.3 L622,466.2 L623,466.5 L624,465.9 L625,466.2 L626,465.5 L627,466.1 L628,466.6 L629,466.5 L630,466.3 L631,465.5 L632,465.6 L633,465.7 L634,465.5 L635,466.1 L636,466 L637,466 L638,465.4 L639,465.5 L640,465.5 L641,465.5 L642,466.4 L643,465.3 L644,465.3 L645,466.2 L646,466.4 L647,466.1 L648,466.4 L649,465.7 L650,466.3 L651,465.4 L652,465.3 L653,466.3 L654,465.5 L655,466 L656,465.1 L657,465.4 L658,465.5 L659,465.3 L660,466.2 L661,466 L662,465.3 L663,465.5 L664,465.6 L665,466.1 L666,465.8 L667,465.7 L668,465.8 L669,465.1 L670,464.9 L671,464.9 L672,465.3 L673,465.7 L674,465 L675,465.5 L676,465.9 L677,464.7 L678,465.6 L679,465.7 L680,465.5 L681,464.8 L682,465.5 L683,464.8 L684,465 L685,464.9 L686,465.2 L687,464.9 L688,465.5 L689,465.8 L690,465.5 L691,464.5 L692,465.3 L693,465.3 L694,464.9 L695,465.5 L696,465 L697,465.7 L698,465.2 L699,465.6 L700,464.4 L701,464.5 L702,465.2 L703,465.5 L704,465.1 L705,465.3 L706,465.3 L707,465.1 L708,464.7 L709,464.6 L710,464.8 L711,464.8 L712,465.1 L713,465.4 L714,464.9 L715,464.3 L716,464.8 L717,464.3 L718,465.2 L719,464.3 L720,465.2 L721,464.6 L722,464.5 L723,464.1 L724,464.5 L725,464.5 L726,464 L727,464.9 L728,464.3 L729,464.3 L730,464.9 L731,465 L732,464.6 L733,463.9 L734,463.9 L735,463.8 L736,465.1 L736,466.8 L735,466.5 L734,467.4 L733,467.2 L732,466.5 L731,467.6 L730,467.1 L729,467.1 L728,466.6 L727,466.8 L726,467.5 L725,466.6 L724,466.9 L723,467.5 L722,466.6 L721,467.2 L720,466.7 L719,467 L718,467.4 L717,467.2 L716,467.4 L715,467.4 L714,467.5 L713,466.9 L712,467 L711,466.9 L710,467 L709,467 L708,467.6 L707,467 L706,467.9 L705,467.4 L704,468 L703,468 L702,467.1 L701,467.8 L700,467.7 L699,467 L698,467.1 L697,468 L696,467.6 L695,467.9 L694,468 L693,467.5 L692,467.2 L691,467.4 L690,467.7 L689,468.1 L688,467.8 L687,468.2 L686,468.2 L685,467.8 L684,468.3 L683,468 L682,467.4 L681,468.3 L680,468.2 L679,468.2 L678,468 L677,468.1 L676,467.7 L675,468.3 L674,467.9 L673,467.9 L672,468.5 L671,468.4 L670,468.1 L669,467.6 L668,468.3 L667,467.5 L666,468.3 L665,468 L664,468.6 L663,468.7 L662,468.5 L661,468.3 L660,467.7 L659,467.7 L658,468.7 L657,468.7 L656,468.1 L655,468.2 L654,468.8 L653,468.1 L652,467.9 L651,467.8 L650,468.2 L649,468.4 L648,468.8 L647,468.8 L646,468 L645,468.4 L644,468.6 L643,469 L642,468.3 L641,468.7 L640,468.5 L639,468.4 L638,468 L637,468.3 L636,468 L635,468.5 L634,468.2 L633,468.1 L632,468.8 L631,468.5 L630,469.1 L629,468.9 L628,468.8 L627,468.3 L626,469.1 L625,468.8 L624,468.8 L623,469.1 L622,469.1 L621,468.9 L620,468.6 L619,469.4 L618,469.2 L617,469.1 L616,468.5 L615,469 L614,468.8 L613,469.2 L612,468.5 L611,468.7 L610,469.2 L609,469.3 L608,469.2 L607,469 L606,469.4 L605,468.9 L604,469.6 L603,468.8 L602,469 L601,469.5 L600,469 L599,468.9 L598,469.4 L597,468.8 L596,468.8 L595,469.3 L594,469.2 L593,469.6 L592,469 L591,469.2 L590,469.8 L589,469.2 L588,469.7 L587,469.3 L586,469.4 L585,469.5 L584,469.8 L583,469.3 L582,468.9 L581,469.1 L580,469.9 L579,469.7 L578,469.1 L577,469.6 L576,469.1 L575,469.4 L574,469.4 L573,469.2 L572,469.6 L571,469.2 L570,469.3 L569,470 L568,470 L567,469.6 L566,469.1 L565,470.1 L564,469.6 L563,470.3 L562,470.2 L561,470 L560,469.8 L559,469.3 L558,470.1 L557,469.7 L556,469.6 L555,469.9 L554,470 L553,469.4 L552,470.1 L551,470.1 L550,469.7 L549,470 L548,470.4 L547,469.8 L546,470.1 L545,470.6 L544,470.4 L543,469.9 L542,470 L541,470.5 L540,470 L539,470 L538,470.5 L537,470.2 L536,469.6 L535,470.7 L534,470.2 L533,470.1 L532,470 L531,470.3 L530,470.1 L529,469.9 L528,470.8 L527,470.8 L526,470.3 L525,470.4 L524,470.1 L523,470.8 L522,470 L521,470.7 L520,470.7 L519,470.5 L518,470 L517,470.5 L516,470.6 L515,470.3 L514,470.8 L513,471 L512,470.7 L511,470.9 L510,470.8 L509,470.6 L508,470.6 L507,470.7 L506,470.9 L505,470.2 L504,470.9 L503,471 L502,470.2 L501,470.5 L500,470.2 L499,470.8 L498,470.7 L497,471.3 L496,471.2 L495,471.1 L494,471.2 L493,470.8 L492,470.8 L491,471.1 L490,470.8 L489,471.5 L488,470.8 L487,471.3 L486,470.8 L485,471.5 L484,470.5 L483,471.3 L482,470.5 L481,470.6 L480,471.3 L479,470.7 L478,471.5 L477,471.2 L476,471.3 L475,471.7 L474,471.4 L473,471.1 L472,471 L471,470.7 L470,471.7 L469,471Z" fill="#6a2d6a" opacity="0.9"/>
<rect x="616.5" y="468" width="1.2" height="1.2" fill="#9a9a70" opacity="0.7"/>
<rect x="580.3" y="467" width="1.5" height="0.9" fill="#70a0a0" opacity="0.7"/>
<rect x="679.9" y="464.9" width="1.2" height="2" fill="#c070c0" opacity="0.7"/>
<rect x="567.1" y="468.7" width="1.2" height="1.9" fill="#c070c0" opacity="0.7"/>
<rect x="700.3" y="465.6" width="1.6" height="1.5" fill="#70a0a0" opacity="0.7"/>
<rect x="579.8" y="465.9" width="2.1" height="1.6" fill="#b060a0" opacity="0.7"/>
<rect x="512" y="469.7" width="1.1" height="1.7" fill="#d090c0" opacity="0.7"/>
<rect x="683" y="464.9" width="2.4" height="1.2" fill="#b060a0" opacity="0.7"/>
<rect x="492.8" y="470.8" width="2" height="1.6" fill="#9a9a70" opacity="0.7"/>
<rect x="591" y="468.4" width="2.2" height="1.3" fill="#d090c0" opacity="0.7"/>
<rect x="527.2" y="469" width="1.2" height="1" fill="#9a9a70" opacity="0.7"/>
<rect x="473.6" y="471.5" width="2.3" height="1.4" fill="#b060a0" opacity="0.7"/>
<rect x="650.6" y="469.1" width="1.7" height="1.9" fill="#d090c0" opacity="0.7"/>
<rect x="616.3" y="466.6" width="1.2" height="1" fill="#9a9a70" opacity="0.7"/>
<rect x="647.6" y="469.2" width="2.2" height="2" fill="#d090c0" opacity="0.7"/>
<rect x="575.2" y="471" width="2.1" height="1.1" fill="#9a9a70" opacity="0.7"/>
<rect x="725.1" y="465.9" width="1.5" height="1.1" fill="#b060a0" opacity="0.7"/>
<rect x="647" y="467.5" width="1.6" height="1.3" fill="#70a0a0" opacity="0.7"/>
<rect x="724.2" y="465.4" width="1.1" height="1.8" fill="#b060a0" opacity="0.7"/>
<rect x="493" y="466.5" width="2.4" height="1" fill="#c070c0" opacity="0.7"/>
<rect x="576.9" y="466.4" width="1" height="1.3" fill="#b060a0" opacity="0.7"/>
<rect x="729.5" y="463.5" width="1.9" height="1.1" fill="#9a9a70" opacity="0.7"/>
<rect x="593.4" y="465.8" width="1.9" height="1" fill="#9a9a70" opacity="0.7"/>
<rect x="585.5" y="469.2" width="2.1" height="1.1" fill="#b060a0" opacity="0.7"/>
<rect x="518.3" y="467.1" width="2.4" height="0.9" fill="#70a0a0" opacity="0.7"/>
<rect x="593.8" y="465" width="1.2" height="1.6" fill="#d090c0" opacity="0.7"/>
<rect x="487.3" y="471.9" width="1.1" height="1.5" fill="#b060a0" opacity="0.7"/>
<rect x="521.3" y="470.8" width="1.3" height="1.7" fill="#c070c0" opacity="0.7"/>
<rect x="553.2" y="465.9" width="2.5" height="1.6" fill="#9a9a70" opacity="0.7"/>
<rect x="572.8" y="467.1" width="2" height="1.5" fill="#9a9a70" opacity="0.7"/>
<rect x="512.4" y="468.2" width="2" height="1.9" fill="#70a0a0" opacity="0.7"/>
<rect x="603.9" y="467.3" width="2.2" height="1.7" fill="#70a0a0" opacity="0.7"/>
<rect x="653.1" y="465.6" width="1.3" height="1.1" fill="#70a0a0" opacity="0.7"/>
<rect x="658.1" y="469.2" width="1.6" height="0.9" fill="#d090c0" opacity="0.7"/>
<rect x="537.7" y="470" width="1.7" height="1.3" fill="#c070c0" opacity="0.7"/>
<rect x="718.4" y="462.9" width="1.6" height="1.2" fill="#b060a0" opacity="0.7"/>
<rect x="603.4" y="468" width="1.5" height="1.5" fill="#70a0a0" opacity="0.7"/>
<rect x="484.2" y="471.8" width="1.2" height="1.5" fill="#9a9a70" opacity="0.7"/>
<rect x="606.8" y="469.1" width="2.3" height="1.3" fill="#70a0a0" opacity="0.7"/>
<rect x="646.1" y="467.7" width="1.1" height="2" fill="#c070c0" opacity="0.7"/>
<rect x="718.2" y="462.8" width="1" height="1.7" fill="#9a9a70" opacity="0.7"/>
<rect x="496.7" y="469.8" width="1.9" height="1.1" fill="#9a9a70" opacity="0.7"/>
<rect x="487.8" y="468.8" width="2.1" height="0.9" fill="#9a9a70" opacity="0.7"/>
<rect x="488.2" y="468.6" width="2.2" height="1.3" fill="#70a0a0" opacity="0.7"/>
<rect x="663.2" y="464.3" width="2.2" height="1" fill="#c070c0" opacity="0.7"/>
<rect x="525.7" y="469.9" width="1.5" height="0.9" fill="#9a9a70" opacity="0.7"/>
<rect x="561.3" y="468.6" width="1.6" height="1.2" fill="#b060a0" opacity="0.7"/>
<rect x="652.9" y="469.8" width="1.5" height="1.4" fill="#9a9a70" opacity="0.7"/>
<rect x="608" y="468.9" width="2" height="1.6" fill="#70a0a0" opacity="0.7"/>
<rect x="613.2" y="466.1" width="2.4" height="1.2" fill="#d090c0" opacity="0.7"/>
<rect x="619.6" y="466.4" width="1.8" height="1.9" fill="#d090c0" opacity="0.7"/>
<rect x="687.6" y="466.7" width="1.9" height="1" fill="#c070c0" opacity="0.7"/>
<rect x="550.2" y="470.1" width="1.8" height="1.2" fill="#b060a0" opacity="0.7"/>
<rect x="673.9" y="467.6" width="2.3" height="1.6" fill="#70a0a0" opacity="0.7"/>
<rect x="556.7" y="465.5" width="1.6" height="1.6" fill="#b060a0" opacity="0.7"/>
<rect x="602.2" y="464.9" width="2.3" height="1.8" fill="#b060a0" opacity="0.7"/>
<rect x="636.9" y="466.6" width="1.2" height="1.4" fill="#9a9a70" opacity="0.7"/>
<rect x="584.2" y="468.6" width="1.4" height="1.6" fill="#70a0a0" opacity="0.7"/>
<rect x="578.4" y="465.7" width="1" height="1.8" fill="#70a0a0" opacity="0.7"/>
<rect x="636" y="465.9" width="2.4" height="1.7" fill="#70a0a0" opacity="0.7"/>
<rect x="706.5" y="463.3" width="1.5" height="1.4" fill="#b060a0" opacity="0.7"/>
<rect x="606.2" y="469.1" width="1.4" height="1.1" fill="#70a0a0" opacity="0.7"/>
<rect x="494.7" y="468.2" width="1.2" height="1.1" fill="#d090c0" opacity="0.7"/>
<rect x="689.8" y="467.3" width="1.4" height="2" fill="#70a0a0" opacity="0.7"/>
<rect x="684.8" y="468.1" width="1" height="1.5" fill="#70a0a0" opacity="0.7"/>
<rect x="636.9" y="467.7" width="1.6" height="1.8" fill="#b060a0" opacity="0.7"/>
<rect x="489.9" y="468.4" width="2.2" height="1.5" fill="#c070c0" opacity="0.7"/>
<rect x="690.3" y="467.2" width="1" height="1.3" fill="#70a0a0" opacity="0.7"/>
<rect x="504.6" y="469.3" width="2" height="1.4" fill="#9a9a70" opacity="0.7"/>
<rect x="509.3" y="471.2" width="1.3" height="1.9" fill="#c070c0" opacity="0.7"/>
<rect x="608.4" y="468.9" width="1.2" height="2" fill="#9a9a70" opacity="0.7"/>
<rect x="700.4" y="464.2" width="2.1" height="1.3" fill="#c070c0" opacity="0.7"/>
<rect x="654.3" y="466.3" width="2.4" height="1.3" fill="#70a0a0" opacity="0.7"/>
<rect x="498.3" y="471.2" width="2.1" height="1.2" fill="#d090c0" opacity="0.7"/>
<rect x="508.3" y="466.9" width="1.9" height="1.1" fill="#70a0a0" opacity="0.7"/>
<rect x="499.2" y="470.5" width="2" height="1.7" fill="#c070c0" opacity="0.7"/>
<rect x="505.5" y="466.5" width="1.9" height="0.9" fill="#9a9a70" opacity="0.7"/>
<rect x="614.4" y="470.1" width="2.2" height="1.6" fill="#b060a0" opacity="0.7"/>
<rect x="534.3" y="469.1" width="1.7" height="1.7" fill="#b060a0" opacity="0.7"/>
<rect x="498.9" y="468.4" width="2.5" height="0.9" fill="#9a9a70" opacity="0.7"/>
<rect x="730.2" y="465.2" width="1.2" height="1.4" fill="#70a0a0" opacity="0.7"/>
<rect x="680" y="469" width="1.4" height="1.3" fill="#d090c0" opacity="0.7"/>
<rect x="524.9" y="468.4" width="1.9" height="1.2" fill="#9a9a70" opacity="0.7"/>
<rect x="604.1" y="466.8" width="2.5" height="1.2" fill="#9a9a70" opacity="0.7"/>
<rect x="714.2" y="463.8" width="1" height="1.3" fill="#b060a0" opacity="0.7"/>
<rect x="683.7" y="466.5" width="1.4" height="1.9" fill="#b060a0" opacity="0.7"/>
<rect x="576" y="465.5" width="1.6" height="1.7" fill="#9a9a70" opacity="0.7"/>
<rect x="714.2" y="468.8" width="1.7" height="1.9" fill="#c070c0" opacity="0.7"/>
<rect x="629.7" y="465.8" width="1.2" height="1.4" fill="#b060a0" opacity="0.7"/>
<rect x="587.1" y="470.2" width="1.4" height="1.3" fill="#c070c0" opacity="0.7"/>
<rect x="550.9" y="468.7" width="2" height="1.2" fill="#9a9a70" opacity="0.7"/>
<rect x="581.3" y="470" width="1.8" height="1.7" fill="#b060a0" opacity="0.7"/>
<rect x="622.3" y="469.5" width="1.3" height="1.2" fill="#70a0a0" opacity="0.7"/>
<rect x="555.9" y="465.5" width="2.2" height="1.4" fill="#70a0a0" opacity="0.7"/>
<rect x="522.6" y="466.1" width="1.8" height="1.5" fill="#b060a0" opacity="0.7"/>
<rect x="480.8" y="471.8" width="1.8" height="2" fill="#d090c0" opacity="0.7"/>
<rect x="577.7" y="467.1" width="1.7" height="1.7" fill="#70a0a0" opacity="0.7"/>
<rect x="635.6" y="467.2" width="1" height="1.2" fill="#9a9a70" opacity="0.7"/>
<rect x="665.9" y="466.6" width="1.9" height="1.3" fill="#b060a0" opacity="0.7"/>
<rect x="643.3" y="467.1" width="2.1" height="1.6" fill="#d090c0" opacity="0.7"/>
<rect x="671.1" y="464.9" width="2" height="1.8" fill="#9a9a70" opacity="0.7"/>
<rect x="627.2" y="468.9" width="1" height="1.8" fill="#b060a0" opacity="0.7"/>
<rect x="628.2" y="466.1" width="2.2" height="1" fill="#b060a0" opacity="0.7"/>
<rect x="517" y="466.4" width="1.3" height="1.6" fill="#70a0a0" opacity="0.7"/>
<rect x="493.3" y="468.2" width="2.1" height="1.6" fill="#d090c0" opacity="0.7"/>
<rect x="508.5" y="469.8" width="2" height="1.1" fill="#d090c0" opacity="0.7"/>
<rect x="506.6" y="472" width="1.8" height="1.9" fill="#70a0a0" opacity="0.7"/>
<rect x="526.7" y="470.3" width="1.9" height="1.3" fill="#b060a0" opacity="0.7"/>
<rect x="649.5" y="465.2" width="2.4" height="1.9" fill="#70a0a0" opacity="0.7"/>
<rect x="498.2" y="467.7" width="1.8" height="1.4" fill="#b060a0" opacity="0.7"/>
<rect x="534.4" y="468.7" width="1.2" height="1.1" fill="#c070c0" opacity="0.7"/>
<rect x="583.8" y="466.2" width="2.5" height="1.3" fill="#70a0a0" opacity="0.7"/>
<rect x="596.3" y="466" width="1" height="1.8" fill="#9a9a70" opacity="0.7"/>
<rect x="671.9" y="469.3" width="1.6" height="1.3" fill="#d090c0" opacity="0.7"/>
<rect x="507.1" y="468.7" width="2.3" height="1.8" fill="#70a0a0" opacity="0.7"/>
<rect x="711.5" y="464.3" width="1.1" height="1" fill="#b060a0" opacity="0.7"/>
<rect x="610.1" y="465.9" width="1" height="1.4" fill="#70a0a0" opacity="0.7"/>
<rect x="580.2" y="465.8" width="2.2" height="1" fill="#d090c0" opacity="0.7"/>
<rect x="670.9" y="466.2" width="1.7" height="1" fill="#d090c0" opacity="0.7"/>
<rect x="554.5" y="468.2" width="1" height="0.9" fill="#9a9a70" opacity="0.7"/>
<rect x="578.8" y="465.8" width="1.6" height="1.6" fill="#c070c0" opacity="0.7"/>
<rect x="700.5" y="464" width="1.3" height="1" fill="#b060a0" opacity="0.7"/>
<rect x="593.4" y="465.6" width="1.3" height="1.7" fill="#b060a0" opacity="0.7"/>
<rect x="689.4" y="465.8" width="1.7" height="0.9" fill="#9a9a70" opacity="0.7"/>
<rect x="638.5" y="465.4" width="1.4" height="0.9" fill="#d090c0" opacity="0.7"/>
<rect x="698.4" y="464.2" width="2.1" height="1.1" fill="#b060a0" opacity="0.7"/>
<rect x="475.4" y="469.9" width="1.8" height="1.1" fill="#9a9a70" opacity="0.7"/>
<rect x="681.1" y="464.9" width="1.1" height="1.4" fill="#9a9a70" opacity="0.7"/>
<rect x="580.9" y="465.8" width="1.9" height="1.2" fill="#c070c0" opacity="0.7"/>
<rect x="492" y="470.4" width="1.6" height="1.4" fill="#70a0a0" opacity="0.7"/>
<rect x="712" y="465" width="1.9" height="1.1" fill="#70a0a0" opacity="0.7"/>
<rect x="722" y="463" width="2" height="0.9" fill="#c070c0" opacity="0.7"/>
<rect x="730.3" y="464.9" width="2.3" height="1.7" fill="#70a0a0" opacity="0.7"/>
<rect x="626.6" y="468" width="2.3" height="1.5" fill="#70a0a0" opacity="0.7"/>
<rect x="500.5" y="471.5" width="2.4" height="1.5" fill="#9a9a70" opacity="0.7"/>
<rect x="615.2" y="467.1" width="1.2" height="1.4" fill="#70a0a0" opacity="0.7"/>
<rect x="706" y="466.1" width="2.4" height="1.2" fill="#c070c0" opacity="0.7"/>
<rect x="619.4" y="468.1" width="1.6" height="1.8" fill="#b060a0" opacity="0.7"/>
<rect x="476.7" y="471" width="1.3" height="1.8" fill="#b060a0" opacity="0.7"/>
<rect x="556.4" y="467.3" width="1.8" height="2" fill="#70a0a0" opacity="0.7"/>
<path d="M585.8,470.3 L586.5,470.3 L587.2,470.3 L587.9,470.3 L588.6,470.3 L589.4,470.3 L590.1,470.3 L590.8,470.3 L591.5,470.3 L592.2,470.3 L592.9,470.3 L593.6,470.2 L594.3,470.2 L595,470.2 L595.7,470.2 L596.4,470.2 L597.1,470.2 L597.8,470.2 L598.5,470.2 L599.2,470.2 L599.9,470.2 L600.6,470.2 L601.3,470.2 L602,470.2 L602.7,470.2 L603.4,470.2 L604.1,470.1 L604.8,470.1 L605.5,470.1 L606.2,470.1 L606.9,470.1 L607.6,470.1 L608.3,470.1 L609,470.1 L609.6,470 L610.3,470 L611,470 L611.7,470 L612.4,470 L613.1,470 L613.8,469.9 L614.5,469.8 L615.2,469.7 L615.9,469.5 L616.6,469.4 L617.3,469.2 L618,469 L618.6,468.7 L619.2,468.5 L619.9,468.2 L620.5,467.9 L621,467.5 L621.6,467.1 L622.2,466.6 L622.7,466.1 L623.2,465.7 L623.7,465.2 L624.2,464.7 L624.6,464.1 L625.1,463.6 L625.5,463.1 L626,462.5 L626.4,461.9 L626.8,461.4 L627.2,460.8 L627.6,460.3 L628,459.7 L628.4,459.1 L628.8,458.5 L629.2,457.9 L629.5,457.3 L629.9,456.7 L630.3,456.1 L630.7,455.5 L631,454.9 L631.4,454.3 L631.8,453.8 L632.2,453.2 L632.6,452.6 L632.9,452 L633.3,451.4 L633.7,450.8 L634.1,450.2 L634.5,449.7 L634.9,449.1 L635.2,448.5 L635.6,447.9 L636,447.3 L636.4,446.7 L636.7,446.1 L637.1,445.5 L637.5,444.9 L637.9,444.4 L638.3,443.8 L638.6,443.2 L639,442.6 L639.4,442 L639.8,441.4 L640.1,440.8 L640.5,440.2 L640.8,439.6 L641.2,439 L641.5,438.4 L641.9,437.8 L642.2,437.2 L642.5,436.5 L642.9,435.9 L643.2,435.3 L643.5,434.7 L643.8,434 L644.1,433.4 L644.4,432.8 L644.7,432.2 L645,431.5 L645.3,430.9 L645.7,430.3 L646,429.6 L646.3,429 L646.6,428.4 L646.9,427.8 L647.2,427.1 L647.6,426.5 L647.9,425.9 L648.2,425.2 L648.4,424.6 L648.7,424 L649,423.3 L649.2,422.7 L649.4,422 L649.7,421.3 L649.9,420.7 L650.1,420 L650.3,419.3 L650.5,418.7 L650.6,418 L650.8,417.3 L651,416.6 L651.2,415.9 L651.3,415.3 L651.5,414.6 L651.7,413.9 L651.8,413.2 L652,412.5 L652.1,411.9 L652.3,411.2 L652.4,410.5 L652.6,409.8 L652.7,409.1 L652.8,408.4 L652.9,407.7 L653,407 L653.2,406.3 L653.3,405.7 L653.4,405 L653.4,404.3 L653.5,403.6 L653.6,402.9 L653.7,402.2 L653.8,401.5 L653.9,400.8 L654,400.1 L654.1,399.4 L654.2,398.7 L654.3,398 L654.4,397.3 L654.5,396.6 L654.6,395.9 L654.6,395.2 L654.7,394.6 L654.8,393.9 L654.9,393.2 L655,392.5 L655,391.8 L655.1,391.1 L655.2,390.4 L655.2,389.7 L655.3,389 L655.3,388.3 L655.4,387.6 L655.5,386.9 L655.5,386.2 L655.6,385.5 L655.7,384.8 L655.7,384.1 L655.8,383.4 L655.9,382.7 L656,382 L656,381.3 L656.1,380.6 L656.2,379.9 L656.3,379.2 L656.4,378.5 L656.5,377.8 L656.6,377.2 L656.7,376.5 L656.8,375.8 L656.9,375.1 L657,374.4 L657.1,373.7 L657.2,373 L657.3,372.3 L657.4,371.6 L657.5,370.9 L657.6,370.2 L657.7,369.5 L657.8,368.8 L657.8,368.1 L657.9,367.4 L658,366.7 L658.1,366 L658.1,365.3 L658.2,364.6 L658.2,363.9 L658.3,363.3 L658.4,362.6 L658.4,361.9 L658.5,361.2 L658.6,360.5 L658.7,359.8 L658.9,359.1 L659,358.4 L659.2,357.7 L659.4,357.1 L659.5,356.4 L659.7,355.7 L659.9,355 L660.1,354.4 L660.3,353.7 L660.4,353 L660.6,352.3 L660.8,351.6 L661,351 L661.2,350.3 L661.4,349.6 L661.6,349 L661.8,348.3 L662,347.6 L662.2,346.9 L662.4,346.3 L662.6,345.6 L662.8,344.9 L662.9,344.2 L663.1,343.6 L663.3,342.9 L663.4,342.2 L663.6,341.5 L663.7,340.8 L663.9,340.2 L664,339.5 L664.1,338.8 L664.3,338.1 L664.4,337.4 L664.5,336.7 L664.6,336 L664.8,335.3 L664.9,334.6 L665,334 L665.2,333.3 L665.3,332.6 L665.5,331.9 L665.6,331.2 L665.8,330.5 L666,329.9 L666.1,329.2 L666.3,328.5 L666.5,327.8 L666.7,327.1 L666.8,326.5 L667,325.8 L667.2,325.1 L667.4,324.4 L667.6,323.8 L667.8,323.1 L668,322.4 L668.2,321.7 L668.3,321.1 L668.5,320.4 L668.7,319.7 L668.9,319 L669,318.4 L669.1,317.7 L669.3,317 L669.4,316.3 L669.5,315.6 L669.6,314.9 L669.7,314.2 L669.8,313.5 L669.9,312.8 L670,312.1 L670.1,311.4 L670.2,310.7 L670.2,310 L670.3,309.4 L670.4,308.7 L670.5,308 L670.6,307.3 L670.6,306.6 L670.7,305.9 L670.8,305.2 L670.8,304.5 L670.9,303.8 L671,303.1 L671,302.4 L671.1,301.7 L671.1,301 L671.2,300.3 L671.2,299.6 L671.2,298.9 L671.3,298.2 L671.3,297.5 L671.4,296.8 L671.4,296.1 L671.4,295.4 L671.5,294.7 L671.6,294 L671.6,293.3 L671.7,292.6 L671.8,291.9 L671.8,291.2 L671.9,290.5 L672,289.8 L672.1,289.1 L672.1,288.4 L672.2,287.7 L672.3,287 L672.3,286.3 L672.4,285.6 L672.5,284.9 L672.5,284.2 L672.6,283.5 L672.7,282.9 L672.7,282.2 L672.8,281.5 L672.9,280.8 L673,280.1 L673,279.4 L673.1,278.7 L673.3,278 L673.4,277.3 L673.5,276.6 L673.7,275.9 L673.9,275.3 L674.1,274.6 L674.3,273.9 L674.4,273.2 L674.6,272.6 L674.9,271.9 L675.1,271.2 L675.3,270.6 L675.6,269.9 L675.8,269.4 L676,270.1 L676.3,270.7 L676.5,271.4 L676.7,272 L676.9,272.7 L677.1,273.4 L677.3,274.1 L677.4,274.8 L677.6,275.4 L677.7,276.1 L677.8,276.8 L678,277.5 L678.1,278.2 L678.2,278.9 L678.3,279.6 L678.4,280.3 L678.5,281 L678.6,281.7 L678.7,282.3 L678.8,283 L678.9,283.7 L679,284.4 L679.1,285.1 L679.1,285.8 L679.2,286.5 L679.2,287.2 L679.3,287.9 L679.3,288.6 L679.4,289.3 L679.4,290 L679.4,290.7 L679.5,291.4 L679.5,292.1 L679.5,292.8 L679.5,293.5 L679.6,294.2 L679.6,294.9 L679.6,295.6 L679.7,296.3 L679.7,297 L679.7,297.7 L679.8,298.4 L679.8,299.1 L679.8,299.8 L679.9,300.5 L679.9,301.2 L680,301.9 L680,302.6 L680.1,303.3 L680.1,304 L680.2,304.7 L680.3,305.4 L680.3,306.1 L680.4,306.8 L680.5,307.5 L680.6,308.2 L680.6,308.9 L680.7,309.6 L680.8,310.3 L680.8,311 L680.9,311.7 L680.9,312.4 L681,313.1 L681,313.8 L681.1,314.5 L681.1,315.2 L681.2,315.9 L681.2,316.6 L681.3,317.2 L681.4,317.9 L681.4,318.6 L681.5,319.3 L681.6,320 L681.7,320.7 L681.8,321.4 L681.9,322.1 L682.1,322.8 L682.2,323.5 L682.3,324.2 L682.4,324.9 L682.6,325.5 L682.7,326.2 L682.8,326.9 L683,327.6 L683.1,328.3 L683.3,329 L683.5,329.6 L683.6,330.3 L683.8,331 L684,331.7 L684.2,332.4 L684.3,333 L684.5,333.7 L684.7,334.4 L684.9,335.1 L685,335.8 L685.2,336.4 L685.4,337.1 L685.6,337.8 L685.8,338.5 L686,339.1 L686.1,339.8 L686.3,340.5 L686.5,341.2 L686.7,341.8 L686.8,342.5 L687,343.2 L687.1,343.9 L687.3,344.6 L687.4,345.3 L687.6,345.9 L687.7,346.6 L687.9,347.3 L688,348 L688.2,348.7 L688.3,349.4 L688.4,350.1 L688.6,350.7 L688.8,351.4 L688.9,352.1 L689.1,352.8 L689.3,353.4 L689.5,354.1 L689.7,354.8 L689.9,355.5 L690.1,356.1 L690.4,356.8 L690.6,357.4 L690.8,358.1 L691,358.8 L691.2,359.5 L691.4,360.1 L691.5,360.8 L691.7,361.5 L691.8,362.2 L691.9,362.9 L692,363.6 L692.1,364.3 L692.2,364.9 L692.3,365.6 L692.4,366.3 L692.5,367 L692.6,367.7 L692.7,368.4 L692.8,369.1 L692.9,369.8 L693,370.5 L693.1,371.2 L693.2,371.9 L693.3,372.6 L693.3,373.3 L693.4,374 L693.5,374.7 L693.6,375.4 L693.7,376.1 L693.7,376.8 L693.8,377.5 L693.8,378.2 L693.9,378.8 L693.9,379.5 L694,380.2 L694,380.9 L694.1,381.6 L694.1,382.3 L694.2,383 L694.2,383.7 L694.3,384.4 L694.4,385.1 L694.5,385.8 L694.6,386.5 L694.7,387.2 L694.8,387.9 L694.9,388.6 L694.9,389.3 L695,390 L695.1,390.7 L695.2,391.4 L695.3,392.1 L695.4,392.8 L695.4,393.5 L695.5,394.2 L695.5,394.9 L695.6,395.6 L695.6,396.3 L695.7,397 L695.7,397.7 L695.8,398.4 L695.8,399.1 L695.9,399.7 L695.9,400.4 L696,401.1 L696,401.8 L696.1,402.5 L696.1,403.2 L696.2,403.9 L696.2,404.6 L696.3,405.3 L696.3,406 L696.3,406.7 L696.4,407.4 L696.4,408.1 L696.4,408.8 L696.5,409.5 L696.5,410.2 L696.5,410.9 L696.5,411.6 L696.6,412.3 L696.6,413 L696.6,413.7 L696.7,414.4 L696.7,415.1 L696.8,415.8 L696.9,416.5 L697,417.2 L697.1,417.9 L697.2,418.6 L697.3,419.3 L697.5,420 L697.6,420.7 L697.7,421.3 L697.9,422 L698,422.7 L698.1,423.4 L698.3,424.1 L698.4,424.8 L698.5,425.5 L698.7,426.2 L698.9,426.8 L699,427.5 L699.2,428.2 L699.4,428.9 L699.5,429.5 L699.7,430.2 L699.9,430.9 L700.1,431.6 L700.4,432.2 L700.6,432.9 L700.8,433.6 L701,434.2 L701.3,434.9 L701.5,435.5 L701.8,436.2 L702,436.8 L702.3,437.5 L702.6,438.1 L702.8,438.8 L703.1,439.4 L703.4,440.1 L703.7,440.7 L704,441.3 L704.3,442 L704.7,442.6 L705,443.2 L705.4,443.8 L705.7,444.3 L706.1,444.9 L706.5,445.5 L706.9,446.1 L707.4,446.6 L707.8,447.2 L708.3,447.7 L708.7,448.3 L709.2,448.8 L709.6,449.3 L710.1,449.9 L710.6,450.4 L711,450.9 L711.5,451.4 L712,451.9 L712.5,452.4 L713,452.9 L713.5,453.4 L714,453.9 L714.6,454.3 L715.1,454.8 L715.7,455.3 L716.2,455.7 L716.8,456.1 L717.3,456.5 L717.9,456.9 L718.5,457.3 L719.1,457.6 L719.7,458 L720.3,458.3 L720.9,458.7 L721.5,459 L722.2,459.3 L722.8,459.6 L723.5,459.9 L724.1,460.1 L724.8,460.4 L725.4,460.6 L726.1,460.9 L726.7,461.1 L727.4,461.3 L728.1,461.6 L728.7,461.8 L729.4,462 L730.1,462.2 L730.8,462.3 L731.4,462.5 L732.1,462.6 L732.8,462.7 L733.5,462.7 L734.2,462.8 L734.9,462.9 L735.6,463 L736.3,463 L737,463.1 L737.7,463.2 L738.4,463.2 L739.1,463.3 L739.8,463.3 L740.5,463.4 L741.2,463.4 L741.9,463.5 L742.6,463.5 L743.3,463.5 L744,463.6 L744.7,463.6 L745.4,463.6 L746.1,463.7 L746.8,463.7 L747.5,463.7 L748.2,463.7 L748.9,463.8 L749.6,463.8 L750.3,463.8 L751,463.8 L751.7,463.8 L752.4,463.9 L753.1,463.9 L753.8,463.9 L754.5,463.9 L755.2,463.9 L755.9,464 L756.6,464 L757.3,464 L758,464 L758.7,464 L759.4,464 L760.1,464.1 L760.8,464.1 L761.5,464.1 L762.2,464.1 L762.9,464.1 L763.6,464.1 L764.3,464.2 L765,464.2 L765.7,464.2 L766.4,464.2 L767.1,464.2 L767.8,464.2 L768.5,464.3 L769.2,464.3 L769.9,464.3 L770.6,464.3 L771.3,464.3 L772,464.3 L772.7,464.4 L773.4,464.4 L774.1,464.4 L774.8,464.4 L775.5,464.4 L776.2,464.4 L776.9,464.5 L777.6,464.5 L778.3,464.5 L779,464.5 L779.7,464.5 L780.4,464.5 L781.1,464.5 L781.8,464.6 L782.5,464.6 L783.2,464.6 L783.9,464.6 L784.6,464.6 L785.3,464.6 L786,464.6 L786.7,464.6 L787.4,464.7 L788.1,464.7 L788.8,464.7 L789.5,464.7 L790.2,464.7 L790.9,464.7 L791.6,464.7 L792.3,464.7 L793,464.8 L793.7,464.8 L794.4,464.8 L795.1,464.8 L795.8,464.8 L796.5,464.8 L797.2,464.8 L797.9,464.8 L798.6,464.9 L799.3,464.9 L800,464.9 L800.7,464.9 L801.4,464.9 L802.1,464.9 L802.8,464.9 L803.5,464.9 L804.2,464.9 L804.9,465 L805.6,465 L806.3,465 L807,465 L807.7,465 L808.4,465 L809.1,465 L809.8,465 L810.5,465 L811.2,465 L811.9,465.1 L812.6,465.1 L813.3,465.1 L814,465.1 L814.7,465.1 L815.4,465.1 L816.1,465.1 L816.8,465.1 L817.5,465.1 L818.2,465.1 L818.9,465.2 L819.6,465.2 L820.3,465.2 L821,465.2 L821.7,465.2 L822.4,465.2 L823.1,465.2 L823.8,465.2 L824.5,465.2 L825.2,465.2 L825.9,465.2 L826.6,465.3 L827.3,465.3 L828,465.3 L828.7,465.3 L829.4,465.3 L830.1,465.3 L830.8,465.3 L831.5,465.3 L832.2,465.3 L832.9,465.3 L833.6,465.3 L834.3,465.3 L835,465.4 L835.7,465.4 L836.4,465.4 L837.1,465.4 L837.8,465.4 L838.5,465.4 L839.2,465.4 L839.9,465.4 L840.6,465.4 L841.3,465.4 L842,465.4 L842.7,465.4 L843.4,465.5 L844.1,465.5 L844.8,465.5 L845.5,465.5 L846.2,465.5 L846.9,465.5 L847.6,465.5 L848.3,465.5 L849,465.5 L849.7,465.5 L850.4,465.5 L851.1,465.5 L851.8,465.6 L852.5,465.6 L853.2,465.6 L853.9,465.6 L854.6,465.6 L855.3,465.6 L856,465.6 L856.7,465.6 L857.4,465.6 L858.1,465.6 L858.8,465.6 L859.5,465.6 L860.2,465.6 L860.9,465.7 L861.6,465.7 L862.3,465.7 L863,465.7 L863.7,465.7 L864.4,465.7 L865.1,465.7 L865.8,465.7 L866.5,465.7 L867.2,465.7 L867.9,465.7 L868.6,465.7 L869.3,465.7 L870,465.7 L870.7,465.8 L871.4,465.8 L872.1,465.8 L872.8,465.8 L873.5,465.8 L874.2,465.8 L874.9,465.8 L875.6,465.8 L876.3,465.8 L877,465.8 L877.7,465.8 L878.4,465.8 L879.1,465.8 L879.8,465.8 L880.5,465.8 L881.2,465.8 L881.9,465.9 L882.6,465.9 L883.3,465.9 L884,465.9 L884.7,465.9 L885.4,465.9 L886.1,465.9 L886.8,465.9 L887.5,465.9 L888.2,465.9 L888.9,465.9 L889.6,465.9 L890.3,465.9 L891,465.9 L891.7,465.9 L892.4,465.9 L893.1,465.9 L893.8,466 L894.5,466 L895.2,466 L895.9,466 L896.6,466 L897.3,466 L898,466 L898.7,466 L899.4,466 L900.1,466 L900.8,466 L901.5,466 L902.2,466 L902.9,466 L903.6,466 L904.3,466 L905,466 L905.7,466 L905.8,466" fill="none" stroke="#a4a474" stroke-width="1.8" stroke-dasharray="1.5 5.5" stroke-linecap="butt"/>
<path d="M560,470.3 L560.7,470.3 L561.4,470.3 L562.1,470.3 L562.8,470.3 L563.6,470.3 L564.3,470.3 L565,470.3 L565.7,470.3 L566.4,470.3 L567.1,470.3 L567.8,470.3 L568.5,470.3 L569.2,470.3 L569.9,470.3 L570.6,470.3 L571.3,470.2 L572,470.2 L572.7,470.2 L573.4,470.2 L574.1,470.2 L574.8,470.2 L575.5,470.2 L576.2,470.2 L576.9,470.2 L577.6,470.2 L578.3,470.2 L579,470.2 L579.7,470.1 L580.4,470.1 L581.1,470.1 L581.8,470.1 L582.5,470.1 L583.2,470.1 L583.8,470.1 L584.5,470.1 L585.2,470 L585.9,470 L586.6,470 L587.3,470 L588,469.9 L588.7,469.8 L589.4,469.7 L590.1,469.6 L590.8,469.4 L591.5,469.2 L592.2,469 L592.8,468.8 L593.4,468.5 L594.1,468.3 L594.6,467.9 L595.2,467.5 L595.8,467.1 L596.4,466.6 L596.9,466.1 L597.4,465.7 L597.9,465.2 L598.4,464.7 L598.8,464.1 L599.3,463.6 L599.7,463 L600.2,462.5 L600.6,461.9 L601,461.4 L601.4,460.8 L601.8,460.2 L602.2,459.6 L602.6,459.1 L602.9,458.5 L603.3,457.9 L603.7,457.3 L604.1,456.7 L604.4,456.1 L604.8,455.5 L605.2,454.9 L605.6,454.3 L605.9,453.7 L606.3,453.1 L606.7,452.5 L607.1,452 L607.5,451.4 L607.8,450.8 L608.2,450.2 L608.6,449.6 L609,449 L609.3,448.4 L609.7,447.8 L610.1,447.2 L610.5,446.6 L610.8,446.1 L611.2,445.5 L611.6,444.9 L612,444.3 L612.3,443.7 L612.7,443.1 L613.1,442.5 L613.5,441.9 L613.8,441.3 L614.2,440.7 L614.6,440.1 L614.9,439.5 L615.3,438.9 L615.6,438.3 L616,437.7 L616.3,437.1 L616.6,436.5 L616.9,435.8 L617.3,435.2 L617.6,434.6 L617.9,434 L618.2,433.3 L618.5,432.7 L618.8,432.1 L619.1,431.4 L619.4,430.8 L619.7,430.2 L620,429.6 L620.3,428.9 L620.7,428.3 L621,427.7 L621.3,427 L621.6,426.4 L621.9,425.8 L622.2,425.1 L622.5,424.5 L622.8,423.9 L623,423.2 L623.3,422.6 L623.5,421.9 L623.7,421.3 L624,420.6 L624.2,419.9 L624.4,419.3 L624.5,418.6 L624.7,417.9 L624.9,417.2 L625.1,416.5 L625.3,415.9 L625.4,415.2 L625.6,414.5 L625.8,413.8 L625.9,413.1 L626.1,412.5 L626.2,411.8 L626.4,411.1 L626.5,410.4 L626.7,409.7 L626.8,409 L626.9,408.3 L627,407.7 L627.2,407 L627.3,406.3 L627.4,405.6 L627.5,404.9 L627.6,404.2 L627.7,403.5 L627.8,402.8 L627.8,402.1 L627.9,401.4 L628,400.7 L628.1,400 L628.2,399.3 L628.3,398.6 L628.4,397.9 L628.5,397.3 L628.6,396.6 L628.7,395.9 L628.8,395.2 L628.8,394.5 L628.9,393.8 L629,393.1 L629.1,392.4 L629.2,391.7 L629.2,391 L629.3,390.3 L629.4,389.6 L629.4,388.9 L629.5,388.2 L629.5,387.5 L629.6,386.8 L629.7,386.1 L629.7,385.4 L629.8,384.7 L629.8,384 L629.9,383.3 L630,382.6 L630.1,381.9 L630.2,381.2 L630.2,380.5 L630.3,379.9 L630.4,379.2 L630.5,378.5 L630.6,377.8 L630.7,377.1 L630.8,376.4 L630.9,375.7 L631,375 L631.1,374.3 L631.2,373.6 L631.3,372.9 L631.4,372.2 L631.5,371.5 L631.6,370.8 L631.7,370.1 L631.8,369.4 L631.9,368.8 L631.9,368.1 L632,367.4 L632.1,366.7 L632.2,366 L632.2,365.3 L632.3,364.6 L632.3,363.9 L632.4,363.2 L632.5,362.5 L632.5,361.8 L632.6,361.1 L632.7,360.4 L632.8,359.7 L632.9,359 L633,358.3 L633.2,357.6 L633.3,357 L633.5,356.3 L633.6,355.6 L633.8,354.9 L634,354.2 L634.2,353.6 L634.4,352.9 L634.6,352.2 L634.7,351.5 L634.9,350.9 L635.1,350.2 L635.3,349.5 L635.5,348.8 L635.7,348.2 L635.9,347.5 L636.1,346.8 L636.3,346.1 L636.5,345.5 L636.6,344.8 L636.8,344.1 L637,343.4 L637.2,342.8 L637.4,342.1 L637.5,341.4 L637.7,340.7 L637.8,340 L638,339.4 L638.1,338.7 L638.2,338 L638.4,337.3 L638.5,336.6 L638.6,335.9 L638.7,335.2 L638.8,334.5 L639,333.8 L639.1,333.2 L639.3,332.5 L639.4,331.8 L639.6,331.1 L639.7,330.4 L639.9,329.7 L640,329.1 L640.2,328.4 L640.4,327.7 L640.5,327 L640.7,326.3 L640.9,325.7 L641,325 L641.2,324.3 L641.4,323.6 L641.6,323 L641.8,322.3 L642,321.6 L642.2,320.9 L642.4,320.3 L642.5,319.6 L642.7,318.9 L642.9,318.2 L643.1,317.6 L643.2,316.9 L643.3,316.2 L643.4,315.5 L643.6,314.8 L643.7,314.1 L643.8,313.4 L643.9,312.7 L644,312 L644.1,311.3 L644.2,310.6 L644.3,310 L644.4,309.3 L644.4,308.6 L644.5,307.9 L644.6,307.2 L644.7,306.5 L644.8,305.8 L644.8,305.1 L644.9,304.4 L645,303.7 L645,303 L645.1,302.3 L645.1,301.6 L645.2,300.9 L645.3,300.2 L645.3,299.5 L645.3,298.8 L645.4,298.1 L645.4,297.4 L645.5,296.7 L645.5,296 L645.5,295.3 L645.6,294.6 L645.6,293.9 L645.7,293.2 L645.7,292.5 L645.8,291.8 L645.9,291.1 L645.9,290.4 L646,289.7 L646.1,289 L646.1,288.3 L646.2,287.6 L646.3,286.9 L646.4,286.2 L646.4,285.6 L646.5,284.9 L646.6,284.2 L646.6,283.5 L646.7,282.8 L646.8,282.1 L646.8,281.4 L646.9,280.7 L647,280 L647,279.3 L647.1,278.6 L647.2,277.9 L647.3,277.2 L647.4,276.5 L647.5,275.8 L647.6,275.1 L647.8,274.4 L648,273.8 L648.1,273.1 L648.3,272.4 L648.5,271.7 L648.7,271.1 L648.9,270.4 L649.1,269.7 L649.4,269.1 L649.6,268.4 L649.9,267.8 L650,267.4 L650.2,268.1 L650.5,268.7 L650.7,269.4 L650.9,270.1 L651.1,270.7 L651.3,271.4 L651.4,272.1 L651.6,272.8 L651.7,273.4 L651.9,274.1 L652,274.8 L652.1,275.5 L652.3,276.2 L652.4,276.9 L652.5,277.6 L652.6,278.3 L652.7,279 L652.8,279.7 L652.9,280.4 L653,281 L653.1,281.7 L653.2,282.4 L653.2,283.1 L653.3,283.8 L653.4,284.5 L653.4,285.2 L653.5,285.9 L653.5,286.6 L653.5,287.3 L653.6,288 L653.6,288.7 L653.6,289.4 L653.7,290.1 L653.7,290.8 L653.7,291.5 L653.8,292.2 L653.8,292.9 L653.8,293.6 L653.9,294.3 L653.9,295 L653.9,295.7 L654,296.4 L654,297.1 L654,297.8 L654.1,298.5 L654.1,299.2 L654.1,299.9 L654.2,300.6 L654.2,301.3 L654.3,302 L654.3,302.7 L654.4,303.4 L654.5,304.1 L654.6,304.8 L654.6,305.5 L654.7,306.2 L654.8,306.9 L654.9,307.6 L654.9,308.3 L655,309 L655.1,309.7 L655.1,310.4 L655.2,311.1 L655.2,311.8 L655.3,312.5 L655.3,313.2 L655.4,313.9 L655.4,314.6 L655.5,315.3 L655.5,316 L655.6,316.6 L655.7,317.3 L655.7,318 L655.8,318.7 L655.9,319.4 L656,320.1 L656.2,320.8 L656.3,321.5 L656.4,322.2 L656.5,322.9 L656.7,323.6 L656.8,324.2 L656.9,324.9 L657.1,325.6 L657.2,326.3 L657.4,327 L657.5,327.7 L657.7,328.3 L657.9,329 L658,329.7 L658.2,330.4 L658.4,331.1 L658.5,331.7 L658.7,332.4 L658.9,333.1 L659.1,333.8 L659.2,334.5 L659.4,335.1 L659.6,335.8 L659.8,336.5 L660,337.2 L660.2,337.8 L660.3,338.5 L660.5,339.2 L660.7,339.9 L660.9,340.5 L661,341.2 L661.2,341.9 L661.3,342.6 L661.5,343.3 L661.6,344 L661.8,344.6 L661.9,345.3 L662,346 L662.2,346.7 L662.3,347.4 L662.5,348.1 L662.6,348.8 L662.8,349.4 L662.9,350.1 L663.1,350.8 L663.3,351.5 L663.4,352.2 L663.6,352.8 L663.8,353.5 L664.1,354.2 L664.3,354.8 L664.5,355.5 L664.7,356.2 L665,356.8 L665.2,357.5 L665.4,358.2 L665.5,358.9 L665.7,359.5 L665.8,360.2 L665.9,360.9 L666.1,361.6 L666.2,362.3 L666.3,363 L666.4,363.7 L666.5,364.4 L666.6,365.1 L666.7,365.8 L666.8,366.4 L666.8,367.1 L666.9,367.8 L667,368.5 L667.1,369.2 L667.2,369.9 L667.3,370.6 L667.4,371.3 L667.5,372 L667.6,372.7 L667.7,373.4 L667.8,374.1 L667.8,374.8 L667.9,375.5 L668,376.2 L668,376.9 L668.1,377.6 L668.1,378.3 L668.2,379 L668.2,379.7 L668.3,380.4 L668.3,381.1 L668.4,381.8 L668.4,382.5 L668.5,383.2 L668.5,383.9 L668.6,384.5 L668.7,385.2 L668.8,385.9 L668.9,386.6 L669,387.3 L669.1,388 L669.2,388.7 L669.3,389.4 L669.4,390.1 L669.4,390.8 L669.5,391.5 L669.6,392.2 L669.6,392.9 L669.7,393.6 L669.7,394.3 L669.8,395 L669.8,395.7 L669.9,396.4 L669.9,397.1 L670,397.8 L670,398.5 L670.1,399.2 L670.1,399.9 L670.2,400.6 L670.2,401.3 L670.3,402 L670.3,402.7 L670.4,403.4 L670.4,404.1 L670.5,404.8 L670.5,405.5 L670.5,406.2 L670.6,406.9 L670.6,407.6 L670.6,408.3 L670.7,409 L670.7,409.7 L670.7,410.4 L670.7,411.1 L670.8,411.8 L670.8,412.5 L670.8,413.2 L670.9,413.8 L670.9,414.5 L671,415.2 L671.1,415.9 L671.2,416.6 L671.3,417.3 L671.4,418 L671.5,418.7 L671.6,419.4 L671.8,420.1 L671.9,420.8 L672,421.5 L672.2,422.1 L672.3,422.8 L672.4,423.5 L672.6,424.2 L672.7,424.9 L672.9,425.6 L673,426.3 L673.2,426.9 L673.3,427.6 L673.5,428.3 L673.7,429 L673.9,429.6 L674.1,430.3 L674.3,431 L674.5,431.7 L674.7,432.3 L674.9,433 L675.2,433.7 L675.4,434.3 L675.6,435 L675.9,435.6 L676.1,436.3 L676.4,436.9 L676.6,437.6 L676.9,438.2 L677.2,438.9 L677.5,439.5 L677.8,440.2 L678.1,440.8 L678.4,441.4 L678.7,442 L679,442.6 L679.4,443.2 L679.8,443.8 L680.1,444.4 L680.5,445 L680.9,445.6 L681.4,446.1 L681.8,446.7 L682.2,447.3 L682.7,447.8 L683.1,448.4 L683.6,448.9 L684,449.4 L684.5,449.9 L685,450.4 L685.5,450.9 L685.9,451.5 L686.4,452 L686.9,452.5 L687.4,453 L688,453.5 L688.5,453.9 L689,454.4 L689.5,454.9 L690.1,455.3 L690.6,455.7 L691.2,456.2 L691.7,456.6 L692.3,456.9 L692.9,457.3 L693.5,457.7 L694.1,458 L694.7,458.4 L695.3,458.7 L696,459 L696.6,459.3 L697.3,459.6 L697.9,459.9 L698.5,460.2 L699.2,460.4 L699.8,460.6 L700.5,460.9 L701.2,461.1 L701.8,461.4 L702.5,461.6 L703.2,461.8 L703.9,462 L704.5,462.2 L705.2,462.3 L705.9,462.5 L706.6,462.6 L707.3,462.6 L708,462.7 L708.6,462.8 L709.3,462.9 L710,462.9 L710.7,463 L711.4,463.1 L712.1,463.1 L712.8,463.2 L713.5,463.2 L714.2,463.3 L714.9,463.3 L715.6,463.4 L716.3,463.4 L717,463.5 L717.7,463.5 L718.4,463.5 L719.1,463.6 L719.8,463.6 L720.5,463.6 L721.2,463.7 L721.9,463.7 L722.6,463.7 L723.3,463.7 L724,463.8 L724.7,463.8 L725.4,463.8 L726.1,463.8 L726.8,463.8 L727.5,463.8 L728.2,463.9 L728.9,463.9 L729.6,463.9 L730.3,463.9 L731,463.9 L731.7,464 L732.4,464 L733.1,464 L733.8,464 L734.5,464 L735.2,464 L735.9,464.1 L736.6,464.1 L737.3,464.1 L738,464.1 L738.7,464.1 L739.4,464.1 L740.1,464.2 L740.8,464.2 L741.5,464.2 L742.2,464.2 L742.9,464.2 L743.6,464.2 L744.3,464.3 L745,464.3 L745.7,464.3 L746.4,464.3 L747.1,464.3 L747.8,464.3 L748.5,464.4 L749.2,464.4 L749.9,464.4 L750.6,464.4 L751.3,464.4 L752,464.4 L752.7,464.5 L753.4,464.5 L754.1,464.5 L754.8,464.5 L755.5,464.5 L756.2,464.5 L756.9,464.5 L757.6,464.6 L758.3,464.6 L759,464.6 L759.7,464.6 L760.4,464.6 L761.1,464.6 L761.8,464.6 L762.5,464.6 L763.2,464.7 L763.9,464.7 L764.6,464.7 L765.3,464.7 L766,464.7 L766.7,464.7 L767.4,464.7 L768.1,464.7 L768.8,464.8 L769.5,464.8 L770.2,464.8 L770.9,464.8 L771.6,464.8 L772.3,464.8 L773,464.8 L773.7,464.8 L774.4,464.9 L775.1,464.9 L775.8,464.9 L776.5,464.9 L777.2,464.9 L777.9,464.9 L778.6,464.9 L779.3,464.9 L780,464.9 L780.7,465 L781.4,465 L782.1,465 L782.8,465 L783.5,465 L784.2,465 L784.9,465 L785.6,465 L786.3,465 L787,465 L787.7,465.1 L788.4,465.1 L789.1,465.1 L789.8,465.1 L790.5,465.1 L791.2,465.1 L791.9,465.1 L792.6,465.1 L793.3,465.1 L794,465.1 L794.7,465.2 L795.4,465.2 L796.1,465.2 L796.8,465.2 L797.5,465.2 L798.2,465.2 L798.9,465.2 L799.6,465.2 L800.3,465.2 L801,465.2 L801.7,465.2 L802.4,465.2 L803.1,465.3 L803.8,465.3 L804.5,465.3 L805.2,465.3 L805.9,465.3 L806.6,465.3 L807.3,465.3 L808,465.3 L808.7,465.3 L809.4,465.3 L810.1,465.3 L810.8,465.4 L811.5,465.4 L812.2,465.4 L812.9,465.4 L813.6,465.4 L814.3,465.4 L815,465.4 L815.7,465.4 L816.4,465.4 L817.1,465.4 L817.8,465.4 L818.5,465.4 L819.2,465.5 L819.9,465.5 L820.6,465.5 L821.3,465.5 L822,465.5 L822.7,465.5 L823.4,465.5 L824.1,465.5 L824.8,465.5 L825.5,465.5 L826.2,465.5 L826.9,465.5 L827.6,465.5 L828.3,465.6 L829,465.6 L829.7,465.6 L830.4,465.6 L831.1,465.6 L831.8,465.6 L832.5,465.6 L833.2,465.6 L833.9,465.6 L834.6,465.6 L835.3,465.6 L836,465.6 L836.7,465.6 L837.4,465.7 L838.1,465.7 L838.8,465.7 L839.5,465.7 L840.2,465.7 L840.9,465.7 L841.6,465.7 L842.3,465.7 L843,465.7 L843.7,465.7 L844.4,465.7 L845.1,465.7 L845.8,465.7 L846.5,465.7 L847.2,465.8 L847.9,465.8 L848.6,465.8 L849.3,465.8 L850,465.8 L850.7,465.8 L851.4,465.8 L852.1,465.8 L852.8,465.8 L853.5,465.8 L854.2,465.8 L854.9,465.8 L855.6,465.8 L856.3,465.8 L857,465.8 L857.7,465.8 L858.4,465.9 L859.1,465.9 L859.8,465.9 L860.5,465.9 L861.2,465.9 L861.9,465.9 L862.6,465.9 L863.3,465.9 L864,465.9 L864.7,465.9 L865.4,465.9 L866.1,465.9 L866.8,465.9 L867.5,465.9 L868.2,465.9 L868.9,465.9 L869.6,465.9 L870.3,465.9 L871,466 L871.7,466 L872.4,466 L873.1,466 L873.8,466 L874.5,466 L875.2,466 L875.9,466 L876.6,466 L877.3,466 L878,466 L878.7,466 L879.4,466 L880,466" fill="none" stroke="#c048c0" stroke-width="2.1" stroke-dasharray="10 3 2 3" stroke-linecap="butt"/>
<path d="M532.6,470.3 L533.3,470.3 L534,470.3 L534.7,470.3 L535.4,470.3 L536.2,470.3 L536.9,470.3 L537.6,470.3 L538.3,470.3 L539,470.3 L539.7,470.3 L540.4,470.3 L541.1,470.3 L541.8,470.3 L542.5,470.3 L543.2,470.3 L543.9,470.3 L544.6,470.2 L545.3,470.2 L546,470.2 L546.7,470.2 L547.4,470.2 L548.1,470.2 L548.8,470.2 L549.5,470.2 L550.2,470.2 L550.9,470.2 L551.6,470.2 L552.3,470.2 L553,470.1 L553.7,470.1 L554.4,470.1 L555.1,470.1 L555.8,470.1 L556.4,470.1 L557.1,470.1 L557.8,470 L558.5,470 L559.2,470 L559.9,470 L560.6,469.9 L561.3,469.8 L562,469.7 L562.7,469.6 L563.4,469.4 L564.1,469.2 L564.8,469 L565.4,468.8 L566,468.5 L566.6,468.3 L567.2,467.9 L567.8,467.5 L568.4,467.1 L568.9,466.6 L569.5,466.1 L570,465.7 L570.5,465.2 L571,464.7 L571.4,464.1 L571.9,463.6 L572.3,463 L572.8,462.5 L573.2,461.9 L573.6,461.4 L574,460.8 L574.4,460.2 L574.8,459.6 L575.2,459.1 L575.5,458.5 L575.9,457.9 L576.3,457.3 L576.7,456.7 L577,456.1 L577.4,455.5 L577.8,454.9 L578.1,454.3 L578.5,453.7 L578.9,453.1 L579.3,452.5 L579.7,451.9 L580,451.4 L580.4,450.8 L580.8,450.2 L581.2,449.6 L581.5,449 L581.9,448.4 L582.3,447.8 L582.7,447.2 L583,446.6 L583.4,446 L583.8,445.4 L584.2,444.9 L584.5,444.3 L584.9,443.7 L585.3,443.1 L585.7,442.5 L586,441.9 L586.4,441.3 L586.8,440.7 L587.1,440.1 L587.5,439.5 L587.8,438.9 L588.2,438.3 L588.5,437.7 L588.9,437.1 L589.2,436.4 L589.5,435.8 L589.8,435.2 L590.1,434.6 L590.4,433.9 L590.8,433.3 L591.1,432.7 L591.4,432.1 L591.7,431.4 L592,430.8 L592.3,430.2 L592.6,429.5 L592.9,428.9 L593.2,428.3 L593.5,427.6 L593.8,427 L594.2,426.4 L594.5,425.8 L594.8,425.1 L595.1,424.5 L595.3,423.8 L595.6,423.2 L595.9,422.5 L596.1,421.9 L596.3,421.2 L596.5,420.6 L596.7,419.9 L596.9,419.2 L597.1,418.6 L597.3,417.9 L597.5,417.2 L597.7,416.5 L597.8,415.8 L598,415.2 L598.2,414.5 L598.3,413.8 L598.5,413.1 L598.6,412.4 L598.8,411.8 L599,411.1 L599.1,410.4 L599.2,409.7 L599.4,409 L599.5,408.3 L599.6,407.6 L599.7,406.9 L599.9,406.3 L600,405.6 L600.1,404.9 L600.2,404.2 L600.2,403.5 L600.3,402.8 L600.4,402.1 L600.5,401.4 L600.6,400.7 L600.7,400 L600.8,399.3 L600.9,398.6 L601,397.9 L601.1,397.2 L601.2,396.5 L601.2,395.8 L601.3,395.1 L601.4,394.5 L601.5,393.8 L601.6,393.1 L601.7,392.4 L601.8,391.7 L601.8,391 L601.9,390.3 L602,389.6 L602,388.9 L602.1,388.2 L602.1,387.5 L602.2,386.8 L602.2,386.1 L602.3,385.4 L602.4,384.7 L602.4,384 L602.5,383.3 L602.6,382.6 L602.6,381.9 L602.7,381.2 L602.8,380.5 L602.9,379.8 L603,379.1 L603.1,378.4 L603.2,377.7 L603.3,377.1 L603.4,376.4 L603.4,375.7 L603.5,375 L603.6,374.3 L603.7,373.6 L603.8,372.9 L603.9,372.2 L604,371.5 L604.1,370.8 L604.2,370.1 L604.3,369.4 L604.4,368.7 L604.5,368 L604.6,367.3 L604.7,366.7 L604.7,366 L604.8,365.3 L604.9,364.6 L604.9,363.9 L605,363.2 L605.1,362.5 L605.1,361.8 L605.2,361.1 L605.3,360.4 L605.4,359.7 L605.4,359 L605.6,358.3 L605.7,357.6 L605.8,356.9 L606,356.3 L606.2,355.6 L606.4,354.9 L606.5,354.2 L606.7,353.5 L606.9,352.9 L607.1,352.2 L607.3,351.5 L607.4,350.8 L607.6,350.2 L607.8,349.5 L608,348.8 L608.2,348.1 L608.4,347.5 L608.6,346.8 L608.8,346.1 L609,345.4 L609.2,344.8 L609.4,344.1 L609.5,343.4 L609.7,342.7 L609.9,342.1 L610.1,341.4 L610.2,340.7 L610.4,340 L610.5,339.3 L610.7,338.7 L610.8,338 L610.9,337.3 L611,336.6 L611.1,335.9 L611.3,335.2 L611.4,334.5 L611.5,333.8 L611.7,333.1 L611.8,332.5 L611.9,331.8 L612.1,331.1 L612.2,330.4 L612.4,329.7 L612.6,329 L612.7,328.4 L612.9,327.7 L613.1,327 L613.2,326.3 L613.4,325.6 L613.6,325 L613.7,324.3 L613.9,323.6 L614.1,322.9 L614.3,322.3 L614.5,321.6 L614.7,320.9 L614.9,320.2 L615.1,319.6 L615.2,318.9 L615.4,318.2 L615.6,317.5 L615.7,316.8 L615.9,316.2 L616,315.5 L616.1,314.8 L616.2,314.1 L616.3,313.4 L616.4,312.7 L616.5,312 L616.6,311.3 L616.7,310.6 L616.8,309.9 L616.9,309.2 L617,308.5 L617.1,307.8 L617.2,307.1 L617.2,306.5 L617.3,305.8 L617.4,305.1 L617.5,304.4 L617.5,303.7 L617.6,303 L617.7,302.3 L617.7,301.6 L617.8,300.9 L617.8,300.2 L617.9,299.5 L617.9,298.8 L618,298.1 L618,297.4 L618,296.7 L618.1,296 L618.1,295.3 L618.2,294.6 L618.2,293.9 L618.3,293.2 L618.3,292.5 L618.4,291.8 L618.4,291.1 L618.5,290.4 L618.6,289.7 L618.6,289 L618.7,288.3 L618.8,287.6 L618.9,286.9 L618.9,286.2 L619,285.5 L619.1,284.8 L619.1,284.1 L619.2,283.4 L619.3,282.7 L619.3,282 L619.4,281.3 L619.5,280.6 L619.5,279.9 L619.6,279.2 L619.7,278.6 L619.7,277.9 L619.8,277.2 L619.9,276.5 L620,275.8 L620.2,275.1 L620.3,274.4 L620.5,273.7 L620.6,273 L620.8,272.4 L621,271.7 L621.2,271 L621.4,270.3 L621.6,269.7 L621.8,269 L622,268.4 L622.3,267.7 L622.5,267 L622.6,266.9 L622.8,267.6 L623.1,268.2 L623.3,268.9 L623.5,269.6 L623.7,270.2 L623.9,270.9 L624,271.6 L624.2,272.3 L624.3,272.9 L624.5,273.6 L624.6,274.3 L624.7,275 L624.9,275.7 L625,276.4 L625.1,277.1 L625.2,277.8 L625.3,278.5 L625.4,279.2 L625.5,279.9 L625.6,280.5 L625.7,281.2 L625.8,281.9 L625.8,282.6 L625.9,283.3 L626,284 L626,284.7 L626.1,285.4 L626.1,286.1 L626.1,286.8 L626.2,287.5 L626.2,288.2 L626.2,288.9 L626.3,289.6 L626.3,290.3 L626.3,291 L626.4,291.7 L626.4,292.4 L626.4,293.1 L626.5,293.8 L626.5,294.5 L626.5,295.2 L626.6,295.9 L626.6,296.6 L626.6,297.3 L626.7,298 L626.7,298.7 L626.7,299.4 L626.8,300.1 L626.8,300.8 L626.9,301.5 L626.9,302.2 L627,302.9 L627.1,303.6 L627.2,304.3 L627.2,305 L627.3,305.7 L627.4,306.4 L627.5,307.1 L627.5,307.8 L627.6,308.5 L627.7,309.2 L627.7,309.9 L627.8,310.6 L627.8,311.3 L627.9,312 L627.9,312.7 L627.9,313.4 L628,314.1 L628,314.8 L628.1,315.5 L628.2,316.1 L628.2,316.8 L628.3,317.5 L628.4,318.2 L628.5,318.9 L628.6,319.6 L628.7,320.3 L628.9,321 L629,321.7 L629.1,322.4 L629.2,323.1 L629.4,323.8 L629.5,324.4 L629.6,325.1 L629.8,325.8 L629.9,326.5 L630.1,327.2 L630.3,327.9 L630.4,328.5 L630.6,329.2 L630.8,329.9 L630.9,330.6 L631.1,331.3 L631.3,331.9 L631.5,332.6 L631.6,333.3 L631.8,334 L632,334.6 L632.2,335.3 L632.4,336 L632.5,336.7 L632.7,337.3 L632.9,338 L633.1,338.7 L633.3,339.4 L633.4,340.1 L633.6,340.7 L633.7,341.4 L633.9,342.1 L634,342.8 L634.2,343.5 L634.3,344.2 L634.5,344.8 L634.6,345.5 L634.8,346.2 L634.9,346.9 L635,347.6 L635.2,348.3 L635.3,349 L635.5,349.6 L635.6,350.3 L635.8,351 L636,351.7 L636.2,352.3 L636.4,353 L636.6,353.7 L636.8,354.4 L637,355 L637.3,355.7 L637.5,356.4 L637.7,357 L637.9,357.7 L638.1,358.4 L638.2,359 L638.4,359.7 L638.5,360.4 L638.6,361.1 L638.7,361.8 L638.8,362.5 L638.9,363.2 L639,363.9 L639.1,364.6 L639.2,365.3 L639.3,366 L639.4,366.6 L639.5,367.3 L639.6,368 L639.7,368.7 L639.8,369.4 L639.9,370.1 L640,370.8 L640.1,371.5 L640.2,372.2 L640.2,372.9 L640.3,373.6 L640.4,374.3 L640.5,375 L640.5,375.7 L640.6,376.4 L640.6,377.1 L640.7,377.8 L640.7,378.5 L640.8,379.2 L640.8,379.9 L640.9,380.6 L640.9,381.3 L641,382 L641,382.7 L641.1,383.4 L641.2,384.1 L641.3,384.7 L641.4,385.4 L641.4,386.1 L641.5,386.8 L641.6,387.5 L641.7,388.2 L641.8,388.9 L641.9,389.6 L642,390.3 L642.1,391 L642.1,391.7 L642.2,392.4 L642.3,393.1 L642.3,393.8 L642.4,394.5 L642.4,395.2 L642.5,395.9 L642.5,396.6 L642.6,397.3 L642.6,398 L642.7,398.7 L642.7,399.4 L642.8,400.1 L642.8,400.8 L642.9,401.5 L642.9,402.2 L642.9,402.9 L643,403.6 L643,404.3 L643.1,405 L643.1,405.7 L643.2,406.4 L643.2,407.1 L643.2,407.8 L643.3,408.5 L643.3,409.2 L643.3,409.9 L643.3,410.6 L643.4,411.3 L643.4,412 L643.4,412.7 L643.5,413.4 L643.5,414.1 L643.5,414.7 L643.6,415.4 L643.7,416.1 L643.8,416.8 L643.9,417.5 L644,418.2 L644.2,418.9 L644.3,419.6 L644.4,420.3 L644.6,421 L644.7,421.7 L644.8,422.3 L645,423 L645.1,423.7 L645.2,424.4 L645.4,425.1 L645.5,425.8 L645.7,426.5 L645.9,427.1 L646,427.8 L646.2,428.5 L646.4,429.2 L646.6,429.8 L646.8,430.5 L647,431.2 L647.2,431.9 L647.4,432.5 L647.6,433.2 L647.9,433.8 L648.1,434.5 L648.3,435.2 L648.6,435.8 L648.8,436.5 L649.1,437.1 L649.4,437.8 L649.6,438.4 L649.9,439.1 L650.2,439.7 L650.5,440.4 L650.8,441 L651.1,441.6 L651.4,442.2 L651.8,442.8 L652.1,443.4 L652.5,444 L652.9,444.6 L653.3,445.2 L653.7,445.7 L654.1,446.3 L654.6,446.9 L655,447.4 L655.4,448 L655.9,448.5 L656.4,449 L656.8,449.6 L657.3,450.1 L657.7,450.6 L658.2,451.1 L658.7,451.6 L659.2,452.1 L659.7,452.6 L660.2,453.1 L660.7,453.6 L661.3,454.1 L661.8,454.5 L662.3,455 L662.9,455.4 L663.4,455.9 L664,456.3 L664.5,456.7 L665.1,457 L665.7,457.4 L666.3,457.8 L666.9,458.1 L667.5,458.4 L668.2,458.8 L668.8,459.1 L669.4,459.4 L670.1,459.7 L670.7,460 L671.4,460.2 L672,460.5 L672.7,460.7 L673.3,461 L674,461.2 L674.7,461.4 L675.3,461.7 L676,461.9 L676.7,462 L677.4,462.2 L678.1,462.4 L678.7,462.5 L679.4,462.6 L680.1,462.7 L680.8,462.7 L681.5,462.8 L682.2,462.9 L682.9,463 L683.6,463 L684.3,463.1 L685,463.1 L685.7,463.2 L686.4,463.2 L687.1,463.3 L687.8,463.3 L688.5,463.4 L689.2,463.4 L689.9,463.5 L690.6,463.5 L691.3,463.5 L692,463.6 L692.7,463.6 L693.4,463.6 L694.1,463.7 L694.8,463.7 L695.5,463.7 L696.2,463.7 L696.9,463.7 L697.6,463.8 L698.3,463.8 L699,463.8 L699.7,463.8 L700.4,463.8 L701.1,463.9 L701.8,463.9 L702.5,463.9 L703.2,463.9 L703.9,463.9 L704.6,463.9 L705.3,464 L706,464 L706.7,464 L707.4,464 L708.1,464 L708.8,464.1 L709.5,464.1 L710.2,464.1 L710.9,464.1 L711.6,464.1 L712.3,464.1 L713,464.2 L713.7,464.2 L714.4,464.2 L715.1,464.2 L715.8,464.2 L716.5,464.2 L717.2,464.3 L717.9,464.3 L718.6,464.3 L719.3,464.3 L720,464.3 L720.7,464.3 L721.4,464.4 L722.1,464.4 L722.8,464.4 L723.5,464.4 L724.2,464.4 L724.9,464.4 L725.6,464.5 L726.3,464.5 L727,464.5 L727.7,464.5 L728.4,464.5 L729.1,464.5 L729.8,464.5 L730.5,464.5 L731.2,464.6 L731.9,464.6 L732.6,464.6 L733.3,464.6 L734,464.6 L734.7,464.6 L735.4,464.6 L736.1,464.7 L736.8,464.7 L737.5,464.7 L738.2,464.7 L738.9,464.7 L739.6,464.7 L740.3,464.7 L741,464.7 L741.7,464.8 L742.4,464.8 L743.1,464.8 L743.8,464.8 L744.5,464.8 L745.2,464.8 L745.9,464.8 L746.6,464.8 L747.3,464.8 L748,464.9 L748.7,464.9 L749.4,464.9 L750.1,464.9 L750.8,464.9 L751.5,464.9 L752.2,464.9 L752.9,464.9 L753.6,464.9 L754.3,465 L755,465 L755.7,465 L756.4,465 L757.1,465 L757.8,465 L758.5,465 L759.2,465 L759.9,465 L760.6,465.1 L761.3,465.1 L762,465.1 L762.7,465.1 L763.4,465.1 L764.1,465.1 L764.8,465.1 L765.5,465.1 L766.2,465.1 L766.9,465.1 L767.6,465.1 L768.3,465.2 L769,465.2 L769.7,465.2 L770.4,465.2 L771.1,465.2 L771.8,465.2 L772.5,465.2 L773.2,465.2 L773.9,465.2 L774.6,465.2 L775.3,465.2 L776,465.3 L776.7,465.3 L777.4,465.3 L778.1,465.3 L778.8,465.3 L779.5,465.3 L780.2,465.3 L780.9,465.3 L781.6,465.3 L782.3,465.3 L783,465.3 L783.7,465.3 L784.4,465.4 L785.1,465.4 L785.8,465.4 L786.5,465.4 L787.2,465.4 L787.9,465.4 L788.6,465.4 L789.3,465.4 L790,465.4 L790.7,465.4 L791.4,465.4 L792.1,465.4 L792.8,465.5 L793.5,465.5 L794.2,465.5 L794.9,465.5 L795.6,465.5 L796.3,465.5 L797,465.5 L797.7,465.5 L798.4,465.5 L799.1,465.5 L799.8,465.5 L800.5,465.5 L801.2,465.6 L801.9,465.6 L802.6,465.6 L803.3,465.6 L804,465.6 L804.7,465.6 L805.4,465.6 L806.1,465.6 L806.8,465.6 L807.5,465.6 L808.2,465.6 L808.9,465.6 L809.6,465.6 L810.3,465.6 L811,465.7 L811.7,465.7 L812.4,465.7 L813.1,465.7 L813.8,465.7 L814.5,465.7 L815.2,465.7 L815.9,465.7 L816.6,465.7 L817.3,465.7 L818,465.7 L818.7,465.7 L819.4,465.7 L820.1,465.7 L820.8,465.8 L821.5,465.8 L822.2,465.8 L822.9,465.8 L823.6,465.8 L824.3,465.8 L825,465.8 L825.7,465.8 L826.4,465.8 L827.1,465.8 L827.8,465.8 L828.5,465.8 L829.2,465.8 L829.9,465.8 L830.6,465.8 L831.3,465.9 L832,465.9 L832.7,465.9 L833.4,465.9 L834.1,465.9 L834.8,465.9 L835.5,465.9 L836.2,465.9 L836.9,465.9 L837.6,465.9 L838.3,465.9 L839,465.9 L839.7,465.9 L840.4,465.9 L841.1,465.9 L841.8,465.9 L842.5,465.9 L843.2,465.9 L843.9,466 L844.6,466 L845.3,466 L846,466 L846.7,466 L847.4,466 L848.1,466 L848.8,466 L849.5,466 L850.2,466 L850.9,466 L851.6,466 L852.3,466 L852.6,466" fill="none" stroke="#3f8282" stroke-width="1.9" stroke-dasharray="4 3" stroke-linecap="butt"/>
<path d="M508.9,470.3 L509.6,470.3 L510.3,470.3 L511,470.3 L511.7,470.3 L512.5,470.3 L513.2,470.3 L513.9,470.3 L514.6,470.3 L515.3,470.3 L516,470.3 L516.7,470.3 L517.4,470.3 L518.1,470.3 L518.8,470.3 L519.5,470.3 L520.2,470.3 L520.9,470.3 L521.6,470.2 L522.3,470.2 L523,470.2 L523.7,470.2 L524.4,470.2 L525.1,470.2 L525.8,470.2 L526.5,470.2 L527.2,470.2 L527.9,470.2 L528.6,470.2 L529.3,470.1 L530,470.1 L530.7,470.1 L531.4,470.1 L532.1,470.1 L532.7,470.1 L533.4,470.1 L534.1,470 L534.8,470 L535.5,470 L536.2,470 L536.9,469.9 L537.6,469.8 L538.3,469.7 L539,469.6 L539.7,469.4 L540.4,469.2 L541.1,469 L541.7,468.8 L542.3,468.5 L542.9,468.3 L543.5,467.9 L544.1,467.5 L544.7,467.1 L545.2,466.6 L545.8,466.1 L546.3,465.7 L546.8,465.2 L547.3,464.7 L547.7,464.1 L548.2,463.6 L548.6,463 L549.1,462.5 L549.5,461.9 L549.9,461.4 L550.3,460.8 L550.7,460.2 L551.1,459.6 L551.5,459.1 L551.8,458.5 L552.2,457.9 L552.6,457.3 L553,456.7 L553.3,456.1 L553.7,455.5 L554.1,454.9 L554.4,454.3 L554.8,453.7 L555.2,453.1 L555.6,452.5 L556,451.9 L556.3,451.4 L556.7,450.8 L557.1,450.2 L557.5,449.6 L557.8,449 L558.2,448.4 L558.6,447.8 L559,447.2 L559.3,446.6 L559.7,446 L560.1,445.4 L560.5,444.9 L560.8,444.3 L561.2,443.7 L561.6,443.1 L562,442.5 L562.3,441.9 L562.7,441.3 L563.1,440.7 L563.4,440.1 L563.8,439.5 L564.1,438.9 L564.5,438.3 L564.8,437.7 L565.2,437.1 L565.5,436.4 L565.8,435.8 L566.1,435.2 L566.4,434.6 L566.7,433.9 L567.1,433.3 L567.4,432.7 L567.7,432.1 L568,431.4 L568.3,430.8 L568.6,430.2 L568.9,429.5 L569.2,428.9 L569.5,428.3 L569.8,427.6 L570.1,427 L570.5,426.4 L570.8,425.8 L571.1,425.1 L571.4,424.5 L571.6,423.8 L571.9,423.2 L572.2,422.6 L572.4,421.9 L572.6,421.2 L572.8,420.6 L573,419.9 L573.2,419.2 L573.4,418.6 L573.6,417.9 L573.8,417.2 L574,416.5 L574.1,415.8 L574.3,415.2 L574.5,414.5 L574.6,413.8 L574.8,413.1 L574.9,412.4 L575.1,411.8 L575.3,411.1 L575.4,410.4 L575.5,409.7 L575.7,409 L575.8,408.3 L575.9,407.6 L576,406.9 L576.2,406.3 L576.3,405.6 L576.4,404.9 L576.5,404.2 L576.5,403.5 L576.6,402.8 L576.7,402.1 L576.8,401.4 L576.9,400.7 L577,400 L577.1,399.3 L577.2,398.6 L577.3,397.9 L577.4,397.2 L577.5,396.5 L577.5,395.8 L577.6,395.2 L577.7,394.5 L577.8,393.8 L577.9,393.1 L578,392.4 L578.1,391.7 L578.1,391 L578.2,390.3 L578.3,389.6 L578.3,388.9 L578.4,388.2 L578.4,387.5 L578.5,386.8 L578.5,386.1 L578.6,385.4 L578.7,384.7 L578.7,384 L578.8,383.3 L578.9,382.6 L578.9,381.9 L579,381.2 L579.1,380.5 L579.2,379.8 L579.3,379.1 L579.4,378.4 L579.5,377.8 L579.6,377.1 L579.7,376.4 L579.7,375.7 L579.8,375 L579.9,374.3 L580,373.6 L580.1,372.9 L580.2,372.2 L580.3,371.5 L580.4,370.8 L580.5,370.1 L580.6,369.4 L580.7,368.7 L580.8,368 L580.9,367.3 L581,366.7 L581,366 L581.1,365.3 L581.2,364.6 L581.2,363.9 L581.3,363.2 L581.4,362.5 L581.4,361.8 L581.5,361.1 L581.6,360.4 L581.7,359.7 L581.7,359 L581.9,358.3 L582,357.6 L582.1,356.9 L582.3,356.3 L582.5,355.6 L582.7,354.9 L582.8,354.2 L583,353.5 L583.2,352.9 L583.4,352.2 L583.6,351.5 L583.7,350.8 L583.9,350.2 L584.1,349.5 L584.3,348.8 L584.5,348.1 L584.7,347.5 L584.9,346.8 L585.1,346.1 L585.3,345.4 L585.5,344.8 L585.7,344.1 L585.8,343.4 L586,342.7 L586.2,342.1 L586.4,341.4 L586.5,340.7 L586.7,340 L586.8,339.3 L587,338.7 L587.1,338 L587.2,337.3 L587.3,336.6 L587.4,335.9 L587.6,335.2 L587.7,334.5 L587.8,333.8 L588,333.1 L588.1,332.5 L588.2,331.8 L588.4,331.1 L588.5,330.4 L588.7,329.7 L588.9,329 L589,328.4 L589.2,327.7 L589.4,327 L589.5,326.3 L589.7,325.6 L589.9,325 L590,324.3 L590.2,323.6 L590.4,322.9 L590.6,322.3 L590.8,321.6 L591,320.9 L591.2,320.2 L591.4,319.6 L591.5,318.9 L591.7,318.2 L591.9,317.5 L592,316.8 L592.2,316.2 L592.3,315.5 L592.4,314.8 L592.5,314.1 L592.6,313.4 L592.7,312.7 L592.8,312 L592.9,311.3 L593,310.6 L593.1,309.9 L593.2,309.2 L593.3,308.5 L593.4,307.8 L593.5,307.1 L593.5,306.5 L593.6,305.8 L593.7,305.1 L593.8,304.4 L593.8,303.7 L593.9,303 L594,302.3 L594,301.6 L594.1,300.9 L594.1,300.2 L594.2,299.5 L594.2,298.8 L594.3,298.1 L594.3,297.4 L594.3,296.7 L594.4,296 L594.4,295.3 L594.5,294.6 L594.5,293.9 L594.6,293.2 L594.6,292.5 L594.7,291.8 L594.7,291.1 L594.8,290.4 L594.9,289.7 L594.9,289 L595,288.3 L595.1,287.6 L595.2,286.9 L595.2,286.2 L595.3,285.5 L595.4,284.8 L595.4,284.1 L595.5,283.4 L595.6,282.7 L595.6,282 L595.7,281.3 L595.8,280.6 L595.8,279.9 L595.9,279.2 L596,278.6 L596,277.9 L596.1,277.2 L596.2,276.5 L596.3,275.8 L596.5,275.1 L596.6,274.4 L596.8,273.7 L596.9,273 L597.1,272.4 L597.3,271.7 L597.5,271 L597.7,270.3 L597.9,269.7 L598.1,269 L598.3,268.4 L598.6,267.7 L598.8,267 L598.9,266.9 L599.1,267.6 L599.4,268.2 L599.6,268.9 L599.8,269.6 L600,270.2 L600.2,270.9 L600.3,271.6 L600.5,272.3 L600.6,272.9 L600.8,273.6 L600.9,274.3 L601,275 L601.2,275.7 L601.3,276.4 L601.4,277.1 L601.5,277.8 L601.6,278.5 L601.7,279.2 L601.8,279.9 L601.9,280.5 L602,281.2 L602.1,281.9 L602.1,282.6 L602.2,283.3 L602.3,284 L602.3,284.7 L602.4,285.4 L602.4,286.1 L602.4,286.8 L602.5,287.5 L602.5,288.2 L602.5,288.9 L602.6,289.6 L602.6,290.3 L602.6,291 L602.7,291.7 L602.7,292.4 L602.7,293.1 L602.8,293.8 L602.8,294.5 L602.8,295.2 L602.9,295.9 L602.9,296.6 L602.9,297.3 L603,298 L603,298.7 L603,299.4 L603.1,300.1 L603.1,300.8 L603.2,301.5 L603.2,302.2 L603.3,302.9 L603.4,303.6 L603.5,304.3 L603.5,305 L603.6,305.7 L603.7,306.4 L603.8,307.1 L603.8,307.8 L603.9,308.5 L604,309.2 L604,309.9 L604.1,310.6 L604.1,311.3 L604.2,312 L604.2,312.7 L604.2,313.4 L604.3,314.1 L604.3,314.8 L604.4,315.5 L604.5,316.1 L604.5,316.8 L604.6,317.5 L604.7,318.2 L604.8,318.9 L604.9,319.6 L605,320.3 L605.2,321 L605.3,321.7 L605.4,322.4 L605.5,323.1 L605.7,323.8 L605.8,324.4 L605.9,325.1 L606.1,325.8 L606.2,326.5 L606.4,327.2 L606.6,327.9 L606.7,328.5 L606.9,329.2 L607.1,329.9 L607.2,330.6 L607.4,331.3 L607.6,331.9 L607.8,332.6 L607.9,333.3 L608.1,334 L608.3,334.6 L608.5,335.3 L608.7,336 L608.8,336.7 L609,337.3 L609.2,338 L609.4,338.7 L609.6,339.4 L609.7,340.1 L609.9,340.7 L610,341.4 L610.2,342.1 L610.3,342.8 L610.5,343.5 L610.6,344.2 L610.8,344.8 L610.9,345.5 L611.1,346.2 L611.2,346.9 L611.3,347.6 L611.5,348.3 L611.6,349 L611.8,349.6 L611.9,350.3 L612.1,351 L612.3,351.7 L612.5,352.3 L612.7,353 L612.9,353.7 L613.1,354.4 L613.3,355 L613.6,355.7 L613.8,356.4 L614,357 L614.2,357.7 L614.4,358.4 L614.5,359 L614.7,359.7 L614.8,360.4 L614.9,361.1 L615,361.8 L615.1,362.5 L615.2,363.2 L615.3,363.9 L615.4,364.6 L615.5,365.3 L615.6,366 L615.7,366.6 L615.8,367.3 L615.9,368 L616,368.7 L616.1,369.4 L616.2,370.1 L616.3,370.8 L616.4,371.5 L616.5,372.2 L616.5,372.9 L616.6,373.6 L616.7,374.3 L616.8,375 L616.8,375.7 L616.9,376.4 L616.9,377.1 L617,377.8 L617,378.5 L617.1,379.2 L617.1,379.9 L617.2,380.6 L617.2,381.3 L617.3,382 L617.3,382.7 L617.4,383.4 L617.5,384.1 L617.6,384.7 L617.7,385.4 L617.7,386.1 L617.8,386.8 L617.9,387.5 L618,388.2 L618.1,388.9 L618.2,389.6 L618.3,390.3 L618.4,391 L618.4,391.7 L618.5,392.4 L618.6,393.1 L618.6,393.8 L618.7,394.5 L618.7,395.2 L618.8,395.9 L618.8,396.6 L618.9,397.3 L618.9,398 L619,398.7 L619,399.4 L619.1,400.1 L619.1,400.8 L619.2,401.5 L619.2,402.2 L619.2,402.9 L619.3,403.6 L619.3,404.3 L619.4,405 L619.4,405.7 L619.5,406.4 L619.5,407.1 L619.5,407.8 L619.6,408.5 L619.6,409.2 L619.6,409.9 L619.6,410.6 L619.7,411.3 L619.7,412 L619.7,412.7 L619.8,413.4 L619.8,414.1 L619.8,414.7 L619.9,415.4 L620,416.1 L620.1,416.8 L620.2,417.5 L620.3,418.2 L620.5,418.9 L620.6,419.6 L620.7,420.3 L620.9,421 L621,421.7 L621.1,422.3 L621.3,423 L621.4,423.7 L621.5,424.4 L621.7,425.1 L621.8,425.8 L622,426.5 L622.2,427.1 L622.3,427.8 L622.5,428.5 L622.7,429.2 L622.9,429.8 L623.1,430.5 L623.3,431.2 L623.5,431.9 L623.7,432.5 L623.9,433.2 L624.2,433.8 L624.4,434.5 L624.6,435.2 L624.9,435.8 L625.1,436.5 L625.4,437.1 L625.7,437.8 L625.9,438.4 L626.2,439.1 L626.5,439.7 L626.8,440.4 L627.1,441 L627.4,441.6 L627.7,442.2 L628.1,442.8 L628.4,443.4 L628.8,444 L629.2,444.6 L629.6,445.2 L630,445.7 L630.4,446.3 L630.9,446.9 L631.3,447.4 L631.7,448 L632.2,448.5 L632.7,449 L633.1,449.6 L633.6,450.1 L634,450.6 L634.5,451.1 L635,451.6 L635.5,452.1 L636,452.6 L636.5,453.1 L637,453.6 L637.6,454.1 L638.1,454.5 L638.6,455 L639.2,455.4 L639.7,455.9 L640.3,456.3 L640.8,456.7 L641.4,457 L642,457.4 L642.6,457.8 L643.2,458.1 L643.8,458.4 L644.5,458.8 L645.1,459.1 L645.7,459.4 L646.4,459.7 L647,460 L647.7,460.2 L648.3,460.5 L649,460.7 L649.6,461 L650.3,461.2 L651,461.4 L651.6,461.7 L652.3,461.9 L653,462.1 L653.7,462.2 L654.3,462.4 L655,462.5 L655.7,462.6 L656.4,462.7 L657.1,462.7 L657.8,462.8 L658.5,462.9 L659.2,463 L659.9,463 L660.6,463.1 L661.3,463.1 L662,463.2 L662.7,463.2 L663.4,463.3 L664.1,463.3 L664.8,463.4 L665.5,463.4 L666.2,463.5 L666.9,463.5 L667.6,463.5 L668.3,463.6 L669,463.6 L669.7,463.6 L670.4,463.7 L671.1,463.7 L671.8,463.7 L672.5,463.7 L673.2,463.7 L673.9,463.8 L674.6,463.8 L675.3,463.8 L676,463.8 L676.7,463.8 L677.4,463.9 L678.1,463.9 L678.8,463.9 L679.5,463.9 L680.2,463.9 L680.9,463.9 L681.6,464 L682.3,464 L683,464 L683.7,464 L684.4,464 L685.1,464.1 L685.8,464.1 L686.5,464.1 L687.2,464.1 L687.9,464.1 L688.6,464.1 L689.3,464.2 L690,464.2 L690.7,464.2 L691.4,464.2 L692.1,464.2 L692.8,464.2 L693.5,464.3 L694.2,464.3 L694.9,464.3 L695.6,464.3 L696.3,464.3 L697,464.3 L697.7,464.4 L698.4,464.4 L699.1,464.4 L699.8,464.4 L700.5,464.4 L701.2,464.4 L701.9,464.5 L702.6,464.5 L703.3,464.5 L704,464.5 L704.7,464.5 L705.4,464.5 L706.1,464.5 L706.8,464.6 L707.5,464.6 L708.2,464.6 L708.9,464.6 L709.6,464.6 L710.3,464.6 L711,464.6 L711.7,464.6 L712.4,464.7 L713.1,464.7 L713.8,464.7 L714.5,464.7 L715.2,464.7 L715.9,464.7 L716.6,464.7 L717.3,464.7 L718,464.8 L718.7,464.8 L719.4,464.8 L720.1,464.8 L720.8,464.8 L721.5,464.8 L722.2,464.8 L722.9,464.8 L723.6,464.8 L724.3,464.9 L725,464.9 L725.7,464.9 L726.4,464.9 L727.1,464.9 L727.8,464.9 L728.5,464.9 L729.2,464.9 L729.9,464.9 L730.6,465 L731.3,465 L732,465 L732.7,465 L733.4,465 L734.1,465 L734.8,465 L735.5,465 L736.2,465 L736.9,465.1 L737.6,465.1 L738.3,465.1 L739,465.1 L739.7,465.1 L740.4,465.1 L741.1,465.1 L741.8,465.1 L742.5,465.1 L743.2,465.1 L743.9,465.1 L744.6,465.2 L745.3,465.2 L746,465.2 L746.7,465.2 L747.4,465.2 L748.1,465.2 L748.8,465.2 L749.5,465.2 L750.2,465.2 L750.9,465.2 L751.6,465.2 L752.3,465.3 L753,465.3 L753.7,465.3 L754.4,465.3 L755.1,465.3 L755.8,465.3 L756.5,465.3 L757.2,465.3 L757.9,465.3 L758.6,465.3 L759.3,465.3 L760,465.3 L760.7,465.4 L761.4,465.4 L762.1,465.4 L762.8,465.4 L763.5,465.4 L764.2,465.4 L764.9,465.4 L765.6,465.4 L766.3,465.4 L767,465.4 L767.7,465.4 L768.4,465.4 L769.1,465.5 L769.8,465.5 L770.5,465.5 L771.2,465.5 L771.9,465.5 L772.6,465.5 L773.3,465.5 L774,465.5 L774.7,465.5 L775.4,465.5 L776.1,465.5 L776.8,465.5 L777.5,465.6 L778.2,465.6 L778.9,465.6 L779.6,465.6 L780.3,465.6 L781,465.6 L781.7,465.6 L782.4,465.6 L783.1,465.6 L783.8,465.6 L784.5,465.6 L785.2,465.6 L785.9,465.6 L786.6,465.7 L787.3,465.7 L788,465.7 L788.7,465.7 L789.4,465.7 L790.1,465.7 L790.8,465.7 L791.5,465.7 L792.2,465.7 L792.9,465.7 L793.6,465.7 L794.3,465.7 L795,465.7 L795.7,465.7 L796.4,465.7 L797.1,465.8 L797.8,465.8 L798.5,465.8 L799.2,465.8 L799.9,465.8 L800.6,465.8 L801.3,465.8 L802,465.8 L802.7,465.8 L803.4,465.8 L804.1,465.8 L804.8,465.8 L805.5,465.8 L806.2,465.8 L806.9,465.8 L807.6,465.9 L808.3,465.9 L809,465.9 L809.7,465.9 L810.4,465.9 L811.1,465.9 L811.8,465.9 L812.5,465.9 L813.2,465.9 L813.9,465.9 L814.6,465.9 L815.3,465.9 L816,465.9 L816.7,465.9 L817.4,465.9 L818.1,465.9 L818.8,465.9 L819.5,465.9 L820.2,466 L820.9,466 L821.6,466 L822.3,466 L823,466 L823.7,466 L824.4,466 L825.1,466 L825.8,466 L826.5,466 L827.2,466 L827.9,466 L828.6,466 L828.9,466" fill="none" stroke="#4c4c8c" stroke-width="1.8" stroke-dasharray="1.4 2.1" stroke-linecap="butt"/>
<path d="M483.1,470.3 L483.8,470.3 L484.5,470.3 L485.2,470.3 L485.9,470.3 L486.7,470.3 L487.4,470.3 L488.1,470.3 L488.8,470.3 L489.5,470.3 L490.2,470.3 L490.9,470.3 L491.6,470.3 L492.3,470.3 L493,470.3 L493.7,470.3 L494.4,470.3 L495.1,470.3 L495.8,470.2 L496.5,470.2 L497.2,470.2 L497.9,470.2 L498.6,470.2 L499.3,470.2 L500,470.2 L500.7,470.2 L501.4,470.2 L502.1,470.2 L502.8,470.2 L503.5,470.1 L504.2,470.1 L504.9,470.1 L505.6,470.1 L506.3,470.1 L506.9,470.1 L507.6,470.1 L508.3,470 L509,470 L509.7,470 L510.4,470 L511.1,469.9 L511.8,469.8 L512.5,469.7 L513.2,469.6 L513.9,469.4 L514.6,469.2 L515.3,469 L515.9,468.8 L516.5,468.5 L517.1,468.3 L517.7,467.9 L518.3,467.5 L518.9,467 L519.4,466.6 L520,466.1 L520.5,465.6 L521,465.2 L521.4,464.6 L521.9,464.1 L522.4,463.6 L522.8,463 L523.2,462.5 L523.7,461.9 L524.1,461.4 L524.5,460.8 L524.9,460.2 L525.3,459.6 L525.6,459 L526,458.4 L526.4,457.9 L526.8,457.3 L527.1,456.7 L527.5,456.1 L527.9,455.5 L528.2,454.9 L528.6,454.3 L529,453.7 L529.4,453.1 L529.8,452.5 L530.1,451.9 L530.5,451.3 L530.9,450.7 L531.3,450.2 L531.6,449.6 L532,449 L532.4,448.4 L532.8,447.8 L533.1,447.2 L533.5,446.6 L533.9,446 L534.3,445.4 L534.6,444.8 L535,444.2 L535.4,443.6 L535.8,443 L536.1,442.5 L536.5,441.9 L536.9,441.3 L537.2,440.7 L537.6,440.1 L538,439.5 L538.3,438.9 L538.6,438.3 L539,437.6 L539.3,437 L539.6,436.4 L540,435.8 L540.3,435.2 L540.6,434.5 L540.9,433.9 L541.2,433.3 L541.5,432.6 L541.8,432 L542.1,431.4 L542.4,430.8 L542.7,430.1 L543,429.5 L543.3,428.9 L543.7,428.2 L544,427.6 L544.3,427 L544.6,426.3 L544.9,425.7 L545.2,425.1 L545.5,424.4 L545.8,423.8 L546.1,423.2 L546.3,422.5 L546.5,421.9 L546.8,421.2 L547,420.5 L547.2,419.9 L547.4,419.2 L547.6,418.5 L547.8,417.8 L547.9,417.2 L548.1,416.5 L548.3,415.8 L548.5,415.1 L548.6,414.4 L548.8,413.8 L549,413.1 L549.1,412.4 L549.3,411.7 L549.4,411 L549.6,410.4 L549.7,409.7 L549.8,409 L550,408.3 L550.1,407.6 L550.2,406.9 L550.3,406.2 L550.4,405.5 L550.5,404.8 L550.6,404.1 L550.7,403.5 L550.8,402.8 L550.9,402.1 L551,401.4 L551.1,400.7 L551.2,400 L551.3,399.3 L551.3,398.6 L551.4,397.9 L551.5,397.2 L551.6,396.5 L551.7,395.8 L551.8,395.1 L551.9,394.4 L552,393.7 L552.1,393 L552.1,392.3 L552.2,391.6 L552.3,390.9 L552.4,390.3 L552.4,389.6 L552.5,388.9 L552.6,388.2 L552.6,387.5 L552.7,386.8 L552.7,386.1 L552.8,385.4 L552.8,384.7 L552.9,384 L553,383.3 L553,382.6 L553.1,381.9 L553.2,381.2 L553.3,380.5 L553.4,379.8 L553.5,379.1 L553.5,378.4 L553.6,377.7 L553.7,377 L553.8,376.3 L553.9,375.6 L554,374.9 L554.1,374.2 L554.2,373.6 L554.3,372.9 L554.4,372.2 L554.5,371.5 L554.6,370.8 L554.7,370.1 L554.8,369.4 L554.9,368.7 L555,368 L555.1,367.3 L555.1,366.6 L555.2,365.9 L555.3,365.2 L555.3,364.5 L555.4,363.8 L555.5,363.1 L555.5,362.4 L555.6,361.7 L555.7,361 L555.7,360.3 L555.8,359.6 L555.9,359 L556,358.3 L556.1,357.6 L556.3,356.9 L556.4,356.2 L556.6,355.5 L556.8,354.9 L556.9,354.2 L557.1,353.5 L557.3,352.8 L557.5,352.1 L557.7,351.5 L557.8,350.8 L558,350.1 L558.2,349.4 L558.4,348.8 L558.6,348.1 L558.8,347.4 L559,346.7 L559.2,346.1 L559.4,345.4 L559.6,344.7 L559.7,344 L559.9,343.4 L560.1,342.7 L560.3,342 L560.5,341.3 L560.6,340.7 L560.8,340 L560.9,339.3 L561.1,338.6 L561.2,337.9 L561.3,337.2 L561.5,336.5 L561.6,335.9 L561.7,335.2 L561.8,334.5 L561.9,333.8 L562.1,333.1 L562.2,332.4 L562.3,331.7 L562.5,331 L562.6,330.4 L562.8,329.7 L563,329 L563.1,328.3 L563.3,327.6 L563.4,327 L563.6,326.3 L563.8,325.6 L564,324.9 L564.1,324.2 L564.3,323.6 L564.5,322.9 L564.7,322.2 L564.9,321.5 L565,320.9 L565.2,320.2 L565.4,319.5 L565.6,318.8 L565.8,318.2 L566,317.5 L566.1,316.8 L566.3,316.1 L566.4,315.4 L566.5,314.7 L566.6,314 L566.8,313.4 L566.9,312.7 L567,312 L567.1,311.3 L567.2,310.6 L567.3,309.9 L567.3,309.2 L567.4,308.5 L567.5,307.8 L567.6,307.1 L567.7,306.4 L567.8,305.7 L567.8,305 L567.9,304.3 L568,303.6 L568,302.9 L568.1,302.2 L568.2,301.5 L568.2,300.8 L568.3,300.1 L568.3,299.4 L568.4,298.7 L568.4,298 L568.5,297.3 L568.5,296.7 L568.5,296 L568.6,295.3 L568.6,294.6 L568.7,293.9 L568.7,293.2 L568.8,292.5 L568.8,291.8 L568.9,291.1 L568.9,290.4 L569,289.7 L569.1,289 L569.1,288.3 L569.2,287.6 L569.3,286.9 L569.4,286.2 L569.4,285.5 L569.5,284.8 L569.6,284.1 L569.6,283.4 L569.7,282.7 L569.8,282 L569.8,281.3 L569.9,280.6 L570,279.9 L570,279.2 L570.1,278.5 L570.2,277.8 L570.2,277.1 L570.3,276.4 L570.4,275.7 L570.5,275.1 L570.7,274.4 L570.8,273.7 L571,273 L571.1,272.3 L571.3,271.6 L571.5,271 L571.7,270.3 L571.9,269.6 L572.1,268.9 L572.3,268.3 L572.6,267.6 L572.8,267 L573.1,266.3 L573.1,266.2 L573.3,266.9 L573.6,267.5 L573.8,268.2 L574,268.9 L574.2,269.5 L574.4,270.2 L574.5,270.9 L574.7,271.6 L574.8,272.2 L575,272.9 L575.1,273.6 L575.2,274.3 L575.4,275 L575.5,275.7 L575.6,276.4 L575.7,277.1 L575.8,277.8 L575.9,278.5 L576,279.2 L576.1,279.9 L576.2,280.5 L576.2,281.2 L576.3,281.9 L576.4,282.6 L576.5,283.3 L576.5,284 L576.6,284.7 L576.6,285.4 L576.6,286.1 L576.7,286.8 L576.7,287.5 L576.7,288.2 L576.8,288.9 L576.8,289.6 L576.8,290.3 L576.9,291 L576.9,291.7 L576.9,292.4 L577,293.1 L577,293.8 L577,294.5 L577.1,295.2 L577.1,295.9 L577.1,296.6 L577.2,297.3 L577.2,298 L577.2,298.7 L577.3,299.4 L577.3,300.1 L577.4,300.8 L577.4,301.5 L577.5,302.2 L577.6,302.9 L577.6,303.6 L577.7,304.3 L577.8,305 L577.9,305.7 L578,306.4 L578,307.1 L578.1,307.8 L578.1,308.5 L578.2,309.2 L578.2,309.9 L578.3,310.6 L578.3,311.3 L578.4,312 L578.4,312.7 L578.5,313.4 L578.5,314.1 L578.6,314.8 L578.7,315.5 L578.7,316.1 L578.8,316.8 L578.9,317.5 L579,318.2 L579.1,318.9 L579.2,319.6 L579.3,320.3 L579.4,321 L579.6,321.7 L579.7,322.4 L579.8,323.1 L580,323.7 L580.1,324.4 L580.2,325.1 L580.4,325.8 L580.5,326.5 L580.7,327.2 L580.9,327.8 L581,328.5 L581.2,329.2 L581.4,329.9 L581.6,330.6 L581.7,331.2 L581.9,331.9 L582.1,332.6 L582.2,333.3 L582.4,334 L582.6,334.6 L582.8,335.3 L583,336 L583.2,336.7 L583.3,337.3 L583.5,338 L583.7,338.7 L583.9,339.4 L584,340 L584.2,340.7 L584.3,341.4 L584.5,342.1 L584.6,342.8 L584.8,343.5 L584.9,344.2 L585.1,344.8 L585.2,345.5 L585.3,346.2 L585.5,346.9 L585.6,347.6 L585.8,348.3 L585.9,348.9 L586.1,349.6 L586.2,350.3 L586.4,351 L586.6,351.7 L586.8,352.3 L587,353 L587.2,353.7 L587.5,354.3 L587.7,355 L587.9,355.7 L588.1,356.3 L588.3,357 L588.5,357.7 L588.7,358.4 L588.8,359 L588.9,359.7 L589.1,360.4 L589.2,361.1 L589.3,361.8 L589.4,362.5 L589.5,363.2 L589.6,363.9 L589.7,364.6 L589.8,365.3 L589.9,366 L590,366.7 L590.1,367.3 L590.1,368 L590.2,368.7 L590.3,369.4 L590.4,370.1 L590.5,370.8 L590.6,371.5 L590.7,372.2 L590.8,372.9 L590.9,373.6 L590.9,374.3 L591,375 L591.1,375.7 L591.1,376.4 L591.2,377.1 L591.2,377.8 L591.3,378.5 L591.3,379.2 L591.4,379.9 L591.4,380.6 L591.5,381.3 L591.5,382 L591.6,382.7 L591.6,383.4 L591.7,384.1 L591.8,384.8 L591.9,385.4 L592,386.1 L592.1,386.8 L592.2,387.5 L592.3,388.2 L592.4,388.9 L592.5,389.6 L592.5,390.3 L592.6,391 L592.7,391.7 L592.7,392.4 L592.8,393.1 L592.8,393.8 L592.9,394.5 L592.9,395.2 L593,395.9 L593,396.6 L593.1,397.3 L593.1,398 L593.2,398.7 L593.2,399.4 L593.3,400.1 L593.3,400.8 L593.4,401.5 L593.4,402.2 L593.5,402.9 L593.5,403.6 L593.5,404.3 L593.6,405 L593.6,405.7 L593.7,406.4 L593.7,407.1 L593.7,407.8 L593.8,408.5 L593.8,409.2 L593.8,409.9 L593.8,410.6 L593.9,411.3 L593.9,412 L593.9,412.7 L594,413.4 L594,414.1 L594.1,414.8 L594.1,415.4 L594.2,416.1 L594.3,416.8 L594.5,417.5 L594.6,418.2 L594.7,418.9 L594.8,419.6 L595,420.3 L595.1,421 L595.2,421.7 L595.4,422.3 L595.5,423 L595.6,423.7 L595.8,424.4 L595.9,425.1 L596.1,425.8 L596.2,426.5 L596.4,427.1 L596.6,427.8 L596.7,428.5 L596.9,429.2 L597.1,429.8 L597.3,430.5 L597.5,431.2 L597.7,431.9 L597.9,432.5 L598.2,433.2 L598.4,433.8 L598.6,434.5 L598.9,435.2 L599.1,435.8 L599.4,436.5 L599.6,437.1 L599.9,437.8 L600.2,438.4 L600.5,439.1 L600.7,439.7 L601,440.4 L601.3,441 L601.7,441.6 L602,442.2 L602.3,442.8 L602.7,443.4 L603.1,444 L603.4,444.6 L603.8,445.2 L604.3,445.7 L604.7,446.3 L605.1,446.9 L605.6,447.4 L606,448 L606.5,448.5 L606.9,449 L607.4,449.5 L607.8,450.1 L608.3,450.6 L608.8,451.1 L609.3,451.6 L609.8,452.1 L610.3,452.6 L610.8,453.1 L611.3,453.6 L611.8,454.1 L612.3,454.5 L612.9,455 L613.4,455.4 L614,455.9 L614.5,456.3 L615.1,456.7 L615.7,457 L616.3,457.4 L616.9,457.8 L617.5,458.1 L618.1,458.4 L618.7,458.8 L619.3,459.1 L620,459.4 L620.6,459.7 L621.3,460 L621.9,460.2 L622.6,460.5 L623.2,460.7 L623.9,461 L624.6,461.2 L625.2,461.4 L625.9,461.6 L626.6,461.9 L627.2,462 L627.9,462.2 L628.6,462.4 L629.3,462.5 L630,462.6 L630.7,462.6 L631.3,462.7 L632,462.8 L632.7,462.9 L633.4,462.9 L634.1,463 L634.8,463.1 L635.5,463.1 L636.2,463.2 L636.9,463.2 L637.6,463.3 L638.3,463.3 L639,463.4 L639.7,463.4 L640.4,463.4 L641.1,463.5 L641.8,463.5 L642.5,463.5 L643.2,463.6 L643.9,463.6 L644.6,463.6 L645.3,463.7 L646,463.7 L646.7,463.7 L647.4,463.7 L648.1,463.8 L648.8,463.8 L649.5,463.8 L650.2,463.8 L650.9,463.8 L651.6,463.8 L652.3,463.9 L653,463.9 L653.7,463.9 L654.4,463.9 L655.1,463.9 L655.8,463.9 L656.5,464 L657.2,464 L657.9,464 L658.6,464 L659.3,464 L660,464.1 L660.7,464.1 L661.4,464.1 L662.1,464.1 L662.8,464.1 L663.5,464.1 L664.2,464.2 L664.9,464.2 L665.6,464.2 L666.3,464.2 L667,464.2 L667.7,464.2 L668.4,464.3 L669.1,464.3 L669.8,464.3 L670.5,464.3 L671.2,464.3 L671.9,464.3 L672.6,464.4 L673.3,464.4 L674,464.4 L674.7,464.4 L675.4,464.4 L676.1,464.4 L676.8,464.5 L677.5,464.5 L678.2,464.5 L678.9,464.5 L679.6,464.5 L680.3,464.5 L681,464.5 L681.7,464.5 L682.4,464.6 L683.1,464.6 L683.8,464.6 L684.5,464.6 L685.2,464.6 L685.9,464.6 L686.6,464.6 L687.3,464.7 L688,464.7 L688.7,464.7 L689.4,464.7 L690.1,464.7 L690.8,464.7 L691.5,464.7 L692.2,464.7 L692.9,464.8 L693.6,464.8 L694.3,464.8 L695,464.8 L695.7,464.8 L696.4,464.8 L697.1,464.8 L697.8,464.8 L698.5,464.8 L699.2,464.9 L699.9,464.9 L700.6,464.9 L701.3,464.9 L702,464.9 L702.7,464.9 L703.4,464.9 L704.1,464.9 L704.8,464.9 L705.5,465 L706.2,465 L706.9,465 L707.6,465 L708.3,465 L709,465 L709.7,465 L710.4,465 L711.1,465 L711.8,465 L712.5,465.1 L713.2,465.1 L713.9,465.1 L714.6,465.1 L715.3,465.1 L716,465.1 L716.7,465.1 L717.4,465.1 L718.1,465.1 L718.8,465.1 L719.5,465.2 L720.2,465.2 L720.9,465.2 L721.6,465.2 L722.3,465.2 L723,465.2 L723.7,465.2 L724.4,465.2 L725.1,465.2 L725.8,465.2 L726.5,465.2 L727.2,465.2 L727.9,465.3 L728.6,465.3 L729.3,465.3 L730,465.3 L730.7,465.3 L731.4,465.3 L732.1,465.3 L732.8,465.3 L733.5,465.3 L734.2,465.3 L734.9,465.3 L735.6,465.4 L736.3,465.4 L737,465.4 L737.7,465.4 L738.4,465.4 L739.1,465.4 L739.8,465.4 L740.5,465.4 L741.2,465.4 L741.9,465.4 L742.6,465.4 L743.3,465.4 L744,465.5 L744.7,465.5 L745.4,465.5 L746.1,465.5 L746.8,465.5 L747.5,465.5 L748.2,465.5 L748.9,465.5 L749.6,465.5 L750.3,465.5 L751,465.5 L751.7,465.5 L752.4,465.5 L753.1,465.6 L753.8,465.6 L754.5,465.6 L755.2,465.6 L755.9,465.6 L756.6,465.6 L757.3,465.6 L758,465.6 L758.7,465.6 L759.4,465.6 L760.1,465.6 L760.8,465.6 L761.5,465.6 L762.2,465.7 L762.9,465.7 L763.6,465.7 L764.3,465.7 L765,465.7 L765.7,465.7 L766.4,465.7 L767.1,465.7 L767.8,465.7 L768.5,465.7 L769.2,465.7 L769.9,465.7 L770.6,465.7 L771.3,465.7 L772,465.8 L772.7,465.8 L773.4,465.8 L774.1,465.8 L774.8,465.8 L775.5,465.8 L776.2,465.8 L776.9,465.8 L777.6,465.8 L778.3,465.8 L779,465.8 L779.7,465.8 L780.4,465.8 L781.1,465.8 L781.8,465.8 L782.5,465.8 L783.2,465.9 L783.9,465.9 L784.6,465.9 L785.3,465.9 L786,465.9 L786.7,465.9 L787.4,465.9 L788.1,465.9 L788.8,465.9 L789.5,465.9 L790.2,465.9 L790.9,465.9 L791.6,465.9 L792.3,465.9 L793,465.9 L793.7,465.9 L794.4,465.9 L795.1,465.9 L795.8,465.9 L796.5,466 L797.2,466 L797.9,466 L798.6,466 L799.3,466 L800,466 L800.7,466 L801.4,466 L802.1,466 L802.8,466 L803.1,466" fill="none" stroke="#ab4848" stroke-width="1.9" stroke-dasharray="7.5 2 1.6 2" stroke-linecap="butt"/>
<path d="M453.3,470.3 L454,470.3 L454.7,470.3 L455.4,470.3 L456.2,470.3 L456.9,470.3 L457.6,470.3 L458.3,470.3 L459,470.3 L459.7,470.3 L460.4,470.3 L461.1,470.3 L461.8,470.3 L462.5,470.3 L463.2,470.3 L463.9,470.3 L464.6,470.3 L465.3,470.3 L466,470.2 L466.7,470.2 L467.4,470.2 L468.1,470.2 L468.8,470.2 L469.5,470.2 L470.2,470.2 L470.9,470.2 L471.6,470.2 L472.3,470.2 L473,470.2 L473.7,470.1 L474.4,470.1 L475.1,470.1 L475.8,470.1 L476.5,470.1 L477.1,470.1 L477.8,470.1 L478.5,470 L479.2,470 L479.9,470 L480.6,470 L481.3,469.9 L482,469.8 L482.7,469.7 L483.4,469.6 L484.1,469.4 L484.8,469.2 L485.5,469 L486.1,468.7 L486.7,468.5 L487.3,468.2 L487.9,467.9 L488.5,467.5 L489.1,467 L489.6,466.6 L490.2,466.1 L490.7,465.6 L491.2,465.1 L491.6,464.6 L492.1,464.1 L492.6,463.6 L493,463 L493.4,462.4 L493.9,461.9 L494.3,461.3 L494.7,460.8 L495.1,460.2 L495.5,459.6 L495.8,459 L496.2,458.4 L496.6,457.8 L496.9,457.2 L497.3,456.6 L497.7,456 L498.1,455.4 L498.4,454.8 L498.8,454.2 L499.2,453.7 L499.5,453.1 L499.9,452.5 L500.3,451.9 L500.7,451.3 L501.1,450.7 L501.4,450.1 L501.8,449.5 L502.2,448.9 L502.6,448.3 L502.9,447.8 L503.3,447.2 L503.7,446.6 L504,446 L504.4,445.4 L504.8,444.8 L505.2,444.2 L505.5,443.6 L505.9,443 L506.3,442.4 L506.7,441.8 L507,441.2 L507.4,440.6 L507.8,440 L508.1,439.4 L508.5,438.8 L508.8,438.2 L509.1,437.6 L509.5,437 L509.8,436.4 L510.1,435.7 L510.4,435.1 L510.7,434.5 L511.1,433.9 L511.4,433.2 L511.7,432.6 L512,432 L512.3,431.3 L512.6,430.7 L512.9,430.1 L513.2,429.4 L513.5,428.8 L513.8,428.2 L514.1,427.6 L514.4,426.9 L514.7,426.3 L515,425.7 L515.3,425 L515.6,424.4 L515.9,423.8 L516.2,423.1 L516.4,422.5 L516.7,421.8 L516.9,421.2 L517.1,420.5 L517.3,419.8 L517.5,419.2 L517.7,418.5 L517.9,417.8 L518.1,417.1 L518.3,416.4 L518.5,415.8 L518.6,415.1 L518.8,414.4 L518.9,413.7 L519.1,413 L519.3,412.4 L519.4,411.7 L519.6,411 L519.7,410.3 L519.9,409.6 L520,408.9 L520.1,408.3 L520.3,407.6 L520.4,406.9 L520.5,406.2 L520.6,405.5 L520.7,404.8 L520.8,404.1 L520.9,403.4 L521,402.7 L521.1,402 L521.2,401.3 L521.3,400.6 L521.3,399.9 L521.4,399.2 L521.5,398.6 L521.6,397.9 L521.7,397.2 L521.8,396.5 L521.9,395.8 L522,395.1 L522.1,394.4 L522.2,393.7 L522.2,393 L522.3,392.3 L522.4,391.6 L522.5,390.9 L522.5,390.2 L522.6,389.5 L522.7,388.8 L522.7,388.1 L522.8,387.4 L522.8,386.7 L522.9,386 L523,385.3 L523,384.6 L523.1,383.9 L523.1,383.2 L523.2,382.5 L523.3,381.8 L523.4,381.2 L523.4,380.5 L523.5,379.8 L523.6,379.1 L523.7,378.4 L523.8,377.7 L523.9,377 L524,376.3 L524.1,375.6 L524.2,374.9 L524.2,374.2 L524.3,373.5 L524.4,372.8 L524.5,372.1 L524.6,371.4 L524.7,370.7 L524.8,370 L524.9,369.4 L525,368.7 L525.1,368 L525.2,367.3 L525.3,366.6 L525.4,365.9 L525.4,365.2 L525.5,364.5 L525.6,363.8 L525.6,363.1 L525.7,362.4 L525.7,361.7 L525.8,361 L525.9,360.3 L526,359.6 L526,358.9 L526.1,358.2 L526.3,357.5 L526.4,356.9 L526.5,356.2 L526.7,355.5 L526.9,354.8 L527,354.1 L527.2,353.4 L527.4,352.8 L527.6,352.1 L527.8,351.4 L527.9,350.7 L528.1,350.1 L528.3,349.4 L528.5,348.7 L528.7,348 L528.8,347.4 L529,346.7 L529.2,346 L529.4,345.3 L529.6,344.7 L529.8,344 L530,343.3 L530.2,342.6 L530.4,342 L530.6,341.3 L530.7,340.6 L530.9,339.9 L531,339.2 L531.2,338.6 L531.3,337.9 L531.4,337.2 L531.6,336.5 L531.7,335.8 L531.8,335.1 L531.9,334.4 L532.1,333.7 L532.2,333 L532.3,332.4 L532.4,331.7 L532.6,331 L532.7,330.3 L532.9,329.6 L533,328.9 L533.2,328.3 L533.4,327.6 L533.5,326.9 L533.7,326.2 L533.9,325.5 L534,324.9 L534.2,324.2 L534.4,323.5 L534.5,322.8 L534.7,322.1 L534.9,321.5 L535.1,320.8 L535.3,320.1 L535.5,319.4 L535.7,318.8 L535.9,318.1 L536,317.4 L536.2,316.7 L536.4,316.1 L536.5,315.4 L536.6,314.7 L536.7,314 L536.9,313.3 L537,312.6 L537.1,311.9 L537.2,311.2 L537.3,310.5 L537.4,309.8 L537.5,309.1 L537.6,308.5 L537.6,307.8 L537.7,307.1 L537.8,306.4 L537.9,305.7 L538,305 L538,304.3 L538.1,303.6 L538.2,302.9 L538.2,302.2 L538.3,301.5 L538.4,300.8 L538.4,300.1 L538.5,299.4 L538.5,298.7 L538.6,298 L538.6,297.3 L538.7,296.6 L538.7,295.9 L538.8,295.2 L538.8,294.5 L538.8,293.8 L538.9,293.1 L538.9,292.4 L539,291.7 L539,291 L539.1,290.3 L539.1,289.6 L539.2,288.9 L539.3,288.2 L539.3,287.5 L539.4,286.8 L539.5,286.1 L539.6,285.4 L539.6,284.7 L539.7,284.1 L539.8,283.4 L539.9,282.7 L539.9,282 L540,281.3 L540,280.6 L540.1,279.9 L540.2,279.2 L540.2,278.5 L540.3,277.8 L540.4,277.1 L540.4,276.4 L540.5,275.7 L540.6,275 L540.7,274.3 L540.9,273.6 L541,272.9 L541.2,272.3 L541.3,271.6 L541.5,270.9 L541.7,270.2 L541.9,269.5 L542.1,268.9 L542.3,268.2 L542.5,267.5 L542.7,266.9 L543,266.2 L543.2,265.6 L543.3,265.4 L543.5,266.1 L543.8,266.7 L544,267.4 L544.2,268.1 L544.4,268.7 L544.6,269.4 L544.7,270.1 L544.9,270.8 L545,271.4 L545.2,272.1 L545.3,272.8 L545.4,273.5 L545.5,274.2 L545.7,274.9 L545.8,275.6 L545.9,276.3 L546,277 L546.1,277.7 L546.2,278.4 L546.3,279.1 L546.4,279.7 L546.4,280.4 L546.5,281.1 L546.6,281.8 L546.7,282.5 L546.7,283.2 L546.8,283.9 L546.8,284.6 L546.8,285.3 L546.9,286 L546.9,286.7 L546.9,287.4 L547,288.1 L547,288.8 L547,289.5 L547.1,290.2 L547.1,290.9 L547.1,291.6 L547.2,292.3 L547.2,293 L547.2,293.7 L547.2,294.4 L547.3,295.1 L547.3,295.8 L547.3,296.5 L547.4,297.2 L547.4,297.9 L547.5,298.6 L547.5,299.3 L547.6,300 L547.6,300.7 L547.7,301.4 L547.8,302.1 L547.8,302.8 L547.9,303.5 L548,304.2 L548.1,304.9 L548.1,305.6 L548.2,306.3 L548.3,307 L548.3,307.7 L548.4,308.4 L548.4,309.1 L548.5,309.8 L548.5,310.5 L548.6,311.2 L548.6,311.9 L548.7,312.6 L548.7,313.3 L548.8,314 L548.8,314.7 L548.9,315.3 L549,316 L549.1,316.7 L549.2,317.4 L549.3,318.1 L549.4,318.8 L549.5,319.5 L549.6,320.2 L549.7,320.9 L549.9,321.6 L550,322.3 L550.1,323 L550.3,323.6 L550.4,324.3 L550.5,325 L550.7,325.7 L550.9,326.4 L551,327.1 L551.2,327.7 L551.4,328.4 L551.5,329.1 L551.7,329.8 L551.9,330.5 L552,331.1 L552.2,331.8 L552.4,332.5 L552.6,333.2 L552.7,333.8 L552.9,334.5 L553.1,335.2 L553.3,335.9 L553.5,336.5 L553.6,337.2 L553.8,337.9 L554,338.6 L554.2,339.3 L554.3,339.9 L554.5,340.6 L554.6,341.3 L554.8,342 L554.9,342.7 L555.1,343.4 L555.2,344 L555.3,344.7 L555.5,345.4 L555.6,346.1 L555.8,346.8 L555.9,347.5 L556.1,348.2 L556.2,348.8 L556.4,349.5 L556.5,350.2 L556.7,350.9 L556.9,351.6 L557.1,352.2 L557.3,352.9 L557.5,353.6 L557.8,354.2 L558,354.9 L558.2,355.6 L558.4,356.2 L558.6,356.9 L558.8,357.6 L558.9,358.3 L559.1,358.9 L559.2,359.6 L559.3,360.3 L559.4,361 L559.5,361.7 L559.6,362.4 L559.7,363.1 L559.8,363.8 L559.9,364.5 L560,365.2 L560.1,365.9 L560.2,366.6 L560.3,367.2 L560.4,367.9 L560.5,368.6 L560.6,369.3 L560.7,370 L560.8,370.7 L560.9,371.4 L560.9,372.1 L561,372.8 L561.1,373.5 L561.2,374.2 L561.2,374.9 L561.3,375.6 L561.3,376.3 L561.4,377 L561.4,377.7 L561.5,378.4 L561.5,379.1 L561.6,379.8 L561.6,380.5 L561.7,381.2 L561.7,381.9 L561.8,382.6 L561.9,383.3 L561.9,384 L562,384.7 L562.1,385.4 L562.2,386 L562.3,386.7 L562.4,387.4 L562.5,388.1 L562.6,388.8 L562.7,389.5 L562.8,390.2 L562.8,390.9 L562.9,391.6 L562.9,392.3 L563,393 L563.1,393.7 L563.1,394.4 L563.2,395.1 L563.2,395.8 L563.3,396.5 L563.3,397.2 L563.3,397.9 L563.4,398.6 L563.4,399.3 L563.5,400 L563.5,400.7 L563.6,401.4 L563.6,402.1 L563.7,402.8 L563.7,403.5 L563.8,404.2 L563.8,404.9 L563.8,405.6 L563.9,406.3 L563.9,407 L563.9,407.7 L564,408.4 L564,409.1 L564,409.8 L564,410.5 L564.1,411.2 L564.1,411.9 L564.1,412.6 L564.2,413.3 L564.2,414 L564.3,414.7 L564.4,415.4 L564.5,416 L564.6,416.7 L564.7,417.4 L564.8,418.1 L564.9,418.8 L565.1,419.5 L565.2,420.2 L565.3,420.9 L565.4,421.6 L565.6,422.3 L565.7,422.9 L565.8,423.6 L566,424.3 L566.1,425 L566.3,425.7 L566.4,426.4 L566.6,427 L566.8,427.7 L567,428.4 L567.1,429.1 L567.3,429.7 L567.5,430.4 L567.7,431.1 L567.9,431.8 L568.2,432.4 L568.4,433.1 L568.6,433.8 L568.9,434.4 L569.1,435.1 L569.3,435.7 L569.6,436.4 L569.8,437 L570.1,437.7 L570.4,438.3 L570.7,439 L571,439.6 L571.3,440.3 L571.6,440.9 L571.9,441.5 L572.2,442.1 L572.5,442.7 L572.9,443.3 L573.3,443.9 L573.6,444.5 L574,445.1 L574.5,445.6 L574.9,446.2 L575.3,446.8 L575.8,447.3 L576.2,447.9 L576.7,448.4 L577.1,448.9 L577.6,449.5 L578,450 L578.5,450.5 L579,451 L579.5,451.5 L580,452 L580.5,452.5 L581,453 L581.5,453.5 L582,454 L582.5,454.5 L583.1,454.9 L583.6,455.4 L584.2,455.8 L584.7,456.2 L585.3,456.6 L585.9,457 L586.4,457.3 L587,457.7 L587.6,458 L588.3,458.4 L588.9,458.7 L589.5,459 L590.2,459.3 L590.8,459.6 L591.5,459.9 L592.1,460.2 L592.8,460.4 L593.4,460.7 L594.1,460.9 L594.7,461.1 L595.4,461.4 L596.1,461.6 L596.7,461.8 L597.4,462 L598.1,462.2 L598.8,462.3 L599.5,462.4 L600.1,462.5 L600.8,462.6 L601.5,462.7 L602.2,462.8 L602.9,462.8 L603.6,462.9 L604.3,463 L605,463 L605.7,463.1 L606.4,463.1 L607.1,463.2 L607.8,463.2 L608.5,463.3 L609.2,463.3 L609.9,463.4 L610.6,463.4 L611.3,463.5 L612,463.5 L612.7,463.5 L613.4,463.5 L614.1,463.6 L614.8,463.6 L615.5,463.6 L616.2,463.7 L616.9,463.7 L617.6,463.7 L618.3,463.7 L619,463.7 L619.7,463.8 L620.4,463.8 L621.1,463.8 L621.8,463.8 L622.5,463.8 L623.2,463.9 L623.9,463.9 L624.6,463.9 L625.3,463.9 L626,463.9 L626.7,463.9 L627.4,464 L628.1,464 L628.8,464 L629.5,464 L630.2,464 L630.9,464 L631.6,464.1 L632.3,464.1 L633,464.1 L633.7,464.1 L634.4,464.1 L635.1,464.2 L635.8,464.2 L636.5,464.2 L637.2,464.2 L637.9,464.2 L638.6,464.2 L639.3,464.3 L640,464.3 L640.7,464.3 L641.4,464.3 L642.1,464.3 L642.8,464.3 L643.5,464.4 L644.2,464.4 L644.9,464.4 L645.6,464.4 L646.3,464.4 L647,464.4 L647.7,464.4 L648.4,464.5 L649.1,464.5 L649.8,464.5 L650.5,464.5 L651.2,464.5 L651.9,464.5 L652.6,464.5 L653.3,464.6 L654,464.6 L654.7,464.6 L655.4,464.6 L656.1,464.6 L656.8,464.6 L657.5,464.6 L658.2,464.6 L658.9,464.7 L659.6,464.7 L660.3,464.7 L661,464.7 L661.7,464.7 L662.4,464.7 L663.1,464.7 L663.8,464.7 L664.5,464.8 L665.2,464.8 L665.9,464.8 L666.6,464.8 L667.3,464.8 L668,464.8 L668.7,464.8 L669.4,464.8 L670.1,464.8 L670.8,464.9 L671.5,464.9 L672.2,464.9 L672.9,464.9 L673.6,464.9 L674.3,464.9 L675,464.9 L675.7,464.9 L676.4,464.9 L677.1,465 L677.8,465 L678.5,465 L679.2,465 L679.9,465 L680.6,465 L681.3,465 L682,465 L682.7,465 L683.4,465 L684.1,465.1 L684.8,465.1 L685.5,465.1 L686.2,465.1 L686.9,465.1 L687.6,465.1 L688.3,465.1 L689,465.1 L689.7,465.1 L690.4,465.1 L691.1,465.1 L691.8,465.2 L692.5,465.2 L693.2,465.2 L693.9,465.2 L694.6,465.2 L695.3,465.2 L696,465.2 L696.7,465.2 L697.4,465.2 L698.1,465.2 L698.8,465.2 L699.5,465.3 L700.2,465.3 L700.9,465.3 L701.6,465.3 L702.3,465.3 L703,465.3 L703.7,465.3 L704.4,465.3 L705.1,465.3 L705.8,465.3 L706.5,465.3 L707.2,465.3 L707.9,465.4 L708.6,465.4 L709.3,465.4 L710,465.4 L710.7,465.4 L711.4,465.4 L712.1,465.4 L712.8,465.4 L713.5,465.4 L714.2,465.4 L714.9,465.4 L715.6,465.4 L716.3,465.5 L717,465.5 L717.7,465.5 L718.4,465.5 L719.1,465.5 L719.8,465.5 L720.5,465.5 L721.2,465.5 L721.9,465.5 L722.6,465.5 L723.3,465.5 L724,465.5 L724.7,465.6 L725.4,465.6 L726.1,465.6 L726.8,465.6 L727.5,465.6 L728.2,465.6 L728.9,465.6 L729.6,465.6 L730.3,465.6 L731,465.6 L731.7,465.6 L732.4,465.6 L733.1,465.6 L733.8,465.6 L734.5,465.7 L735.2,465.7 L735.9,465.7 L736.6,465.7 L737.3,465.7 L738,465.7 L738.7,465.7 L739.4,465.7 L740.1,465.7 L740.8,465.7 L741.5,465.7 L742.2,465.7 L742.9,465.7 L743.6,465.7 L744.3,465.8 L745,465.8 L745.7,465.8 L746.4,465.8 L747.1,465.8 L747.8,465.8 L748.5,465.8 L749.2,465.8 L749.9,465.8 L750.6,465.8 L751.3,465.8 L752,465.8 L752.7,465.8 L753.4,465.8 L754.1,465.8 L754.8,465.8 L755.5,465.9 L756.2,465.9 L756.9,465.9 L757.6,465.9 L758.3,465.9 L759,465.9 L759.7,465.9 L760.4,465.9 L761.1,465.9 L761.8,465.9 L762.5,465.9 L763.2,465.9 L763.9,465.9 L764.6,465.9 L765.3,465.9 L766,465.9 L766.7,465.9 L767.4,465.9 L768.1,465.9 L768.8,466 L769.5,466 L770.2,466 L770.9,466 L771.6,466 L772.3,466 L773,466 L773.3,466" fill="none" stroke="#111" stroke-width="2.3" stroke-linejoin="round"/>
</g>
<rect x="469.2" y="245.1" width="266.5" height="227" fill="none" stroke="#111" stroke-width="2"/>
<path d="M469.2,279.2 L473.7,279.2" stroke="#111" stroke-width="2"/>
<path d="M469.2,313.3 L473.7,313.3" stroke="#111" stroke-width="2"/>
<path d="M469.2,347.4 L473.7,347.4" stroke="#111" stroke-width="2"/>
<path d="M469.2,381.5 L473.7,381.5" stroke="#111" stroke-width="2"/>
<path d="M469.2,415.6 L473.7,415.6" stroke="#111" stroke-width="2"/>
<path d="M469.2,449.7 L473.7,449.7" stroke="#111" stroke-width="2"/>
<text x="463.6" y="248.9" font-size="12" text-anchor="end" fill="#161616" stroke="#161616" stroke-width="0.4" >0</text>
<text x="463.6" y="283" font-size="12" text-anchor="end" fill="#161616" stroke="#161616" stroke-width="0.4" >-10</text>
<text x="463.6" y="317.1" font-size="12" text-anchor="end" fill="#161616" stroke="#161616" stroke-width="0.4" >-20</text>
<text x="463.6" y="351.2" font-size="12" text-anchor="end" fill="#161616" stroke="#161616" stroke-width="0.4" >-30</text>
<text x="463.6" y="385.3" font-size="12" text-anchor="end" fill="#161616" stroke="#161616" stroke-width="0.4" >-40</text>
<text x="463.6" y="419.4" font-size="12" text-anchor="end" fill="#161616" stroke="#161616" stroke-width="0.4" >-50</text>
<text x="463.6" y="453.5" font-size="12" text-anchor="end" fill="#161616" stroke="#161616" stroke-width="0.4" >-60</text>
<text x="473.6" y="487.8" font-size="12" text-anchor="middle" fill="#161616" stroke="#161616" stroke-width="0.4" >1549.8</text>
<text x="526.1" y="487.8" font-size="12" text-anchor="middle" fill="#161616" stroke="#161616" stroke-width="0.4" >1550.0</text>
<text x="578" y="487.8" font-size="12" text-anchor="middle" fill="#161616" stroke="#161616" stroke-width="0.4" >1550.2</text>
<text x="685.7" y="487.8" font-size="12" text-anchor="middle" fill="#161616" stroke="#161616" stroke-width="0.4" >1550.6</text>
<text x="737.9" y="487.8" font-size="12" text-anchor="middle" fill="#161616" stroke="#161616" stroke-width="0.4" >1550.8</text>
<text x="615.9" y="487.8" font-size="12" text-anchor="start" fill="#161616" stroke="#161616" stroke-width="0.4" >1550</text>
<rect x="646.6" y="485" width="3.2" height="1.8" fill="#222"/>
<text x="615.6" y="509.8" font-size="12.5" text-anchor="middle" fill="#161616" stroke="#161616" stroke-width="0.4" >Wavelength/nm</text>
<text x="0" y="0" font-size="12.5" fill="#161616" stroke="#161616" stroke-width="0.4" text-anchor="middle" transform="translate(423.3 373.5) rotate(-90)">Power/dBm</text>
<text x="410.4" y="249.4" font-size="12" text-anchor="start" fill="#161616" stroke="#161616" stroke-width="0.4" >(c)</text>
<g fill="none" stroke="#a0a0a0" stroke-width="0.9">
<path d="M641.6,490.6 L646,496.6 C648,498 651,498.6 653.6,498.4"/>
<path d="M653.6,495.5 C654,491.2 657,488.6 661,488.1 L665.5,488.1 C669.5,488.6 671.4,492 671.4,496 L670.6,502.5"/>
<path d="M653.8,498.4 L658.4,503.6 L669.4,503.8"/>
</g>
<g fill="#8a8a8a"><circle cx="658.9" cy="493" r="0.8"/><circle cx="666" cy="492.4" r="0.8"/><rect x="649" y="478.6" width="1.6" height="1" fill="#999"/><rect x="656" y="484.8" width="1.8" height="0.9" fill="#999"/></g>
<g fill="none" stroke="#ffffff" stroke-width="3.6" stroke-linecap="square" opacity="0.85"><path d="M688.5,485 L689.0,487 M682.0,487.5 L696.5,487.5 M682.5,487.5 L682.5,496 C682.5,499 681.5,501 680.5,502 M685.5,490.5 L694.5,490.5 L694.5,494.5 L685.5,494.5 M684.5,492.5 L696.5,492.5 M690.0,489 L690.0,501.5 M685.5,496.5 L687.5,498 M684.5,501 L688.5,498.5 M691.5,497.5 L696.5,501.5 M694.5,496 L692.5,497.5 M698.2,489.5 L698.2,487 L713.2,487 L713.2,489 M699.7,490.5 L705.2,490.5 M698.7,493.5 L706.2,493.5 M701.2,493.5 C701.2,497 700.2,500 698.2,501.5 M703.7,493.5 L703.7,500 C703.7,501 704.7,501.3 706.2,501 M706.7,491.5 L713.7,491.5 M711.2,489.5 L711.2,500.5 C711.2,501.5 710.2,502 708.7,501.5 M707.7,495 L709.2,497 M723.5,485 L723.5,493 M718.5,487 L720.0,490.5 M728.5,487 L727.0,490.5 M715.5,493.5 L731.5,493.5 M721.0,493.5 C721.0,498 719.5,501 715.5,502 M726.0,493.5 L726.0,500.5 C726.0,501.8 727.0,502 728.5,502 L732.0,502 L732.0,499 M737.5,489 L750.0,489 L750.0,498 L737.5,498 Z M737.5,493.5 L750.0,493.5 M743.7,485.5 L743.7,500 C743.7,501.5 744.5,502 746.5,502 L752.5,502 L752.5,499.5"/></g>
<g fill="none" stroke="#4a4a4a" stroke-width="2.6" stroke-linecap="butt" transform="translate(0.3 0.5)"><path d="M688.5,485 L689.0,487 M682.0,487.5 L696.5,487.5 M682.5,487.5 L682.5,496 C682.5,499 681.5,501 680.5,502 M685.5,490.5 L694.5,490.5 L694.5,494.5 L685.5,494.5 M684.5,492.5 L696.5,492.5 M690.0,489 L690.0,501.5 M685.5,496.5 L687.5,498 M684.5,501 L688.5,498.5 M691.5,497.5 L696.5,501.5 M694.5,496 L692.5,497.5 M698.2,489.5 L698.2,487 L713.2,487 L713.2,489 M699.7,490.5 L705.2,490.5 M698.7,493.5 L706.2,493.5 M701.2,493.5 C701.2,497 700.2,500 698.2,501.5 M703.7,493.5 L703.7,500 C703.7,501 704.7,501.3 706.2,501 M706.7,491.5 L713.7,491.5 M711.2,489.5 L711.2,500.5 C711.2,501.5 710.2,502 708.7,501.5 M707.7,495 L709.2,497 M723.5,485 L723.5,493 M718.5,487 L720.0,490.5 M728.5,487 L727.0,490.5 M715.5,493.5 L731.5,493.5 M721.0,493.5 C721.0,498 719.5,501 715.5,502 M726.0,493.5 L726.0,500.5 C726.0,501.8 727.0,502 728.5,502 L732.0,502 L732.0,499 M737.5,489 L750.0,489 L750.0,498 L737.5,498 Z M737.5,493.5 L750.0,493.5 M743.7,485.5 L743.7,500 C743.7,501.5 744.5,502 746.5,502 L752.5,502 L752.5,499.5"/></g>
<g fill="none" stroke="#ffffff" stroke-width="1.3" stroke-linecap="butt"><path d="M688.5,485 L689.0,487 M682.0,487.5 L696.5,487.5 M682.5,487.5 L682.5,496 C682.5,499 681.5,501 680.5,502 M685.5,490.5 L694.5,490.5 L694.5,494.5 L685.5,494.5 M684.5,492.5 L696.5,492.5 M690.0,489 L690.0,501.5 M685.5,496.5 L687.5,498 M684.5,501 L688.5,498.5 M691.5,497.5 L696.5,501.5 M694.5,496 L692.5,497.5 M698.2,489.5 L698.2,487 L713.2,487 L713.2,489 M699.7,490.5 L705.2,490.5 M698.7,493.5 L706.2,493.5 M701.2,493.5 C701.2,497 700.2,500 698.2,501.5 M703.7,493.5 L703.7,500 C703.7,501 704.7,501.3 706.2,501 M706.7,491.5 L713.7,491.5 M711.2,489.5 L711.2,500.5 C711.2,501.5 710.2,502 708.7,501.5 M707.7,495 L709.2,497 M723.5,485 L723.5,493 M718.5,487 L720.0,490.5 M728.5,487 L727.0,490.5 M715.5,493.5 L731.5,493.5 M721.0,493.5 C721.0,498 719.5,501 715.5,502 M726.0,493.5 L726.0,500.5 C726.0,501.8 727.0,502 728.5,502 L732.0,502 L732.0,499 M737.5,489 L750.0,489 L750.0,498 L737.5,498 Z M737.5,493.5 L750.0,493.5 M743.7,485.5 L743.7,500 C743.7,501.5 744.5,502 746.5,502 L752.5,502 L752.5,499.5"/></g>
</svg>
</body></html>
